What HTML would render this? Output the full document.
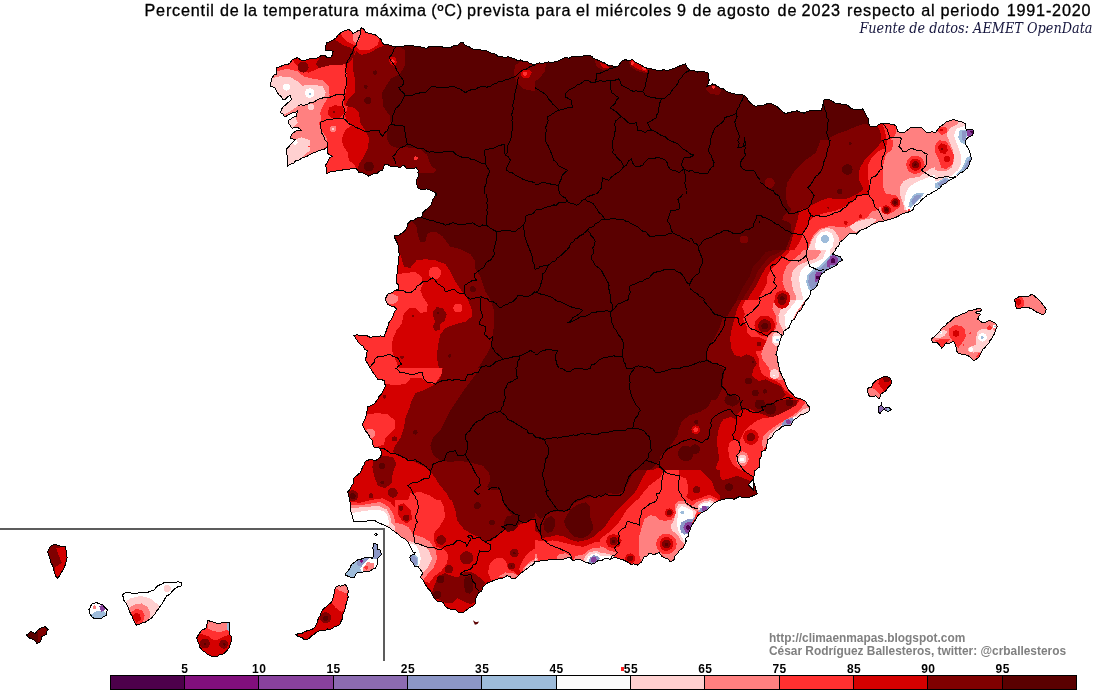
<!DOCTYPE html>
<html><head><meta charset="utf-8"><title>Percentil de la temperatura máxima</title>
<style>
html,body{margin:0;padding:0;background:#fff}
body{width:1098px;height:696px;position:relative;overflow:hidden;font-family:"Liberation Sans",sans-serif}
.title{position:absolute;left:0;top:-0.4px;width:1098px;height:21px;font-size:16.2px;letter-spacing:0.805px;-webkit-text-stroke:0.3px #000;line-height:21px;white-space:pre;color:#000}
.title span{position:absolute;top:0}
.src{position:absolute;right:5.5px;top:20.3px;font-family:"DejaVu Serif Condensed","DejaVu Serif","Liberation Serif",serif;font-style:italic;font-size:14.3px;line-height:17px;white-space:nowrap;color:#14143c}
.cred{position:absolute;left:769px;font-weight:bold;font-size:11.9px;line-height:13px;white-space:nowrap;color:#808080}
</style></head><body>
<svg width="1098" height="696" viewBox="0 0 1098 696" style="position:absolute;left:0;top:0">
<defs>
<clipPath id="land"><path d="M287.0,166.5 L287.6,163.0 L287.8,159.1 L287.1,155.7 L286.7,153.1 L286.5,149.0 L290.1,145.2 L293.0,141.7 L295.1,139.7 L290.1,138.2 L292.1,134.0 L294.8,131.8 L297.4,130.5 L301.3,130.2 L297.6,127.2 L292.1,128.2 L289.1,124.0 L288.1,120.7 L291.5,118.5 L293.9,117.1 L296.3,116.4 L297.6,110.7 L294.3,113.0 L292.3,112.9 L287.2,115.6 L285.0,117.2 L282.7,113.8 L280.8,112.7 L281.3,109.2 L283.8,106.4 L285.8,104.6 L288.0,102.7 L291.3,99.6 L290.6,95.1 L287.4,96.9 L285.6,99.1 L283.0,100.1 L281.4,96.9 L278.8,94.6 L276.7,91.6 L275.0,87.6 L270.5,86.4 L270.9,82.4 L272.0,78.1 L273.9,75.2 L277.0,73.8 L276.9,69.9 L276.3,67.6 L280.1,66.7 L284.7,64.6 L287.6,64.6 L290.2,63.0 L292.1,59.6 L297.6,57.6 L301.0,60.1 L304.6,60.6 L307.6,59.4 L311.8,58.4 L313.8,58.8 L317.7,57.8 L321.2,55.6 L324.6,55.1 L327.2,57.6 L330.1,58.1 L332.1,55.4 L333.1,51.3 L328.8,50.1 L325.6,50.1 L325.3,47.4 L326.4,43.0 L329.5,41.8 L333.1,40.0 L336.0,38.1 L337.8,35.3 L340.6,33.0 L344.8,30.4 L348.9,29.5 L351.8,31.8 L353.2,33.8 L356.8,31.2 L359.5,30.5 L361.4,27.5 L364.1,29.5 L365.7,32.5 L371.5,33.8 L375.9,35.1 L379.0,38.0 L381.2,39.4 L382.6,43.3 L384.7,45.0 L388.3,44.7 L392.7,46.4 L396.5,46.5 L400.8,47.0 L403.9,46.0 L407.8,45.9 L410.3,46.0 L413.3,45.9 L416.2,46.8 L419.2,46.1 L422.8,47.6 L426.7,48.3 L429.2,46.5 L432.7,46.5 L437.2,46.9 L440.3,46.0 L443.6,47.5 L447.8,47.0 L450.8,47.6 L453.4,45.5 L457.5,45.9 L459.4,43.1 L462.9,42.5 L465.8,45.8 L468.7,46.4 L472.9,49.1 L475.7,49.3 L479.9,49.5 L481.8,50.3 L485.3,50.5 L487.9,51.3 L491.9,53.4 L495.5,54.2 L497.9,56.6 L501.5,56.2 L504.6,58.0 L508.4,56.6 L510.5,57.6 L514.3,58.5 L517.0,60.3 L520.4,60.0 L523.0,61.3 L526.7,61.0 L528.9,63.0 L532.2,64.2 L535.0,64.6 L539.2,62.8 L542.6,63.4 L545.0,62.6 L548.2,61.9 L552.7,62.6 L555.0,61.3 L558.1,61.1 L561.9,59.2 L565.1,57.6 L569.2,58.2 L570.9,56.9 L575.1,56.3 L577.4,56.1 L582.0,56.4 L583.6,55.6 L587.6,55.1 L591.6,56.3 L593.5,58.2 L596.4,59.6 L598.7,60.4 L601.0,61.7 L604.6,63.0 L607.6,65.1 L610.8,65.0 L614.9,67.0 L617.7,66.3 L620.5,63.1 L621.4,61.3 L625.3,59.7 L628.4,60.5 L632.7,59.6 L635.5,62.2 L637.9,63.3 L640.2,64.6 L642.2,65.9 L645.3,67.6 L649.0,68.8 L654.1,69.2 L657.7,70.6 L660.7,71.0 L663.3,69.5 L666.9,70.5 L670.2,69.6 L673.6,68.4 L675.7,67.6 L679.0,66.3 L681.4,65.1 L685.3,63.8 L687.4,67.9 L690.3,70.1 L693.5,70.6 L697.8,72.1 L700.9,71.6 L704.0,71.9 L707.8,72.6 L708.7,75.5 L709.1,80.1 L708.3,83.5 L706.6,86.4 L710.2,85.5 L712.8,83.9 L716.1,85.2 L720.3,88.1 L723.0,88.7 L727.5,91.9 L730.4,92.6 L732.8,93.9 L737.9,94.2 L739.8,94.7 L744.1,95.1 L747.0,98.1 L747.9,100.1 L750.6,103.1 L751.9,104.1 L755.4,106.4 L758.8,105.7 L761.5,105.3 L765.0,104.9 L767.9,103.2 L770.6,103.6 L773.8,104.8 L776.7,106.4 L778.6,108.3 L781.6,110.7 L785.5,113.9 L788.5,112.5 L794.0,111.6 L796.7,110.7 L800.5,112.1 L804.2,113.2 L806.9,111.7 L810.0,110.7 L814.6,110.3 L817.6,110.6 L821.3,110.7 L822.6,106.2 L823.0,104.5 L823.0,100.1 L828.8,99.6 L832.8,101.5 L835.0,103.2 L837.2,103.9 L840.4,103.9 L845.1,104.6 L847.6,105.2 L851.3,108.9 L855.1,109.1 L859.6,109.6 L862.6,108.9 L865.1,112.8 L866.4,116.4 L868.6,118.7 L868.9,124.0 L870.1,126.4 L873.2,126.7 L876.4,126.4 L879.0,124.2 L882.6,123.2 L886.1,123.1 L888.9,123.8 L894.0,124.7 L896.4,126.4 L897.7,131.5 L899.8,132.6 L903.9,132.7 L907.6,130.1 L910.2,127.7 L913.5,127.9 L917.8,127.0 L920.2,127.2 L922.0,128.1 L925.1,131.4 L927.7,132.7 L932.0,131.8 L935.2,132.7 L938.1,129.2 L940.2,126.4 L943.7,124.4 L946.5,121.4 L950.9,120.6 L952.7,119.8 L956.5,120.2 L959.5,121.8 L963.2,122.1 L965.3,123.9 L965.3,127.9 L966.5,130.2 L969.3,129.4 L974.0,130.2 L972.8,135.2 L967.8,137.7 L965.7,140.3 L965.3,144.0 L967.9,147.6 L969.0,150.2 L970.3,153.4 L970.9,156.5 L971.5,159.0 L969.9,161.6 L969.1,164.5 L967.8,167.8 L965.9,169.0 L963.4,171.7 L960.3,172.8 L956.5,176.5 L953.6,178.2 L949.0,180.3 L945.9,183.4 L942.3,184.5 L940.2,187.8 L936.2,190.3 L932.7,192.0 L930.2,194.1 L927.7,194.0 L926.1,196.4 L922.6,198.8 L920.2,201.5 L918.6,203.4 L914.1,206.3 L913.0,209.6 L910.2,211.5 L907.0,212.5 L902.8,213.5 L899.7,215.0 L897.7,216.5 L894.0,218.0 L891.9,218.8 L888.3,219.9 L885.1,220.3 L882.8,222.0 L879.2,221.3 L876.4,222.8 L872.3,224.4 L868.9,226.6 L866.3,228.1 L862.4,229.8 L860.1,230.3 L856.3,234.1 L853.3,233.1 L848.8,234.1 L846.7,236.6 L842.6,240.3 L839.7,242.3 L838.7,245.7 L836.3,247.8 L835.3,250.3 L832.5,254.1 L837.0,255.6 L840.1,256.6 L842.6,260.4 L838.8,262.2 L836.3,265.4 L831.8,267.8 L828.8,269.1 L825.3,270.5 L824.2,272.2 L821.3,274.1 L819.8,277.4 L818.8,280.4 L817.7,284.4 L816.5,286.3 L813.8,289.2 L810.8,290.6 L810.0,294.2 L810.0,295.4 L808.4,297.9 L805.4,301.3 L804.2,304.2 L802.9,305.7 L800.9,310.3 L798.0,311.7 L796.2,316.0 L794.2,319.2 L791.7,320.9 L790.0,325.2 L789.5,327.4 L786.7,329.2 L784.0,331.1 L783.2,334.5 L781.7,336.8 L780.1,340.3 L779.2,344.3 L777.5,347.6 L777.5,350.1 L775.9,354.3 L777.4,356.7 L777.1,360.1 L778.7,364.3 L779.2,368.1 L779.7,370.9 L781.2,373.9 L783.0,378.0 L784.4,379.9 L785.8,384.3 L786.9,386.4 L788.0,389.3 L791.2,392.9 L793.7,395.4 L795.5,397.6 L800.3,398.6 L803.0,400.1 L805.6,401.4 L807.7,405.4 L809.2,406.8 L810.0,409.6 L808.0,412.0 L804.7,413.8 L800.4,414.9 L798.0,417.3 L795.0,419.0 L792.7,421.6 L791.0,425.1 L787.0,425.2 L784.2,425.9 L781.9,426.8 L778.9,429.4 L776.3,430.8 L773.7,433.6 L772.2,437.1 L767.7,439.6 L766.9,444.9 L765.9,449.9 L761.7,451.7 L761.7,455.7 L759.9,458.7 L759.6,462.3 L759.2,467.2 L754.9,470.7 L754.8,473.1 L753.9,476.7 L753.2,480.4 L753.9,482.7 L755.4,486.9 L755.7,489.7 L757.4,494.0 L753.1,495.7 L749.7,497.3 L746.1,497.5 L742.1,497.5 L739.4,496.5 L734.1,499.2 L728.9,498.2 L723.8,499.2 L718.6,500.7 L713.3,503.5 L710.1,507.0 L706.6,510.3 L701.3,513.0 L698.0,515.5 L695.3,520.0 L694.3,521.8 L691.5,525.8 L690.0,530.2 L688.3,533.3 L688.1,536.4 L685.5,538.4 L685.3,542.1 L686.5,540.8 L685.4,543.6 L682.8,548.3 L679.2,550.4 L677.8,553.3 L674.9,556.2 L674.0,559.6 L670.2,562.1 L668.5,559.1 L665.2,558.3 L661.9,556.2 L659.0,552.6 L654.0,554.6 L649.0,553.3 L647.1,556.0 L643.9,557.1 L641.4,562.1 L637.7,565.1 L633.7,563.8 L631.4,564.6 L627.7,562.1 L622.7,559.6 L618.3,558.7 L615.1,557.1 L610.1,559.6 L607.2,558.4 L603.9,559.1 L600.8,561.0 L597.6,560.8 L595.1,563.0 L591.4,564.1 L587.6,562.7 L585.1,562.1 L580.1,559.6 L576.1,559.8 L572.6,560.8 L570.1,557.1 L567.7,557.8 L562.9,559.3 L560.0,559.1 L555.9,559.1 L552.5,559.6 L549.1,559.7 L545.0,560.8 L541.1,560.5 L539.2,561.2 L535.0,561.6 L533.5,564.6 L530.5,565.8 L527.4,568.5 L525.5,569.6 L522.7,572.0 L520.5,573.3 L517.2,576.8 L515.5,578.4 L511.7,578.6 L509.6,576.2 L506.7,575.8 L503.9,577.8 L500.4,578.4 L495.9,579.5 L492.9,580.9 L488.1,582.6 L485.4,584.6 L483.0,587.0 L481.7,590.9 L478.5,593.0 L476.6,597.1 L475.1,600.0 L475.4,603.4 L473.1,605.8 L470.4,607.2 L468.3,608.6 L465.4,610.9 L463.0,612.5 L459.1,612.7 L455.4,609.7 L451.5,609.5 L447.8,608.4 L445.2,606.0 L442.8,602.1 L438.0,601.6 L435.3,599.6 L432.8,595.9 L431.2,592.7 L430.5,591.0 L427.8,588.4 L425.4,584.6 L424.0,582.1 L422.5,579.2 L420.3,577.1 L422.8,573.3 L420.8,570.1 L418.3,566.8 L414.8,566.1 L413.0,563.3 L411.0,560.8 L409.8,557.1 L411.3,555.3 L414.8,554.1 L415.3,552.3 L413.0,552.1 L411.3,548.8 L409.8,545.3 L408.0,541.8 L404.5,538.3 L401.4,537.6 L399.3,535.1 L396.1,532.8 L394.0,530.8 L391.9,529.9 L389.0,527.3 L383.7,525.0 L378.7,522.8 L375.2,520.8 L369.9,520.3 L365.5,521.4 L361.6,521.6 L358.9,521.3 L353.9,522.0 L352.6,518.2 L352.5,515.9 L351.4,513.3 L350.7,510.8 L350.0,507.3 L350.2,503.2 L349.8,499.7 L348.6,495.9 L347.7,492.0 L350.5,488.5 L351.4,485.7 L353.6,483.0 L353.9,478.2 L355.5,476.5 L359.8,473.1 L361.4,470.7 L362.4,467.2 L364.7,463.8 L365.2,461.2 L369.2,459.8 L371.2,459.2 L374.9,460.9 L377.7,459.4 L380.2,457.2 L381.5,454.4 L381.5,452.1 L380.2,448.1 L376.3,447.8 L374.0,446.9 L372.7,444.4 L372.4,440.5 L370.2,438.1 L369.3,436.1 L366.7,432.1 L365.2,430.6 L362.7,425.6 L363.0,422.8 L365.7,418.0 L366.4,414.3 L367.1,410.1 L367.2,406.8 L371.5,405.6 L374.9,403.2 L377.7,399.3 L379.4,395.7 L381.5,394.3 L382.9,391.1 L385.2,386.8 L384.9,382.9 L384.0,380.5 L381.0,379.5 L377.7,379.3 L375.2,375.5 L373.5,373.4 L371.6,370.1 L370.2,368.0 L368.6,365.4 L366.3,361.2 L365.2,359.3 L366.9,355.5 L366.3,353.8 L367.7,350.5 L364.5,349.3 L363.0,346.1 L360.2,344.3 L358.1,342.0 L356.3,339.2 L353.9,335.5 L357.5,334.8 L360.8,335.8 L362.9,335.5 L367.2,335.9 L370.2,337.3 L373.1,336.7 L377.8,336.9 L380.5,335.9 L384.0,336.8 L385.7,332.5 L386.7,329.2 L387.7,326.7 L388.9,322.5 L391.5,319.2 L393.1,316.2 L394.6,311.6 L396.5,309.2 L394.4,306.9 L391.2,306.2 L387.7,304.2 L385.2,299.2 L387.7,294.2 L391.6,292.8 L393.3,291.7 L395.4,290.2 L399.0,289.2 L398.9,285.0 L396.2,282.8 L396.5,279.2 L396.7,275.1 L397.6,271.8 L397.8,269.1 L397.7,266.0 L398.4,264.2 L398.7,261.1 L398.8,256.7 L399.8,254.1 L398.5,251.8 L398.7,248.1 L397.8,244.1 L395.8,240.2 L394.0,236.1 L399.0,235.3 L400.4,234.0 L404.0,231.6 L406.2,229.1 L407.4,226.3 L408.0,223.4 L410.3,221.0 L414.6,219.7 L416.7,218.0 L420.3,217.8 L422.5,215.4 L422.8,212.5 L425.3,210.3 L428.3,208.0 L431.6,204.0 L432.5,199.9 L433.9,197.9 L436.6,194.0 L436.9,196.2 L435.0,192.5 L431.6,190.8 L428.8,189.4 L426.1,188.9 L422.5,190.0 L418.1,188.1 L416.2,183.1 L416.6,179.3 L418.8,176.2 L418.0,172.9 L418.1,170.0 L416.2,167.8 L411.2,169.0 L406.2,168.1 L403.8,165.0 L400.0,167.5 L395.0,166.2 L391.2,166.9 L387.5,164.4 L384.4,165.0 L382.5,170.6 L378.9,171.3 L377.2,173.7 L373.8,173.8 L368.8,176.2 L363.8,173.1 L358.8,172.5 L356.2,168.0 L353.2,168.1 L348.4,169.3 L346.3,169.3 L342.5,170.0 L340.1,170.9 L336.7,170.9 L333.2,171.5 L329.6,172.1 L327.0,173.8 L326.5,169.4 L325.5,165.0 L327.0,163.1 L329.3,158.1 L332.5,156.2 L328.0,153.8 L327.5,150.8 L327.0,147.5 L323.4,149.6 L318.8,150.5 L314.6,152.6 L311.8,153.5 L309.1,154.9 L306.5,156.7 L302.5,157.5 L298.8,160.2 L295.6,160.5 L293.9,163.0 L289.7,164.6 L287.0,166.2Z"/></clipPath>
<clipPath id="ct1"><rect x="260" y="20" width="275" height="174"/></clipPath>
<clipPath id="ct2"><rect x="535" y="20" width="275" height="174"/></clipPath>
<clipPath id="ct3"><rect x="810" y="20" width="275" height="174"/></clipPath>
<clipPath id="ct4"><rect x="260" y="194" width="275" height="174"/></clipPath>
<clipPath id="ct5"><rect x="535" y="194" width="275" height="174"/></clipPath>
<clipPath id="ct6"><rect x="810" y="194" width="275" height="174"/></clipPath>
<clipPath id="i_mallorca"><path d="M931.5,338.8 L933.2,337.6 L935.4,335.7 L936.5,334.2 L938.6,332.7 L940.2,330.5 L941.3,328.4 L943.2,327.1 L945.5,325.9 L946.5,324.2 L948.2,322.2 L949.8,321.5 L952.3,319.2 L953.6,317.9 L955.3,316.7 L957.2,316.4 L959.8,315.0 L962.2,314.0 L963.8,313.7 L966.4,312.5 L968.0,310.9 L970.3,310.5 L972.5,310.1 L975.5,309.4 L978.3,308.2 L980.3,308.0 L981.6,310.5 L979.1,311.6 L977.0,311.7 L975.3,313.0 L978.4,313.1 L980.3,314.2 L978.5,317.2 L977.8,319.2 L979.8,320.8 L982.8,323.0 L984.8,322.6 L987.1,321.7 L989.1,320.5 L990.6,320.9 L993.4,322.0 L995.3,323.0 L997.3,326.7 L996.1,329.0 L995.2,331.5 L994.1,334.3 L992.8,336.7 L991.6,338.8 L990.1,340.3 L989.1,343.0 L987.5,344.2 L986.3,345.9 L984.7,347.8 L982.8,349.3 L981.4,351.8 L980.3,354.8 L979.1,356.8 L977.0,358.6 L974.0,360.6 L971.4,358.5 L970.1,357.1 L967.8,355.5 L964.7,354.8 L963.2,354.9 L960.5,353.9 L957.8,353.0 L956.7,351.1 L956.3,348.3 L955.8,346.0 L955.3,344.6 L954.0,341.8 L951.3,342.1 L949.6,343.2 L946.5,343.0 L944.6,344.6 L943.7,346.6 L941.5,348.0 L940.1,345.9 L937.7,343.0 L935.7,342.4 L932.7,343.0 L931.9,341.1Z"/></clipPath>
<clipPath id="i_menorca"><path d="M1014.3,299.6 L1015.9,298.7 L1018.2,297.1 L1021.7,296.2 L1024.6,296.5 L1027.1,296.4 L1029.6,295.8 L1031.6,294.2 L1034.1,295.8 L1037.3,298.4 L1039.0,300.2 L1041.1,302.2 L1043.1,304.9 L1044.3,306.7 L1046.2,309.2 L1045.6,312.4 L1043.0,314.9 L1041.1,313.9 L1038.6,313.0 L1034.8,311.1 L1033.1,309.6 L1030.9,308.6 L1027.1,306.9 L1024.0,307.5 L1022.0,307.7 L1020.0,308.3 L1016.9,308.6 L1015.4,305.4 L1015.4,302.4Z"/></clipPath>
<clipPath id="ct7"><rect x="260" y="368" width="275" height="174"/></clipPath>
<clipPath id="ct8"><rect x="535" y="368" width="275" height="174"/></clipPath>
<clipPath id="ct9"><rect x="810" y="368" width="275" height="174"/></clipPath>
<clipPath id="i_ibiza"><path d="M867.2,389.3 L868.5,388.0 L871.6,387.6 L872.4,385.0 L873.3,382.9 L875.9,380.7 L879.3,379.0 L882.8,377.2 L886.2,376.0 L888.8,377.2 L890.5,378.5 L891.8,382.4 L890.5,385.0 L887.9,387.6 L886.2,390.6 L882.8,392.8 L880.6,394.1 L879.8,398.0 L877.6,398.0 L875.9,395.8 L872.4,396.7 L869.8,397.1 L868.1,393.6 L867.7,391.5Z"/></clipPath>
<clipPath id="i_formentera"><path d="M878.9,406.8 L880.9,405.6 L881.4,402.6 L882.1,406.1 L884.4,408.1 L886.9,407.8 L888.9,407.6 L891.4,409.6 L888.1,411.8 L885.6,410.3 L883.9,409.6 L881.6,411.1 L880.1,413.6 L878.1,411.8 L878.6,409.1Z"/></clipPath>
<clipPath id="ct10"><rect x="385" y="542" width="150" height="154"/></clipPath>
<clipPath id="i_ceuta"><path d="M472.9,620.2 L475.9,622.2 L479.1,621.4 L477.4,623.9 L474.9,624.7 L473.9,622.4Z"/></clipPath>
<clipPath id="i_lanzarote"><path d="M345.2,575.1 L345.9,573.4 L348.0,571.3 L348.9,569.6 L350.4,567.2 L351.4,564.6 L354.1,562.5 L356.4,560.8 L358.0,559.5 L360.9,559.3 L362.7,558.3 L365.2,557.6 L367.7,557.1 L370.2,557.5 L372.2,558.3 L373.6,556.1 L374.0,553.3 L373.5,550.9 L372.7,548.3 L373.4,545.3 L374.0,543.3 L377.7,544.5 L377.8,546.5 L377.2,549.0 L380.2,550.1 L381.5,554.1 L380.1,555.8 L377.7,558.3 L377.4,562.0 L377.2,564.6 L375.2,568.3 L372.6,569.3 L370.2,570.8 L367.4,571.8 L364.6,571.2 L362.7,572.1 L359.9,572.3 L356.4,573.3 L355.4,575.7 L353.9,577.6 L351.3,577.7 L348.9,576.6Z"/></clipPath>
<clipPath id="i_fuerteventura"><path d="M295.1,634.7 L297.2,634.2 L299.1,633.1 L302.1,633.4 L303.8,632.2 L306.4,631.0 L308.4,630.5 L311.3,629.7 L313.5,628.5 L315.2,626.5 L316.4,624.7 L317.3,622.2 L317.9,619.7 L318.7,617.7 L320.1,615.9 L320.8,613.2 L322.3,610.5 L323.9,608.4 L326.2,606.8 L327.4,605.6 L329.3,604.0 L331.4,602.1 L332.6,599.5 L333.3,597.4 L333.9,594.6 L334.9,592.1 L335.0,589.0 L336.4,586.6 L338.9,585.6 L340.5,586.2 L343.5,585.1 L345.2,584.6 L346.6,586.4 L347.7,588.4 L348.3,591.4 L347.8,594.2 L348.2,597.1 L347.2,599.7 L346.7,602.0 L346.2,604.1 L345.5,605.8 L345.2,608.4 L344.5,611.2 L343.4,613.2 L343.0,614.5 L342.7,617.2 L342.1,619.3 L340.7,622.0 L339.6,624.7 L337.8,625.8 L334.6,626.7 L332.6,628.4 L330.6,629.3 L327.6,629.0 L325.6,630.2 L322.6,630.2 L319.7,630.8 L316.4,632.2 L313.9,634.4 L311.3,636.0 L309.3,638.3 L306.3,639.7 L303.8,639.4 L302.5,637.8 L300.1,637.2 L297.6,636.1Z"/></clipPath>
<clipPath id="i_graciosa"><path d="M374.7,534.5 L376.2,533.0 L377.2,535.0 L375.7,536.0Z"/></clipPath>
<clipPath id="ct11"><rect x="535" y="542" width="275" height="154"/></clipPath>
<clipPath id="ct12"><rect x="0" y="522" width="275" height="174"/></clipPath>
<clipPath id="i_lapalma"><path d="M47.6,552.1 L48.5,550.5 L49.5,547.4 L51.3,545.8 L55.1,544.0 L57.7,545.4 L59.1,545.7 L61.4,546.5 L65.6,547.0 L66.0,549.9 L66.9,552.0 L66.6,554.2 L67.1,557.1 L66.9,560.1 L65.6,563.3 L65.2,565.0 L63.8,568.1 L63.1,569.6 L61.7,571.9 L60.1,574.6 L59.0,576.6 L57.1,578.4 L55.7,576.0 L54.6,573.3 L53.8,570.7 L53.2,568.4 L52.9,566.5 L52.1,564.6 L50.7,562.6 L50.9,560.0 L49.6,558.3 L49.0,555.8Z"/></clipPath>
<clipPath id="i_hierro"><path d="M26.3,634.7 L28.7,633.7 L30.1,631.7 L32.6,632.2 L35.1,633.5 L36.6,631.7 L37.9,630.2 L40.1,628.4 L42.0,627.7 L45.1,626.7 L48.1,629.7 L46.9,631.4 L46.3,634.2 L43.6,635.6 L41.3,637.2 L41.3,639.1 L40.1,642.2 L37.1,643.5 L35.7,641.4 L33.8,639.7 L31.1,638.7 L28.8,637.7Z"/></clipPath>
<clipPath id="i_gomera"><path d="M88.9,609.7 L90.7,606.6 L91.4,604.1 L94.4,603.2 L96.4,602.6 L99.7,603.8 L102.7,604.7 L104.3,606.7 L105.4,607.7 L107.2,609.7 L106.9,611.9 L106.4,615.2 L103.4,616.7 L101.4,618.4 L98.8,618.9 L95.2,618.9 L92.8,617.6 L90.7,615.2 L89.4,612.8Z"/></clipPath>
<clipPath id="i_tenerife"><path d="M122.0,595.1 L124.7,593.1 L127.7,592.1 L129.5,592.1 L131.7,593.2 L134.8,593.7 L136.5,593.4 L138.3,592.8 L140.8,592.8 L143.2,592.1 L145.3,592.1 L148.2,592.2 L149.9,591.1 L152.8,590.9 L154.4,589.5 L156.2,587.3 L157.8,585.9 L159.7,584.9 L162.1,583.9 L164.1,582.7 L166.6,582.1 L169.8,582.4 L172.2,582.6 L175.3,582.1 L178.3,581.9 L181.6,582.6 L180.8,586.6 L177.8,586.9 L175.3,588.4 L173.0,590.5 L171.6,592.1 L169.5,594.5 L166.6,595.9 L165.2,597.9 L164.5,600.0 L162.8,602.1 L161.8,604.2 L159.8,606.8 L159.0,608.4 L156.9,610.6 L155.3,613.4 L153.3,615.5 L151.5,618.4 L149.8,619.1 L147.3,621.0 L145.3,622.2 L142.6,622.6 L141.0,623.6 L139.2,624.4 L136.5,625.2 L135.0,622.9 L134.1,620.9 L132.7,618.4 L132.4,616.4 L131.0,614.5 L129.6,611.6 L129.0,609.7 L127.8,606.9 L126.9,604.7 L125.2,602.1 L123.7,600.3 L123.5,596.9Z"/></clipPath>
<clipPath id="i_grancanaria"><path d="M196.6,638.5 L197.5,636.2 L199.5,633.4 L200.4,631.7 L202.1,629.8 L204.3,629.3 L206.6,627.2 L206.5,625.4 L208.0,622.3 L207.9,620.2 L210.8,621.6 L214.1,622.2 L216.9,623.4 L220.4,623.4 L223.1,622.3 L226.7,622.2 L229.2,622.2 L229.0,625.0 L229.3,626.7 L229.7,630.1 L229.2,632.2 L229.5,634.7 L230.9,635.8 L231.7,638.5 L231.5,640.6 L230.1,643.7 L229.9,646.0 L228.9,648.0 L227.3,650.4 L225.4,652.2 L223.4,654.0 L220.4,654.2 L217.9,656.0 L215.7,656.1 L212.4,656.7 L210.0,655.6 L207.2,654.1 L205.4,652.2 L202.9,651.1 L201.7,649.4 L199.9,647.2 L199.5,644.9 L198.3,643.3 L197.8,640.7Z"/></clipPath>
<clipPath id="co0"><rect x="690" y="200" width="140" height="110"/></clipPath>
<clipPath id="co1"><rect x="760" y="140" width="175" height="110"/></clipPath>
<clipPath id="co2"><rect x="700" y="300" width="140" height="120"/></clipPath>
<clipPath id="co3"><rect x="480" y="490" width="140" height="90"/></clipPath>
<clipPath id="co4"><rect x="395" y="500" width="140" height="120"/></clipPath>
<clipPath id="co5"><rect x="660" y="400" width="155" height="120"/></clipPath>
<clipPath id="co6"><rect x="600" y="470" width="120" height="100"/></clipPath>
</defs>
<g shape-rendering="crispEdges">
<g clip-path="url(#land)">
<rect x="250" y="20" width="760" height="640" fill="#5a0000"/>
<g clip-path="url(#ct1)">
<path d="M260.0,20.0 L397.2,20.0 L397.2,45.0 L404.8,50.1 L404.8,65.1 L400.3,73.8 L390.7,78.9 L382.0,92.6 L383.2,106.4 L390.2,116.4 L390.7,125.2 L386.5,131.5 L387.2,139.0 L390.2,145.2 L397.2,148.2 L405.3,147.2 L420.3,149.0 L427.3,155.2 L430.8,165.3 L436.6,170.3 L432.8,173.3 L420.3,173.3 L417.8,173.3 L417.8,194.1 L260.0,194.1Z" fill="#800000"/>
<path d="M535.0,61.3 L523.0,60.1 L515.5,65.1 L513.5,72.6 L516.7,82.6 L523.0,88.9 L535.0,91.4Z" fill="#800000"/>
<path d="M520.5,73.8 L523.0,70.1 L529.2,69.6 L531.7,72.6 L529.2,77.6 L523.0,78.1Z" fill="#d40000"/>
<circle cx="525.0" cy="73.8" r="2.0" fill="#ff3030"/>
<path d="M260.0,20.0 L385.2,20.0 L385.2,45.0 L377.7,48.1 L370.2,52.6 L361.4,55.1 L356.4,51.3 L352.7,57.6 L353.2,70.1 L355.2,80.1 L354.7,92.6 L347.7,100.1 L345.2,106.4 L353.9,107.7 L358.9,112.7 L360.2,122.7 L365.2,130.2 L368.9,137.7 L368.2,147.7 L363.9,156.5 L358.9,164.0 L357.7,170.3 L357.7,194.1 L260.0,194.1Z" fill="#d40000"/>
<path d="M340.1,33.8 L348.9,27.5 L361.4,26.3 L371.5,32.5 L379.7,37.5 L377.7,45.0 L370.2,49.6 L360.2,50.1 L353.9,45.0 L346.4,41.3Z" fill="#ff3030"/>
<path d="M353.2,33.8 L360.2,30.0 L359.7,38.8 L356.4,43.8 L352.7,40.0Z" fill="#ff8080"/>
<path d="M292.1,20.0 L292.1,59.6 L297.6,66.3 L301.3,71.3 L308.8,72.6 L317.6,68.8 L327.6,65.1 L337.6,63.1 L343.9,62.6 L346.4,70.1 L347.2,82.6 L345.2,95.1 L343.9,105.2 L347.7,106.4 L345.2,115.2 L346.4,120.2 L351.4,125.2 L345.2,130.2 L342.1,137.7 L342.7,145.2 L347.7,152.7 L348.9,160.3 L355.2,165.3 L356.4,170.3 L356.4,194.1 L260.0,194.1 L260.0,20.0Z" fill="#ff3030"/>
<path d="M328.9,107.7 L335.1,105.2 L342.7,106.4 L344.7,112.7 L340.1,117.7 L331.4,118.2 L327.6,113.9Z" fill="#d40000"/>
<circle cx="333.9" cy="111.9" r="1.5" fill="#800000"/>
<path d="M260.0,20.0 L276.3,20.0 L276.3,71.3 L287.6,68.8 L297.6,71.3 L303.8,76.4 L313.8,78.9 L322.6,80.1 L328.9,86.4 L329.6,95.1 L326.4,100.1 L322.6,106.4 L320.1,112.7 L321.4,120.2 L318.9,122.7 L321.4,130.2 L326.4,137.7 L327.6,145.2 L320.1,151.5 L310.1,156.5 L301.3,159.0 L287.0,167.8 L260.0,194.1Z" fill="#ff8080"/>
<circle cx="333.1" cy="128.9" r="3.3" fill="#ff8080"/>
<circle cx="333.1" cy="128.9" r="1.5" fill="#ffd0d0"/>
<path d="M260.0,78.1 L272.0,78.1 L280.0,76.4 L290.1,77.1 L297.6,81.4 L302.6,85.6 L313.8,84.6 L322.6,86.4 L325.6,92.6 L323.9,97.6 L316.4,100.1 L307.6,103.9 L297.6,106.4 L290.1,111.4 L280.0,116.4 L260.0,120.2Z" fill="#ffd0d0"/>
<path d="M285.0,167.8 L285.0,149.0 L293.8,140.2 L301.3,137.2 L310.1,140.2 L310.1,150.2 L300.1,159.0Z" fill="#ffd0d0"/>
<path d="M285.0,120.2 L295.1,116.4 L297.6,122.7 L292.6,128.2 L285.0,127.7Z" fill="#ffd0d0"/>
<circle cx="310.8" cy="106.9" r="3.3" fill="#ffd0d0"/>
<circle cx="286.3" cy="87.1" r="3.5" fill="#ffffff"/>
<circle cx="309.6" cy="93.1" r="4.8" fill="#ffffff"/>
<circle cx="295.1" cy="142.2" r="2.5" fill="#ffffff"/>
<circle cx="310.1" cy="93.9" r="1.0" fill="#9ebcda"/>
<path d="M325.6,50.1 L326.4,41.3 L333.1,38.8 L337.6,41.3 L342.7,45.0 L350.2,47.6 L355.2,51.3 L353.2,57.6 L348.9,63.1 L340.1,65.1 L332.6,64.6 L325.6,66.3 L318.9,68.1 L315.6,63.8 L320.1,57.6 L324.6,52.6 L330.1,58.1 L333.1,51.3Z" fill="#800000"/>
<circle cx="303.1" cy="67.1" r="5.5" fill="#800000"/>
<circle cx="375.2" cy="72.6" r="2.3" fill="#5a0000"/>
<circle cx="365.7" cy="86.9" r="2.0" fill="#5a0000"/>
<circle cx="367.7" cy="100.6" r="3.5" fill="#5a0000"/>
<circle cx="368.9" cy="166.5" r="5.0" fill="#5a0000"/>
<circle cx="308.8" cy="146.5" r="0.8" fill="#ff3030"/>
<circle cx="415.8" cy="158.3" r="2.0" fill="#ff3030"/>
<path d="M389.0,57.6 L395.2,57.1 L397.2,62.6 L394.0,66.3 L389.7,63.8Z" fill="#d40000"/>
<circle cx="392.7" cy="61.3" r="2.0" fill="#ff3030"/>
</g>
<g clip-path="url(#ct2)">
<path d="M535.0,57.6 L546.3,61.3 L545.0,71.3 L538.8,78.9 L535.0,81.4Z" fill="#800000"/>
<path d="M593.9,57.6 L607.6,62.6 L610.1,68.8 L602.6,70.1 L596.4,66.3Z" fill="#800000"/>
<path d="M599.6,63.1 L607.6,64.6 L608.9,68.1 L603.1,68.1Z" fill="#d40000"/>
<path d="M627.7,57.6 L633.9,57.6 L649.0,67.6 L647.7,73.8 L637.7,71.3 L630.2,66.3Z" fill="#800000"/>
<path d="M629.7,58.8 L633.9,58.8 L647.7,68.1 L646.5,72.1 L638.9,69.6 L631.4,65.1Z" fill="#d40000"/>
<circle cx="632.2" cy="63.1" r="1.8" fill="#ff3030"/>
<circle cx="644.4" cy="67.6" r="2.3" fill="#ff3030"/>
<path d="M705.3,88.9 L712.8,83.9 L721.6,90.1 L719.1,95.1 L710.3,93.9Z" fill="#800000"/>
<circle cx="713.3" cy="87.1" r="1.5" fill="#ff3030"/>
<path d="M810.0,156.5 L804.2,160.3 L796.7,170.3 L790.5,180.3 L785.5,194.1 L810.0,194.1Z" fill="#800000"/>
<path d="M764.9,182.8 L766.7,179.0 L771.7,178.3 L774.9,182.8 L772.9,187.8 L767.9,188.3Z" fill="#800000"/>
</g>
<g clip-path="url(#ct3)">
<path d="M870.1,95.1 L870.1,125.2 L863.8,123.9 L856.3,126.4 L847.6,130.2 L840.1,132.7 L830.0,137.7 L827.5,145.2 L825.0,155.2 L820.0,160.3 L815.0,162.3 L810.0,162.8 L810.0,194.1 L910.2,194.1 L910.2,95.1Z" fill="#800000"/>
<circle cx="847.6" cy="170.3" r="5.5" fill="#5a0000"/>
<circle cx="850.1" cy="143.2" r="1.5" fill="#5a0000"/>
<circle cx="838.8" cy="192.3" r="2.5" fill="#5a0000"/>
<path d="M877.6,95.1 L877.6,126.4 L880.6,132.7 L881.4,140.2 L877.6,147.7 L870.1,155.2 L863.8,162.8 L860.1,170.3 L858.8,180.3 L860.1,194.1 L985.3,194.1 L985.3,95.1Z" fill="#d40000"/>
<path d="M882.6,95.1 L882.6,123.9 L885.1,131.5 L886.4,140.2 L882.6,150.2 L875.1,156.5 L868.9,164.0 L866.4,172.8 L866.4,182.8 L868.9,194.1 L985.3,194.1 L985.3,95.1Z" fill="#ff3030"/>
<path d="M897.2,95.1 L897.2,127.2 L895.2,135.2 L890.1,140.2 L886.4,147.7 L885.1,156.5 L885.1,165.3 L881.4,175.3 L882.6,185.3 L885.1,194.1 L985.3,194.1 L985.3,95.1Z" fill="#ff8080"/>
<path d="M898.9,194.1 L900.2,185.3 L906.4,179.0 L917.7,177.8 L927.7,174.0 L935.2,170.3 L945.2,171.5 L951.5,167.8 L954.0,160.3 L952.8,150.2 L949.0,140.2 L946.5,134.0 L950.3,127.7 L957.8,123.9 L960.3,118.9 L985.3,118.9 L985.3,194.1Z" fill="#ffd0d0"/>
<path d="M908.9,194.1 L913.9,186.6 L927.7,182.3 L940.2,180.3 L950.3,176.5 L957.8,170.3 L961.5,162.8 L960.3,152.7 L956.5,142.7 L954.0,135.2 L956.5,128.9 L962.8,126.4 L970.3,126.4 L985.3,126.4 L985.3,194.1Z" fill="#ffffff"/>
<path d="M959.8,129.7 L967.3,129.7 L965.8,144.5 L960.8,142.7 L958.3,137.2Z" fill="#9ebcda"/>
<path d="M961.8,131.5 L966.8,130.7 L965.3,141.5 L961.8,139.7Z" fill="#8c96c6"/>
<path d="M966.5,129.7 L974.8,129.7 L973.3,135.7 L967.8,137.7Z" fill="#88419d"/>
<path d="M970.3,131.5 L974.3,130.7 L972.8,134.7Z" fill="#4d004b"/>
<path d="M971.5,154.0 L966.5,158.3 L961.5,169.0 L955.3,174.8 L960.3,174.8 L970.3,168.3 L972.8,159.0Z" fill="#9ebcda"/>
<path d="M971.5,156.5 L967.8,160.3 L963.3,169.8 L969.0,167.8 L972.3,159.8Z" fill="#8c96c6"/>
<path d="M934.7,184.0 L945.2,177.3 L951.5,180.3 L941.5,189.1 L935.2,188.3Z" fill="#9ebcda"/>
<path d="M937.2,184.0 L945.2,179.0 L949.0,180.8 L941.5,187.3Z" fill="#8c96c6"/>
<path d="M913.9,194.1 L915.2,191.8 L922.7,191.8 L924.0,194.1Z" fill="#9ebcda"/>
<path d="M905.7,164.0 L908.2,157.8 L915.2,155.2 L922.2,157.8 L924.7,164.0 L922.2,170.3 L915.2,172.8 L908.2,170.3Z" fill="#ff3030"/>
<path d="M909.7,164.0 L911.4,160.3 L915.2,159.0 L919.7,160.8 L920.7,164.8 L918.9,168.3 L914.7,169.5 L910.9,167.8Z" fill="#d40000"/>
<circle cx="915.4" cy="164.8" r="1.3" fill="#800000"/>
<path d="M935.2,145.2 L939.0,140.2 L946.5,141.5 L950.3,147.7 L954.0,155.2 L952.8,164.0 L946.5,169.0 L941.5,167.8 L939.0,160.3 L935.2,152.7Z" fill="#ff3030"/>
<path d="M937.7,146.5 L941.5,143.2 L946.5,145.2 L947.8,150.2 L945.2,154.0 L940.2,152.7Z" fill="#d40000"/>
<circle cx="947.2" cy="159.0" r="3.0" fill="#d40000"/>
<circle cx="942.2" cy="149.0" r="1.3" fill="#800000"/>
<path d="M936.5,130.2 L940.2,126.4 L946.5,127.7 L946.5,132.7 L941.5,135.2Z" fill="#ff3030"/>
<circle cx="941.5" cy="130.2" r="1.3" fill="#d40000"/>
</g>
<g clip-path="url(#ct4)">
<path d="M260.0,219.0 L410.3,219.0 L416.5,226.6 L417.8,235.3 L420.3,241.6 L425.3,241.6 L427.8,232.8 L435.3,231.6 L442.8,236.6 L450.3,246.6 L460.4,249.1 L470.4,254.1 L475.4,261.6 L475.4,269.1 L480.4,276.7 L485.4,291.7 L490.4,299.2 L494.2,311.7 L494.2,324.2 L492.9,334.3 L491.7,344.3 L486.7,354.3 L480.4,364.3 L477.9,368.1 L260.0,368.1Z" fill="#800000"/>
<path d="M260.0,254.1 L400.3,254.1 L404.0,266.6 L410.3,267.9 L416.5,260.4 L425.3,259.1 L435.3,260.4 L445.3,264.1 L450.3,271.6 L455.4,281.7 L460.4,289.2 L467.9,299.2 L471.6,309.2 L471.6,316.7 L465.4,321.7 L455.4,324.2 L445.3,328.0 L440.3,334.3 L438.3,344.3 L436.6,356.8 L439.1,368.1 L260.0,368.1Z" fill="#d40000"/>
<path d="M260.0,271.6 L399.0,274.1 L405.3,272.9 L415.3,272.1 L421.5,276.7 L422.8,284.2 L420.3,290.4 L422.8,296.7 L427.8,304.2 L426.6,311.7 L420.3,313.0 L415.3,308.0 L409.0,308.0 L404.0,313.0 L401.5,324.2 L396.5,330.5 L392.7,339.3 L391.5,349.3 L395.2,359.3 L399.0,368.1 L260.0,368.1Z" fill="#ff3030"/>
<circle cx="434.8" cy="272.9" r="6.3" fill="#ff3030"/>
<circle cx="457.9" cy="308.0" r="4.5" fill="#ff3030"/>
<path d="M384.5,298.7 L386.5,294.7 L392.7,293.7 L398.3,296.7 L397.8,301.2 L392.7,304.2 L387.2,303.2Z" fill="#ff8080"/>
<path d="M433.3,311.7 L436.6,307.2 L442.8,308.0 L446.6,314.2 L444.8,320.5 L440.3,324.2 L440.3,329.2 L435.3,331.2 L432.8,326.7 L435.3,321.7 L433.3,316.7Z" fill="#800000"/>
<circle cx="438.3" cy="313.0" r="1.3" fill="#5a0000"/>
<circle cx="472.9" cy="289.2" r="3.0" fill="#5a0000"/>
<circle cx="413.3" cy="316.0" r="1.3" fill="#800000"/>
<circle cx="402.0" cy="357.3" r="1.8" fill="#800000"/>
<circle cx="449.6" cy="356.0" r="1.8" fill="#5a0000"/>
</g>
<g clip-path="url(#ct5)">
<path d="M785.5,194.0 L786.7,204.0 L791.7,212.8 L793.0,219.0 L788.0,231.6 L781.7,242.8 L767.9,250.4 L759.2,257.9 L752.9,269.1 L747.9,280.4 L741.6,290.4 L735.4,301.7 L729.1,314.2 L724.1,324.2 L721.6,334.3 L715.3,346.8 L710.3,354.3 L706.6,368.1 L810.0,368.1 L810.0,194.0Z" fill="#800000"/>
<circle cx="744.1" cy="239.6" r="4.0" fill="#800000"/>
<path d="M810.0,207.8 L801.7,215.3 L798.0,225.3 L794.2,236.6 L785.5,246.6 L771.7,252.9 L761.7,260.4 L755.4,271.6 L750.4,282.9 L744.1,294.2 L737.9,306.7 L732.9,319.2 L729.9,331.8 L729.1,344.3 L732.9,353.0 L735.4,368.1 L810.0,368.1Z" fill="#d40000"/>
<path d="M739.1,368.1 L741.6,358.0 L747.9,354.3 L755.4,356.8 L756.7,368.1Z" fill="#800000"/>
<path d="M810.0,219.0 L804.2,224.1 L800.5,234.1 L796.7,244.1 L788.0,252.9 L779.2,257.9 L771.7,266.6 L767.9,276.7 L761.7,286.7 L755.4,296.7 L749.1,306.7 L745.4,316.7 L747.4,326.7 L752.9,334.3 L760.4,338.0 L767.9,341.8 L766.7,349.3 L761.7,356.8 L760.4,368.1 L810.0,368.1Z" fill="#ff3030"/>
<path d="M810.0,231.6 L806.7,234.1 L805.5,244.1 L801.7,255.4 L794.2,261.6 L786.7,266.6 L783.0,276.7 L785.5,286.7 L790.5,294.2 L791.7,304.2 L783.0,310.5 L775.4,314.2 L772.9,324.2 L772.9,334.3 L770.4,344.3 L766.7,354.3 L765.4,368.1 L810.0,368.1Z" fill="#ff8080"/>
<path d="M810.0,252.9 L800.5,260.4 L793.0,266.6 L789.2,276.7 L791.7,286.7 L795.5,296.7 L795.5,305.5 L785.5,311.7 L779.2,316.7 L777.4,326.7 L779.2,333.0 L772.9,336.8 L771.7,346.8 L770.4,356.8 L771.7,368.1 L810.0,368.1Z" fill="#ffd0d0"/>
<path d="M810.0,259.1 L803.0,264.1 L798.0,269.1 L794.2,279.2 L796.7,289.2 L800.5,299.2 L799.2,306.7 L790.5,311.7 L784.2,316.7 L783.0,324.2 L785.5,330.5 L810.0,330.5Z" fill="#ffffff"/>
<circle cx="777.4" cy="339.3" r="4.3" fill="#ffffff"/>
<circle cx="777.4" cy="339.8" r="1.8" fill="#9ebcda"/>
<path d="M810.0,270.4 L806.7,272.9 L805.5,280.4 L806.7,287.9 L810.0,291.7Z" fill="#9ebcda"/>
<path d="M810.0,274.1 L808.0,276.7 L807.5,281.7 L808.5,286.2 L810.0,287.9Z" fill="#8c96c6"/>
<circle cx="781.7" cy="297.9" r="7.0" fill="#d40000"/>
<circle cx="781.7" cy="297.9" r="4.3" fill="#800000"/>
<circle cx="782.2" cy="298.4" r="2.0" fill="#5a0000"/>
<circle cx="764.2" cy="326.0" r="9.0" fill="#d40000"/>
<circle cx="764.2" cy="326.0" r="5.0" fill="#800000"/>
<circle cx="764.4" cy="326.2" r="2.3" fill="#5a0000"/>
<circle cx="759.2" cy="344.3" r="5.0" fill="#d40000"/>
<circle cx="759.2" cy="344.3" r="2.3" fill="#800000"/>
</g>
<g clip-path="url(#ct6)">
<path d="M810.0,194.0 L930.2,194.0 L930.2,294.2 L810.0,294.2Z" fill="#ff3030"/>
<path d="M810.0,194.0 L858.8,194.0 L850.1,204.0 L837.6,209.0 L825.0,212.8 L816.3,219.0 L810.0,225.3Z" fill="#d40000"/>
<path d="M810.0,194.0 L843.8,194.0 L835.0,199.0 L822.5,202.8 L810.0,206.5Z" fill="#800000"/>
<path d="M810.0,194.0 L825.0,194.0 L817.5,197.8 L810.0,200.3Z" fill="#5a0000"/>
<circle cx="845.1" cy="222.8" r="3.0" fill="#d40000"/>
<circle cx="861.3" cy="216.5" r="2.5" fill="#d40000"/>
<circle cx="827.5" cy="207.8" r="1.0" fill="#d40000"/>
<path d="M870.1,194.0 L873.9,205.3 L878.9,215.3 L872.6,219.0 L863.8,221.6 L856.3,225.3 L850.1,231.6 L842.6,235.3 L832.5,229.1 L822.5,227.8 L815.0,231.6 L810.0,236.6 L810.0,294.2 L930.2,294.2 L930.2,194.0Z" fill="#ff8080"/>
<path d="M875.6,194.0 L876.4,204.0 L880.1,215.3 L885.1,219.0 L895.2,215.3 L901.4,209.0 L903.9,201.5 L902.7,194.0Z" fill="#ff3030"/>
<circle cx="895.2" cy="202.8" r="6.0" fill="#d40000"/>
<circle cx="895.2" cy="202.8" r="3.0" fill="#800000"/>
<circle cx="886.4" cy="210.5" r="4.8" fill="#d40000"/>
<circle cx="886.4" cy="210.5" r="2.5" fill="#800000"/>
<path d="M810.0,234.1 L815.0,231.6 L822.5,229.1 L831.3,230.3 L837.6,235.3 L838.8,244.1 L835.0,251.6 L830.0,256.6 L822.5,261.6 L810.0,266.6Z" fill="#ffd0d0"/>
<path d="M903.9,194.0 L905.2,204.0 L902.7,211.5 L907.7,215.3 L915.2,204.0 L917.7,194.0Z" fill="#ffd0d0"/>
<path d="M817.5,239.1 L821.3,232.8 L828.8,232.8 L833.8,239.1 L832.5,246.6 L826.3,250.4 L823.8,255.4 L820.0,255.4 L821.3,249.1Z" fill="#ffffff"/>
<path d="M906.4,194.0 L907.7,201.5 L906.4,209.0 L910.2,211.0 L913.9,201.5 L915.2,194.0Z" fill="#ffffff"/>
<circle cx="825.0" cy="239.6" r="3.0" fill="#9ebcda"/>
<circle cx="909.2" cy="211.0" r="0.8" fill="#ff3030"/>
<path d="M910.2,194.0 L908.9,204.0 L911.4,209.0 L920.2,200.3 L925.2,194.0Z" fill="#9ebcda"/>
<path d="M912.7,194.0 L911.4,202.8 L917.7,199.0 L921.5,194.0Z" fill="#8c96c6"/>
<path d="M810.0,266.6 L820.0,262.9 L827.5,256.6 L833.8,252.9 L842.6,256.6 L842.6,261.6 L835.0,266.6 L825.0,274.1 L820.0,281.7 L813.8,290.4 L810.0,294.2Z" fill="#9ebcda"/>
<path d="M810.0,269.1 L821.3,265.4 L828.8,258.6 L834.5,254.9 L841.3,257.4 L841.3,261.1 L834.5,265.4 L824.5,272.9 L819.5,280.4 L813.0,289.2 L810.0,291.7Z" fill="#8c96c6"/>
<circle cx="833.0" cy="260.4" r="5.0" fill="#88419d"/>
<circle cx="833.0" cy="260.9" r="2.5" fill="#4d004b"/>
<circle cx="815.0" cy="279.2" r="4.5" fill="#88419d"/>
<circle cx="814.5" cy="279.7" r="2.3" fill="#4d004b"/>
</g>
<g clip-path="url(#ct7)">
<path d="M480.4,368.0 L472.9,378.0 L465.4,388.0 L460.4,395.6 L455.4,403.1 L450.3,410.6 L445.3,420.6 L440.3,430.6 L432.8,438.1 L430.3,445.6 L432.8,454.4 L440.3,460.7 L450.3,461.9 L460.4,460.7 L472.9,463.2 L482.9,465.7 L489.2,473.2 L490.4,480.7 L486.7,487.0 L492.9,490.7 L500.4,498.2 L502.9,508.3 L506.7,515.8 L515.5,514.5 L525.5,512.0 L535.0,510.8 L535.0,542.1 L260.0,542.1 L260.0,368.0Z" fill="#800000"/>
<path d="M504.2,518.3 L510.5,514.5 L518.0,518.3 L516.7,527.0 L509.2,529.5 L504.2,525.8Z" fill="#5a0000"/>
<path d="M442.8,368.0 L440.3,378.0 L432.8,385.5 L422.8,390.5 L415.3,393.0 L411.5,400.6 L409.0,409.3 L405.3,418.1 L404.0,428.1 L400.3,438.1 L395.2,445.6 L392.7,451.9 L397.8,455.7 L404.0,458.2 L412.8,460.7 L422.8,465.7 L430.3,470.7 L435.3,478.2 L440.3,485.7 L446.6,493.2 L451.6,503.2 L455.4,513.3 L457.9,523.3 L462.9,530.8 L472.9,534.6 L485.4,533.3 L495.4,530.8 L502.9,528.3 L510.5,524.5 L518.0,528.3 L525.5,523.3 L535.0,518.3 L535.0,542.1 L260.0,542.1 L260.0,368.0Z" fill="#d40000"/>
<path d="M370.2,368.0 L377.7,379.3 L385.2,383.5 L395.2,385.5 L406.5,383.5 L410.3,378.5 L420.3,377.5 L426.6,381.8 L432.8,384.3 L436.6,381.8 L441.6,374.3 L442.3,368.0Z" fill="#ff3030"/>
<path d="M366.4,414.3 L377.7,413.1 L387.7,414.3 L395.2,420.6 L395.2,428.1 L390.2,433.1 L385.2,438.1 L384.0,444.4 L374.0,448.1 L368.9,438.1 L363.9,430.6 L361.4,425.6Z" fill="#ff3030"/>
<circle cx="370.2" cy="433.6" r="5.0" fill="#ff8080"/>
<path d="M348.9,502.0 L360.2,502.7 L370.2,500.2 L382.7,498.2 L390.2,502.0 L396.5,509.5 L399.0,518.3 L400.3,528.3 L410.3,535.8 L415.3,542.1 L345.2,542.1Z" fill="#ff3030"/>
<path d="M410.3,493.2 L420.3,492.0 L430.3,495.7 L439.1,502.0 L444.1,513.3 L445.3,523.3 L443.3,533.3 L436.6,538.3 L432.8,542.1 L410.3,542.1 L400.3,530.8 L399.0,518.3 L404.0,508.3 L407.8,500.7Z" fill="#ff3030"/>
<path d="M396.5,503.2 L404.0,502.0 L410.3,508.3 L412.8,518.3 L409.0,525.8 L402.8,524.5 L397.8,515.8Z" fill="#d40000"/>
<path d="M350.2,505.2 L365.2,504.5 L380.2,502.0 L389.0,507.0 L394.0,515.8 L395.2,524.5 L406.5,534.6 L415.3,542.1 L345.2,542.1Z" fill="#ff8080"/>
<path d="M350.2,508.3 L365.2,507.0 L379.0,505.8 L386.5,509.5 L390.2,515.8 L391.5,523.3 L400.3,532.0 L410.3,540.8 L345.2,542.1Z" fill="#ffd0d0"/>
<path d="M350.2,513.3 L365.2,510.8 L377.7,509.5 L385.2,512.0 L388.2,517.0 L389.0,524.5 L380.2,524.5 L370.2,523.3 L358.9,523.8 L351.4,524.5Z" fill="#ffffff"/>
<path d="M374.0,459.4 L382.7,455.7 L392.7,456.9 L396.5,463.2 L392.7,473.2 L391.5,483.2 L385.2,488.2 L377.7,485.7 L374.0,475.7 L372.2,466.9Z" fill="#800000"/>
<circle cx="382.0" cy="466.2" r="3.0" fill="#5a0000"/>
<circle cx="382.2" cy="482.5" r="1.8" fill="#5a0000"/>
<circle cx="352.7" cy="495.7" r="5.5" fill="#800000"/>
<circle cx="352.7" cy="496.2" r="3.0" fill="#5a0000"/>
<circle cx="371.0" cy="495.7" r="2.5" fill="#800000"/>
<circle cx="392.7" cy="492.7" r="5.0" fill="#800000"/>
<circle cx="400.8" cy="508.3" r="3.0" fill="#800000"/>
<circle cx="405.8" cy="518.3" r="3.8" fill="#800000"/>
<circle cx="384.5" cy="396.8" r="2.0" fill="#800000"/>
<circle cx="394.5" cy="438.9" r="2.5" fill="#800000"/>
<circle cx="415.3" cy="432.4" r="2.3" fill="#5a0000"/>
<circle cx="477.4" cy="505.2" r="3.5" fill="#5a0000"/>
<circle cx="491.7" cy="522.8" r="2.5" fill="#5a0000"/>
<circle cx="440.3" cy="540.3" r="3.8" fill="#800000"/>
</g>
<g clip-path="url(#ct8)">
<path d="M725.3,368.0 L722.8,378.0 L720.3,388.0 L715.3,398.1 L707.8,405.6 L695.3,411.8 L685.3,416.8 L680.3,424.4 L677.8,433.1 L676.5,440.6 L670.2,445.6 L662.7,453.2 L657.7,463.2 L652.7,468.2 L642.7,473.2 L635.2,479.5 L627.7,488.2 L617.7,495.7 L607.6,499.5 L597.6,500.7 L588.8,504.5 L580.1,508.3 L570.1,513.3 L560.0,513.3 L550.0,510.8 L542.5,514.5 L535.0,518.3 L535.0,542.1 L810.0,542.1 L810.0,368.0Z" fill="#800000"/>
<path d="M565.1,518.3 L572.6,512.0 L585.1,510.8 L592.6,518.3 L591.4,528.3 L582.6,533.3 L572.6,532.0 L566.3,527.0Z" fill="#5a0000"/>
<path d="M543.8,523.3 L548.8,518.3 L555.0,520.8 L555.0,529.5 L548.8,532.0Z" fill="#5a0000"/>
<circle cx="612.6" cy="540.3" r="3.0" fill="#5a0000"/>
<path d="M721.6,480.7 L716.6,475.7 L707.8,473.2 L697.8,471.2 L685.3,468.2 L675.3,466.9 L667.7,468.2 L660.2,466.9 L654.0,469.4 L646.5,474.4 L638.9,479.5 L631.4,488.2 L623.9,495.7 L617.7,503.2 L613.9,513.3 L610.1,520.8 L603.9,527.0 L598.9,533.3 L595.1,542.1 L810.0,542.1 L810.0,480.7Z" fill="#d40000"/>
<path d="M679.0,425.6 L682.8,418.1 L692.8,414.3 L705.3,415.6 L715.3,418.1 L721.6,414.3 L729.1,411.1 L737.9,415.1 L745.4,410.1 L755.4,407.6 L767.9,403.1 L776.7,398.1 L774.2,391.8 L766.7,385.5 L757.9,381.8 L753.4,375.5 L752.9,368.0 L810.0,368.0 L810.0,480.7 L721.6,480.7 L716.6,475.7 L715.3,468.2 L719.1,463.2 L721.6,453.2 L720.3,443.1 L716.6,435.6 L710.3,438.1 L700.3,440.6 L690.3,440.6 L681.5,436.9Z" fill="#d40000"/>
<path d="M716.6,478.2 L730.4,479.5 L740.4,479.5 L747.9,480.7 L755.4,478.2 L757.9,493.2 L750.4,496.2 L740.4,498.7 L727.9,498.7 L717.8,500.0 L714.1,493.2 L715.3,485.7Z" fill="#800000"/>
<path d="M730.4,443.1 L727.9,453.2 L729.1,463.2 L734.1,470.7 L742.9,474.4 L754.1,478.2 L760.4,454.4 L769.2,439.4 L776.7,429.4 L785.5,426.1 L801.7,414.3 L810.0,405.6 L806.7,401.8 L800.5,405.6 L790.5,409.3 L781.7,410.6 L772.9,414.3 L765.4,416.8 L760.4,421.8 L761.7,430.6 L760.4,440.6 L755.4,445.6 L747.9,443.1 L740.4,440.6 L735.4,439.4Z" fill="#ff3030"/>
<path d="M810.0,403.1 L805.5,405.6 L798.0,411.8 L788.0,414.3 L779.2,416.8 L771.7,421.8 L765.4,428.1 L761.7,435.6 L764.2,443.1 L769.2,439.4 L776.7,429.4 L785.5,426.1 L801.7,414.3 L810.0,405.6Z" fill="#ff8080"/>
<path d="M793.0,415.6 L781.7,418.1 L774.2,424.4 L769.2,431.9 L767.9,438.1 L776.7,429.4 L785.5,426.1 L800.5,415.6Z" fill="#ffd0d0"/>
<path d="M788.0,418.1 L781.7,420.6 L776.7,426.9 L785.5,425.6 L793.0,421.1Z" fill="#ffffff"/>
<path d="M781.7,423.6 L785.5,419.3 L793.0,419.3 L793.0,423.1 L785.5,426.1Z" fill="#8c96c6"/>
<circle cx="789.2" cy="421.3" r="2.3" fill="#810f7c"/>
<circle cx="742.4" cy="458.7" r="6.3" fill="#ff8080"/>
<circle cx="742.4" cy="458.7" r="4.3" fill="#ffd0d0"/>
<circle cx="742.4" cy="458.7" r="2.5" fill="#ffffff"/>
<path d="M755.4,368.0 L759.2,376.8 L767.9,381.8 L775.4,379.3 L781.7,378.0 L781.7,368.0Z" fill="#ff3030"/>
<path d="M760.4,368.0 L764.2,375.5 L771.7,379.3 L779.2,376.8 L781.7,368.0Z" fill="#ff8080"/>
<path d="M766.7,368.0 L769.2,375.0 L774.2,378.0 L779.2,374.3 L780.4,368.0Z" fill="#ffd0d0"/>
<circle cx="774.2" cy="374.3" r="3.0" fill="#ffffff"/>
<path d="M783.0,383.0 L788.0,393.0 L795.5,399.3 L810.0,401.8 L810.0,408.1 L800.5,405.6 L793.0,398.1 L785.5,393.0Z" fill="#ff3030"/>
<path d="M679.0,475.7 L670.2,474.4 L661.5,474.4 L652.7,479.5 L645.2,484.5 L637.7,490.7 L631.4,498.2 L626.4,505.8 L622.7,515.8 L620.2,525.8 L615.1,533.3 L612.6,542.1 L710.3,542.1 L710.3,504.5 L702.8,510.8 L695.3,508.3 L687.8,503.2 L685.3,493.2 L682.8,483.2Z" fill="#ff3030"/>
<path d="M652.7,503.2 L646.5,509.5 L641.4,518.3 L638.9,528.3 L640.2,542.1 L685.3,542.1 L695.3,515.8 L689.0,508.3 L681.5,503.2 L675.3,500.7 L667.7,500.7 L660.2,500.7Z" fill="#ff8080"/>
<path d="M671.5,542.1 L671.5,528.3 L672.8,518.3 L675.3,508.3 L680.3,504.5 L690.3,509.5 L695.3,515.8 L685.3,542.1Z" fill="#ffd0d0"/>
<path d="M679.0,507.0 L685.3,505.8 L691.5,510.8 L695.3,515.8 L691.5,523.3 L687.8,533.3 L685.3,542.1 L680.3,542.1 L677.8,535.8 L677.3,525.8 L677.8,515.8Z" fill="#ffffff"/>
<circle cx="682.8" cy="512.8" r="2.0" fill="#9ebcda"/>
<path d="M700.3,512.0 L695.3,515.8 L691.5,523.3 L688.3,530.8 L684.0,530.8 L681.5,525.8 L684.0,520.8 L690.3,517.0 L697.8,509.5 L705.3,505.8 L707.8,507.0Z" fill="#9ebcda"/>
<path d="M699.0,512.0 L694.8,515.8 L690.8,523.3 L687.8,529.5 L684.8,529.5 L682.8,525.8 L685.3,521.3 L690.8,517.8 L698.3,510.8 L704.8,507.0Z" fill="#8c96c6"/>
<circle cx="687.3" cy="527.0" r="3.5" fill="#88419d"/>
<circle cx="687.5" cy="527.5" r="1.8" fill="#4d004b"/>
<circle cx="703.3" cy="508.3" r="2.0" fill="#88419d"/>
<circle cx="669.0" cy="512.8" r="8.0" fill="#ff3030"/>
<circle cx="669.0" cy="512.8" r="4.8" fill="#d40000"/>
<circle cx="669.5" cy="512.8" r="2.5" fill="#800000"/>
<circle cx="665.2" cy="542.1" r="7.5" fill="#ff3030"/>
<circle cx="665.2" cy="542.1" r="4.0" fill="#d40000"/>
<circle cx="748.4" cy="381.0" r="3.5" fill="#5a0000"/>
<circle cx="754.9" cy="393.0" r="3.5" fill="#5a0000"/>
<circle cx="764.2" cy="391.8" r="2.3" fill="#5a0000"/>
<circle cx="731.6" cy="400.6" r="7.0" fill="#5a0000"/>
<circle cx="770.4" cy="409.3" r="4.5" fill="#5a0000"/>
<circle cx="789.2" cy="401.8" r="3.0" fill="#800000"/>
<circle cx="759.2" cy="403.1" r="3.8" fill="#5a0000"/>
<circle cx="685.3" cy="453.2" r="7.5" fill="#5a0000"/>
<circle cx="695.3" cy="449.4" r="3.5" fill="#5a0000"/>
<circle cx="696.0" cy="421.8" r="1.8" fill="#800000"/>
<circle cx="695.3" cy="429.4" r="2.5" fill="#ff3030"/>
<circle cx="750.9" cy="436.9" r="3.5" fill="#800000"/>
<circle cx="696.5" cy="490.0" r="3.3" fill="#800000"/>
<circle cx="690.3" cy="500.0" r="1.3" fill="#800000"/>
<circle cx="729.1" cy="487.0" r="3.8" fill="#5a0000"/>
</g>
<g clip-path="url(#ct10)">
<path d="M400.3,522.0 L535.0,522.0 L535.0,622.2 L400.3,622.2Z" fill="#ff3030"/>
<path d="M435.3,522.0 L435.3,539.5 L440.3,547.0 L445.3,554.6 L446.6,564.6 L440.3,572.1 L432.8,578.4 L427.8,584.6 L424.0,582.1 L432.8,595.9 L442.8,602.1 L455.4,609.7 L465.4,610.9 L475.4,603.4 L481.7,590.9 L485.4,584.6 L486.7,575.8 L491.7,567.1 L495.4,559.6 L490.4,552.1 L491.7,545.8 L485.4,542.0 L477.9,543.3 L472.9,547.0 L467.9,540.8 L460.4,522.0Z" fill="#d40000"/>
<path d="M491.7,522.0 L491.7,545.8 L500.4,549.6 L506.7,547.0 L520.5,545.8 L528.0,540.8 L535.0,538.3 L535.0,522.0Z" fill="#d40000"/>
<circle cx="515.0" cy="553.3" r="8.0" fill="#d40000"/>
<circle cx="511.2" cy="566.6" r="5.5" fill="#d40000"/>
<circle cx="515.0" cy="553.3" r="4.0" fill="#800000"/>
<circle cx="511.2" cy="566.6" r="3.0" fill="#800000"/>
<path d="M420.3,539.5 L430.3,547.0 L436.6,554.6 L437.8,562.1 L432.8,569.6 L426.6,577.1 L422.8,583.4 L407.8,583.4 L407.8,539.5Z" fill="#ff8080"/>
<path d="M411.5,540.8 L420.3,544.5 L427.8,549.6 L432.8,557.1 L430.3,564.6 L425.3,572.1 L420.3,575.8 L407.8,575.8 L407.8,540.8Z" fill="#ffd0d0"/>
<path d="M409.0,542.0 L416.5,547.0 L420.8,554.6 L419.5,562.1 L420.8,572.1 L407.8,572.1Z" fill="#ffffff"/>
<path d="M407.8,554.6 L415.3,554.1 L418.3,559.6 L417.3,566.6 L412.8,568.3 L407.8,564.6Z" fill="#9ebcda"/>
<path d="M408.3,555.8 L414.0,555.3 L416.8,560.1 L415.8,565.6 L412.3,566.6 L408.3,563.3Z" fill="#8c96c6"/>
<path d="M499.2,570.8 L506.7,568.3 L515.5,572.1 L521.7,567.1 L528.0,563.3 L535.0,559.6 L535.0,582.1 L495.4,582.1Z" fill="#ff8080"/>
<path d="M518.0,573.3 L523.0,568.3 L529.2,565.1 L535.0,562.1 L535.0,579.6 L515.5,579.6Z" fill="#ffd0d0"/>
<circle cx="466.6" cy="557.1" r="7.0" fill="#800000"/>
<circle cx="448.3" cy="569.6" r="3.8" fill="#800000"/>
<circle cx="440.3" cy="580.1" r="5.5" fill="#800000"/>
<circle cx="440.8" cy="540.0" r="4.5" fill="#800000"/>
<path d="M454.1,582.1 L460.4,575.8 L467.9,573.3 L474.1,578.4 L477.9,587.1 L476.6,597.1 L470.4,602.1 L460.4,603.4 L454.1,597.1Z" fill="#800000"/>
<path d="M464.1,584.6 L467.9,578.4 L472.9,580.9 L474.1,588.4 L471.6,594.6 L466.6,593.4Z" fill="#5a0000"/>
<path d="M431.6,592.1 L440.3,590.9 L447.8,595.9 L451.6,604.7 L445.3,608.4 L439.1,603.4Z" fill="#800000"/>
</g>
<g clip-path="url(#ct11)">
<path d="M535.0,522.0 L710.3,522.0 L710.3,572.1 L535.0,572.1Z" fill="#ff3030"/>
<path d="M535.0,522.0 L535.0,549.6 L545.0,548.3 L555.0,549.6 L562.6,553.3 L570.1,555.8 L576.3,552.1 L583.8,549.6 L592.6,548.3 L601.4,549.6 L608.9,552.1 L616.4,549.6 L621.4,542.0 L621.4,522.0Z" fill="#d40000"/>
<path d="M547.5,522.0 L547.5,542.0 L555.0,545.8 L572.6,547.0 L590.1,545.8 L602.6,542.0 L602.6,522.0Z" fill="#800000"/>
<circle cx="613.1" cy="540.8" r="7.5" fill="#d40000"/>
<circle cx="613.1" cy="540.8" r="5.0" fill="#800000"/>
<circle cx="630.2" cy="558.3" r="5.0" fill="#d40000"/>
<circle cx="630.2" cy="558.8" r="2.5" fill="#800000"/>
<path d="M638.9,542.0 L640.2,549.6 L642.7,557.1 L649.0,553.3 L654.0,554.6 L659.0,552.6 L665.2,558.3 L670.2,563.3 L675.3,559.6 L682.8,549.6 L687.8,540.8 L687.8,532.0 L695.3,522.0 L640.2,522.0Z" fill="#ff8080"/>
<path d="M670.2,522.0 L671.5,532.0 L675.3,539.5 L679.0,547.0 L682.8,549.6 L687.8,540.8 L689.0,532.0 L695.3,522.0Z" fill="#ffd0d0"/>
<path d="M674.0,522.0 L676.5,530.8 L680.3,538.3 L685.3,541.5 L688.3,532.0 L695.3,522.0Z" fill="#ffffff"/>
<path d="M681.5,522.0 L681.5,528.3 L685.3,535.0 L688.8,530.8 L695.3,522.0Z" fill="#9ebcda"/>
<path d="M682.8,522.0 L682.8,527.5 L685.8,533.3 L688.8,529.5 L695.3,522.0Z" fill="#8c96c6"/>
<path d="M686.0,522.0 L685.3,528.3 L687.8,531.5 L690.3,525.8 L692.8,522.0Z" fill="#810f7c"/>
<circle cx="666.5" cy="544.0" r="10.5" fill="#ff3030"/>
<circle cx="666.5" cy="544.0" r="7.0" fill="#d40000"/>
<circle cx="666.5" cy="544.0" r="4.0" fill="#800000"/>
<circle cx="666.5" cy="544.5" r="1.8" fill="#5a0000"/>
<path d="M581.3,560.1 L586.3,553.3 L595.1,550.8 L605.1,553.3 L610.1,560.1Z" fill="#ff8080"/>
<path d="M583.8,560.8 L588.1,554.6 L595.1,552.6 L603.1,554.6 L607.6,560.1Z" fill="#ffd0d0"/>
<path d="M586.3,561.6 L590.1,555.8 L595.1,554.1 L600.6,555.8 L603.1,560.1 L597.6,563.3Z" fill="#ffffff"/>
<path d="M589.6,561.6 L592.1,556.6 L596.4,555.8 L598.9,559.1 L595.1,564.1Z" fill="#8c96c6"/>
<circle cx="593.9" cy="560.1" r="2.0" fill="#88419d"/>
<path d="M557.5,560.1 L560.0,553.3 L567.6,552.1 L571.3,557.1 L570.1,560.1Z" fill="#ff8080"/>
</g>
</g>
<g clip-path="url(#i_mallorca)">
<path d="M927.7,304.2 L1000.3,304.2 L1000.3,364.3 L927.7,364.3Z" fill="#ff8080"/>
<path d="M949.3,328.3 L954.4,325.2 L960.8,325.8 L964.6,329.6 L965.9,336.0 L963.4,341.1 L960.8,344.9 L958.2,348.0 L955.1,343.6 L951.9,339.8 L949.3,336.0Z" fill="#ff3030"/>
<path d="M935.2,340.5 L942.9,338.5 L950.3,339.3 L947.2,342.8 L942.9,347.3 L938.2,345.8Z" fill="#ff3030"/>
<circle cx="956.0" cy="333.5" r="3.2" fill="#d40000"/>
<path d="M932.7,336.8 L939.1,332.2 L944.2,329.6 L947.4,332.2 L944.2,336.0 L939.1,338.5Z" fill="#ffd0d0"/>
<circle cx="941.0" cy="332.4" r="1.5" fill="#ffffff"/>
<circle cx="940.7" cy="332.5" r="0.8" fill="#9ebcda"/>
<path d="M976.1,338.5 L977.4,332.2 L981.2,329.0 L987.6,329.6 L992.7,328.3 L995.2,332.2 L993.3,337.3 L989.5,341.1 L986.9,346.2 L984.4,349.4 L979.9,351.9 L973.5,352.6 L968.5,351.3 L967.2,348.8 L971.0,346.2 L976.1,344.9Z" fill="#ffd0d0"/>
<circle cx="982.5" cy="337.3" r="4.3" fill="#ffffff"/>
<circle cx="982.2" cy="337.5" r="1.6" fill="#9ebcda"/>
<circle cx="971.0" cy="349.4" r="2.3" fill="#ffffff"/>
<circle cx="989.5" cy="327.7" r="2.3" fill="#ff3030"/>
<circle cx="994.6" cy="326.4" r="1.5" fill="#ffffff"/>
<circle cx="995.0" cy="326.6" r="0.8" fill="#9ebcda"/>
<path d="M976.1,356.4 L978.7,353.2 L982.5,352.6 L981.2,355.8 L977.4,359.3Z" fill="#ff3030"/>
<circle cx="970.4" cy="333.2" r="1.0" fill="#ff3030"/>
<circle cx="963.4" cy="344.9" r="1.0" fill="#ff3030"/>
</g>
<g clip-path="url(#i_menorca)">
<path d="M1010.4,292.9 L1047.9,292.9 L1047.9,316.7 L1010.4,316.7Z" fill="#ff8080"/>
<path d="M1013.7,297.7 L1022.0,296.5 L1023.9,300.3 L1024.6,304.1 L1022.0,307.7 L1016.9,309.2 L1015.0,305.4Z" fill="#ff3030"/>
<path d="M1015.6,299.6 L1020.1,298.4 L1021.4,302.8 L1018.8,306.0 L1016.3,304.1Z" fill="#d40000"/>
</g>
<g clip-path="url(#i_ibiza)">
<path d="M865.1,373.0 L895.2,373.0 L895.2,400.6 L865.1,400.6Z" fill="#ff3030"/>
<path d="M865.1,387.5 L871.6,387.5 L875.6,390.0 L880.1,394.5 L880.6,399.3 L865.1,400.6Z" fill="#ff8080"/>
<path d="M879.4,378.0 L878.4,384.0 L881.9,388.5 L884.6,392.0 L893.9,390.5 L893.9,374.3 L881.4,374.3Z" fill="#d40000"/>
<path d="M882.6,377.8 L884.1,381.8 L888.1,382.5 L890.6,380.0 L889.6,375.5 L885.1,375.0Z" fill="#800000"/>
</g>
<g clip-path="url(#i_formentera)">
<path d="M876.4,400.6 L892.7,400.6 L892.7,414.3 L876.4,414.3Z" fill="#8c6bb1"/>
<path d="M887.1,407.6 L892.7,407.6 L892.7,413.1 L887.1,413.1Z" fill="#9ebcda"/>
</g>
<g clip-path="url(#i_ceuta)">
<path d="M470.4,617.2 L480.4,617.2 L480.4,625.9 L470.4,625.9Z" fill="#5a0000"/>
</g>
<g clip-path="url(#i_lanzarote)">
<path d="M342.7,542.0 L382.7,542.0 L382.7,579.6 L342.7,579.6Z" fill="#9ebcda"/>
<path d="M356.4,559.6 L367.7,556.6 L370.2,562.1 L363.9,567.1 L357.7,565.8Z" fill="#8c96c6"/>
<circle cx="361.4" cy="561.3" r="1.5" fill="#810f7c"/>
<path d="M363.9,563.3 L370.2,557.8 L377.2,559.6 L377.7,565.1 L375.7,568.8 L370.2,571.3 L362.7,572.6 L360.2,568.3Z" fill="#ffffff"/>
<path d="M363.2,567.1 L367.7,562.1 L374.0,563.3 L374.0,568.3 L368.9,571.6 L363.2,571.6Z" fill="#ff8080"/>
<circle cx="366.4" cy="567.6" r="2.0" fill="#ff3030"/>
<path d="M371.7,558.3 L373.5,543.3 L378.2,544.0 L382.0,554.1 L377.7,558.8Z" fill="#8c96c6"/>
</g>
<g clip-path="url(#i_fuerteventura)">
<path d="M292.6,582.1 L350.2,582.1 L350.2,642.2 L292.6,642.2Z" fill="#d40000"/>
<path d="M331.4,602.1 L333.9,594.6 L335.1,584.6 L346.4,583.4 L348.9,588.4 L349.2,597.1 L346.4,608.4 L341.4,612.2 L335.1,607.2Z" fill="#ff3030"/>
<path d="M335.1,587.6 L345.2,584.1 L348.2,588.4 L346.9,593.4 L340.1,590.9Z" fill="#ff8080"/>
<circle cx="325.6" cy="617.7" r="5.5" fill="#800000"/>
<circle cx="325.6" cy="618.2" r="2.5" fill="#5a0000"/>
</g>
<g clip-path="url(#i_graciosa)">
<path d="M372.7,532.0 L379.0,532.0 L379.0,537.0 L372.7,537.0Z" fill="#ffffff"/>
</g>
<g clip-path="url(#i_lapalma)">
<path d="M45.1,542.0 L68.9,542.0 L68.9,579.6 L45.1,579.6Z" fill="#800000"/>
<path d="M56.4,548.3 L67.6,545.8 L68.9,557.1 L67.1,563.3 L61.4,562.1 L58.9,555.8Z" fill="#d40000"/>
<path d="M55.6,567.1 L62.6,562.1 L67.6,563.3 L63.9,570.8 L60.1,575.8 L57.1,579.6 L53.8,573.3Z" fill="#d40000"/>
</g>
<g clip-path="url(#i_hierro)">
<path d="M25.0,624.7 L50.1,624.7 L50.1,644.7 L25.0,644.7Z" fill="#800000"/>
<path d="M26.3,632.2 L37.6,632.2 L37.6,644.7 L26.3,644.7Z" fill="#5a0000"/>
</g>
<g clip-path="url(#i_gomera)">
<path d="M87.7,600.9 L108.9,600.9 L108.9,620.2 L87.7,620.2Z" fill="#ffffff"/>
<path d="M90.2,615.2 L96.4,610.9 L103.9,610.9 L107.7,615.2 L101.4,619.7 L95.2,620.2Z" fill="#9ebcda"/>
<path d="M98.9,605.9 L102.7,605.2 L105.2,609.7 L101.4,612.2Z" fill="#88419d"/>
<circle cx="94.4" cy="607.2" r="1.8" fill="#ff8080"/>
</g>
<g clip-path="url(#i_tenerife)">
<path d="M120.2,580.9 L182.8,580.9 L182.8,625.9 L120.2,625.9Z" fill="#ffffff"/>
<path d="M125.2,602.1 L130.2,598.4 L140.3,595.9 L150.3,598.4 L156.5,603.4 L160.3,607.2 L155.3,613.4 L151.5,619.7 L145.3,623.4 L136.5,625.9 L132.2,618.4 L128.5,609.7Z" fill="#ffd0d0"/>
<path d="M128.2,608.4 L134.0,604.7 L141.5,603.4 L147.8,607.2 L150.3,613.4 L149.0,620.2 L145.3,623.4 L136.5,625.9 L132.2,618.4Z" fill="#ff8080"/>
<path d="M130.2,613.4 L135.2,609.2 L141.5,609.7 L144.8,615.2 L142.8,622.7 L136.5,625.9 L132.2,618.4Z" fill="#ff3030"/>
<path d="M131.5,615.9 L136.5,612.7 L140.3,614.7 L140.8,619.7 L136.5,622.7Z" fill="#d40000"/>
<circle cx="167.3" cy="588.4" r="3.5" fill="#ffd0d0"/>
</g>
<g clip-path="url(#i_grancanaria)">
<path d="M195.4,618.4 L232.9,618.4 L232.9,658.5 L195.4,658.5Z" fill="#ff3030"/>
<path d="M207.4,619.7 L214.1,620.9 L220.4,622.2 L226.7,621.7 L226.7,629.7 L220.4,632.2 L212.9,630.9 L207.9,628.4Z" fill="#ff8080"/>
<path d="M195.4,638.5 L200.4,633.5 L207.9,636.0 L212.9,639.7 L217.9,639.7 L225.4,636.0 L230.4,634.7 L232.9,638.5 L230.9,646.0 L225.4,653.5 L217.9,657.2 L212.4,657.7 L204.9,652.7 L199.1,647.2Z" fill="#d40000"/>
<circle cx="204.9" cy="643.5" r="5.0" fill="#800000"/>
<circle cx="223.7" cy="644.2" r="4.5" fill="#800000"/>
<circle cx="204.9" cy="644.0" r="1.5" fill="#5a0000"/>
<circle cx="224.2" cy="644.2" r="1.5" fill="#5a0000"/>
<path d="M227.2,622.2 L229.9,622.2 L229.9,631.7 L227.4,630.2Z" fill="#9ebcda"/>
</g>
</g>
<g fill="none" stroke="#000" stroke-width="1" stroke-linejoin="round" shape-rendering="crispEdges">
<path d="M361.4,27.5 L360.4,31.5 L360.2,35.0 L358.6,38.3 L357.1,41.7 L356.4,45.0 L353.7,48.0 L352.7,52.6 L350.5,55.0 L349.6,58.0 L348.0,60.3 L346.4,63.8 L346.2,67.9 L345.2,70.1 L346.1,73.7 L345.7,76.5 L346.7,79.1 L346.4,82.6 L346.0,86.6 L344.8,89.4 L344.5,92.2 L343.9,95.1 L344.4,98.8 L342.4,101.9 L342.7,105.2"/>
<path d="M297.6,106.4 L300.2,104.9 L304.7,105.2 L307.2,104.3 L310.1,102.7 L313.5,102.2 L316.4,100.4 L319.0,98.9 L322.9,97.9 L325.1,97.6 L328.7,97.5 L330.9,96.9 L335.1,95.1 L339.2,94.2 L343.9,95.1"/>
<path d="M342.7,105.2 L344.3,108.4 L345.2,112.7 L343.9,115.5 L343.9,118.9 L339.2,119.0 L335.1,118.2 L331.9,119.4 L329.3,119.2 L327.0,119.7 L323.1,121.6 L320.1,122.2"/>
<path d="M320.1,122.2 L320.5,126.5 L321.1,129.6 L321.4,132.7 L323.3,135.4 L325.0,139.9 L327.6,142.7 L327.1,147.7"/>
<path d="M343.9,118.9 L346.2,120.4 L348.9,123.8 L352.7,125.2 L355.3,127.1 L360.3,129.2 L362.7,130.2 L365.3,131.8 L368.9,131.5 L372.7,130.1 L376.6,130.6 L379.0,130.2 L380.1,133.3 L382.7,136.5 L385.0,132.4 L387.7,130.2 L388.7,126.2 L391.5,123.9"/>
<path d="M396.5,46.5 L394.0,48.9 L393.0,51.7 L391.8,54.6 L389.0,57.6 L390.9,60.8 L392.4,62.8 L395.2,66.3 L396.6,70.2 L399.0,73.8 L400.3,76.4 L402.8,79.4 L404.0,82.6 L402.2,86.1 L399.0,87.6 L400.8,90.8 L402.8,92.3 L405.3,95.1 L403.2,98.6 L401.9,101.5 L400.3,103.9 L397.8,106.7 L395.2,108.9 L394.5,112.3 L393.1,114.7 L392.7,117.7 L392.2,121.1 L391.5,123.9"/>
<path d="M405.3,95.1 L407.8,95.4 L412.4,95.2 L415.3,93.9 L417.8,93.6 L421.2,92.4 L425.3,92.6 L429.1,89.1 L431.6,86.4 L435.1,86.5 L437.6,87.8 L442.3,87.6 L445.3,87.6 L450.0,86.8 L454.1,86.4 L457.0,88.0 L460.4,89.0 L463.2,91.3 L465.4,92.6 L468.7,90.7 L472.2,89.3 L475.7,89.4 L477.9,87.6 L481.5,86.6 L483.3,86.4 L486.6,87.2 L490.4,86.4 L493.0,84.2 L496.0,83.5 L498.7,81.7 L502.3,81.9 L504.2,80.1 L508.6,79.1 L510.7,78.0 L515.5,76.4 L518.6,73.6 L519.5,72.2 L523.0,70.1 L526.2,69.2 L528.5,67.4 L532.6,65.8 L535.0,65.1"/>
<path d="M391.5,123.9 L395.1,125.2 L396.8,125.0 L400.4,125.3 L404.0,126.4 L405.0,131.6 L405.3,135.2 L406.4,139.1 L406.3,141.4 L407.8,144.0 L404.3,146.4 L400.3,147.7 L396.8,151.4 L395.2,154.4 L392.7,156.5 L394.9,159.6 L395.2,164.0"/>
<path d="M407.8,144.0 L410.7,145.0 L414.8,146.8 L417.1,147.9 L420.3,149.0 L423.7,148.8 L425.4,150.5 L429.4,152.2 L432.2,151.3 L435.3,152.7 L439.5,152.3 L441.6,152.5 L445.0,151.4 L449.8,151.3 L452.9,151.5 L455.2,153.8 L458.4,155.8 L460.4,156.5 L463.0,157.7 L467.2,157.2 L470.6,159.1 L472.9,159.0 L475.8,160.4 L480.4,162.8 L485.4,164.0"/>
<path d="M519.2,76.4 L517.6,79.7 L517.6,82.1 L516.8,86.3 L516.0,88.9 L515.1,92.7 L514.2,95.1 L514.6,98.0 L513.4,101.7 L512.8,105.1 L513.4,109.3 L512.4,111.4 L511.7,115.2 L512.6,117.5 L511.9,120.8 L512.6,125.0 L513.0,127.7 L512.4,130.3 L511.0,134.1 L511.4,136.7 L510.6,139.4 L509.6,141.5 L508.0,145.2 L507.8,149.1 L507.2,152.5 L505.4,155.2 L508.4,156.8 L510.5,160.3 L508.8,163.3 L507.1,166.4 L506.7,170.3 L509.8,172.5 L512.0,172.7 L515.5,175.3 L518.7,176.7 L523.0,179.4 L525.5,180.3 L529.2,181.2 L531.3,181.6 L535.0,182.8"/>
<path d="M485.4,164.0 L485.2,160.9 L485.4,156.7 L484.1,153.9 L484.2,150.2 L486.9,149.4 L490.8,148.7 L495.4,147.7 L497.5,146.1 L501.6,145.0 L504.2,144.0 L504.6,147.5 L504.1,150.5 L505.4,155.2"/>
<path d="M485.4,164.0 L487.4,167.5 L489.2,170.3 L489.1,173.0 L487.5,176.8 L486.3,179.7 L486.7,182.8 L484.9,186.7 L484.1,189.9 L484.2,194.1"/>
<path d="M535.0,87.6 L537.8,89.4 L541.9,92.0 L545.0,93.9 L547.5,96.4 L548.5,99.2 L551.4,101.6 L552.5,103.9 L555.8,106.6 L558.8,110.2 L562.0,109.5 L566.0,108.4 L569.3,107.5 L572.6,107.7 L571.5,103.0 L571.3,100.1 L567.4,97.9 L565.1,97.6 L566.1,93.0 L568.8,90.1 L571.2,89.0 L574.4,87.4 L576.5,85.3 L580.1,83.9 L581.7,82.8 L585.1,80.1 L588.2,80.1 L590.9,82.4 L595.1,82.1 L598.9,81.1 L601.1,80.7 L603.9,81.6 L606.9,80.6 L610.1,80.1 L614.3,80.4 L618.9,78.9 L620.6,82.2 L621.4,85.1 L625.1,86.9 L628.1,88.4 L630.2,90.1 L632.8,91.1 L636.7,90.9 L639.2,91.9 L642.7,91.4 L645.2,86.4 L645.6,83.2 L646.5,80.1 L647.7,75.6 L648.1,72.8 L649.0,69.6"/>
<path d="M595.1,82.1 L596.3,78.7 L596.4,73.8 L599.9,73.3 L603.3,71.7 L607.6,70.1 L609.7,68.5 L612.7,68.1 L616.4,67.6"/>
<path d="M610.1,80.1 L611.1,84.0 L610.5,86.9 L611.0,90.3 L611.4,92.6 L613.5,93.6 L615.7,95.9 L618.9,97.6 L616.3,100.2 L615.2,103.3 L612.9,105.5 L610.1,107.7 L613.6,110.0 L616.7,112.1 L619.5,115.1 L621.4,116.4 L624.2,118.9 L626.9,121.5 L630.2,123.9 L633.2,123.4 L636.4,122.7 L637.2,127.0 L637.7,130.2 L640.8,130.6 L645.2,132.7 L647.4,130.5 L651.5,130.2 L648.9,126.1 L647.7,122.7 L651.3,120.8 L654.2,119.0 L656.5,117.7 L656.4,115.3 L658.7,112.0 L659.0,107.7 L659.1,104.5 L660.2,102.0 L661.5,98.9 L664.8,98.0 L668.2,94.8 L670.2,93.9 L671.3,91.3 L674.1,87.8 L675.6,86.5 L677.6,83.8 L679.0,80.1 L681.9,77.2 L682.2,75.7 L685.3,72.6 L690.3,70.1"/>
<path d="M642.7,91.4 L645.2,95.1 L648.1,96.4 L651.1,97.5 L655.2,97.9 L658.1,99.0 L661.5,98.9"/>
<path d="M558.8,110.2 L555.4,111.7 L552.8,113.7 L550.0,115.6 L547.5,116.4 L548.1,120.6 L547.2,123.5 L545.6,127.5 L546.3,130.2 L545.6,135.0 L545.0,137.7 L545.6,141.0 L546.9,144.2 L548.4,146.1 L550.0,150.2 L551.8,154.2 L552.2,156.0 L553.8,160.3 L556.4,162.3 L559.0,166.2 L562.6,167.8 L567.6,170.3 L564.7,172.9 L561.3,176.5 L561.3,179.0 L559.4,182.8 L558.8,185.3 L558.9,190.5 L560.0,194.1"/>
<path d="M535.0,184.0 L537.9,184.6 L542.5,182.3 L545.0,182.8 L549.0,183.6 L552.4,184.5 L555.9,185.0 L558.8,185.3"/>
<path d="M621.4,116.4 L618.9,118.1 L615.1,121.4 L614.9,125.4 L615.5,128.0 L615.1,130.3 L614.8,134.5 L613.9,137.7 L612.8,140.1 L612.7,144.2 L612.8,147.6 L613.2,149.7 L612.6,152.7 L615.7,155.3 L616.4,156.9 L619.3,159.7 L621.4,161.5 L623.9,166.5 L621.1,170.1 L617.7,172.8 L613.8,175.1 L611.5,177.0 L608.9,180.3 L605.3,179.3 L602.6,177.8 L602.1,181.5 L601.3,184.7 L601.4,187.8 L599.8,190.4 L596.4,194.1"/>
<path d="M623.9,166.5 L626.8,164.8 L628.6,160.7 L631.4,159.0 L632.5,163.0 L635.2,166.5 L639.0,166.5 L642.7,165.3 L644.8,162.2 L647.7,159.0 L651.7,158.2 L654.7,158.3 L657.7,157.2 L662.4,158.6 L665.2,160.3 L667.5,162.9 L668.1,166.6 L670.2,169.0 L673.3,170.6 L675.8,170.7 L679.0,172.8 L681.6,170.6 L684.0,169.0"/>
<path d="M651.5,130.2 L654.0,130.9 L656.9,132.4 L659.5,134.6 L662.0,135.7 L665.2,136.5 L667.7,139.4 L671.4,141.2 L675.3,142.7 L678.4,144.3 L679.7,145.7 L683.2,149.2 L685.3,150.2 L687.3,151.4 L690.2,153.9 L694.0,155.2 L690.5,157.0 L687.8,157.8 L684.0,157.8 L682.3,161.2 L681.5,165.3 L684.0,169.0"/>
<path d="M684.0,169.0 L688.3,171.2 L692.1,170.6 L695.3,172.8 L697.6,172.6 L701.8,173.9 L704.5,173.9 L707.8,173.3 L709.4,170.6 L711.1,167.9 L713.4,166.1 L714.1,162.8 L712.6,159.8 L711.3,155.3 L709.1,152.7 L708.8,149.4 L709.5,146.2 L710.8,142.9 L710.3,140.2 L711.0,138.0 L712.7,133.5 L713.8,130.1 L715.3,127.7 L718.3,125.3 L721.2,123.4 L723.2,121.4 L724.9,117.8 L727.9,116.4 L730.0,116.0 L733.5,114.8 L736.6,112.7 L737.1,109.0 L739.3,106.7 L740.4,102.7 L742.4,99.9 L744.1,95.1"/>
<path d="M684.0,169.0 L684.9,173.7 L685.4,175.6 L685.3,180.3 L684.8,183.4 L686.1,188.0 L686.0,191.4 L686.5,194.1"/>
<path d="M736.6,112.7 L737.0,116.5 L736.0,118.8 L734.8,122.1 L735.4,125.2 L736.6,129.2 L737.8,131.5 L739.0,134.7 L739.1,137.7 L737.8,140.5 L739.3,143.5 L737.9,147.7 L741.3,147.4 L745.4,145.2 L745.0,141.0 L744.1,137.7 L744.3,141.2 L743.7,145.5 L745.3,147.7 L744.5,151.4 L745.4,155.2 L743.7,157.5 L741.5,160.3 L740.4,162.8 L740.9,166.3 L742.9,169.0 L745.6,170.2 L749.7,170.1 L752.9,170.3 L755.4,172.5 L757.2,176.3 L758.1,177.6 L760.4,180.3 L761.9,183.2 L763.4,187.2 L764.5,190.0 L765.4,192.8"/>
<path d="M823.0,100.1 L823.5,103.1 L824.1,106.9 L825.0,110.2 L826.7,113.6 L826.6,117.4 L828.8,120.2 L827.4,124.0 L827.4,125.5 L827.1,130.5 L826.3,132.7 L827.8,136.1 L828.8,140.2 L828.0,143.3 L827.0,145.8 L826.4,149.6 L825.0,152.7 L824.5,156.8 L822.5,159.3 L821.3,162.8 L821.2,166.1 L822.5,170.3 L820.4,173.1 L819.8,174.6 L817.5,177.8 L814.9,181.6 L813.8,185.3 L810.0,187.8"/>
<path d="M882.6,123.2 L884.9,126.2 L887.6,130.2 L888.4,133.8 L890.1,137.7 L886.8,139.6 L882.6,140.2 L881.8,143.5 L882.1,147.4 L881.4,150.2 L883.0,154.0 L884.2,156.8 L885.1,159.0 L882.5,162.3 L881.4,165.3 L881.0,168.5 L882.6,172.8 L878.3,174.4 L874.4,174.9 L871.4,176.5 L871.5,178.7 L869.1,183.0 L868.9,185.3 L868.9,189.3 L870.1,194.1"/>
<path d="M890.1,137.7 L892.6,137.9 L897.1,137.3 L900.2,137.2 L902.0,140.3 L902.7,142.7 L900.4,145.9 L898.9,147.7 L901.4,151.5 L905.3,151.6 L907.3,149.7 L910.2,149.0 L912.6,148.2 L916.3,149.0 L920.2,149.0 L922.8,152.4 L926.5,155.2 L927.9,159.9 L927.7,162.8 L926.5,166.7 L925.2,170.3 L921.5,172.8 L923.7,174.0 L927.3,174.6 L930.2,175.3 L935.2,178.3 L937.7,178.0 L942.6,177.5 L945.2,176.5 L947.8,176.6 L951.5,177.8 L956.5,176.5"/>
<path d="M896.4,126.4 L897.7,131.5"/>
<path d="M420.3,217.8 L422.8,218.0 L427.5,219.6 L430.0,220.2 L432.8,220.3 L436.4,222.4 L439.3,222.9 L442.3,223.2 L445.3,225.3 L449.3,224.1 L452.9,222.8 L457.1,224.1 L460.4,224.1 L463.5,224.4 L467.1,223.9 L469.2,223.6 L472.9,222.8 L476.5,225.6 L480.4,226.6 L482.6,225.0 L486.7,225.3 L489.4,227.5 L494.1,230.4 L496.7,231.6"/>
<path d="M486.7,194.0 L486.6,196.8 L487.6,200.4 L486.6,202.5 L487.9,206.5 L486.6,210.5 L487.7,212.8 L486.7,215.8 L486.7,219.0 L487.0,222.3 L486.7,225.3"/>
<path d="M496.7,231.6 L500.6,231.3 L504.2,230.0 L508.0,230.3 L511.9,231.2 L515.5,231.6 L517.6,229.5 L520.0,227.8 L523.0,225.3 L524.8,223.1 L525.3,220.0 L525.5,216.5 L527.8,215.0 L532.8,213.7 L535.0,211.5"/>
<path d="M496.7,231.6 L496.6,234.9 L496.0,237.1 L496.0,241.2 L495.4,244.1 L494.4,247.2 L493.7,250.8 L494.5,254.2 L492.9,256.6 L491.1,259.7 L487.1,261.8 L485.4,264.1 L483.9,267.2 L480.7,269.3 L477.9,271.6 L474.1,274.1 L475.0,278.0 L476.6,280.4 L472.8,280.2 L470.4,281.7 L467.1,283.8 L464.1,285.4 L464.5,289.2 L464.1,292.9 L466.5,296.5 L470.4,299.2 L473.2,298.3 L478.0,297.4 L481.7,296.7 L480.4,299.2 L481.0,302.5 L480.6,305.8 L480.4,309.2 L481.8,313.0 L482.9,316.7 L480.4,319.8 L479.1,324.2 L483.0,325.7 L485.4,326.7 L485.7,330.5 L484.2,334.3 L486.7,336.2 L489.2,339.3 L492.9,336.8 L492.4,339.9 L491.1,344.1 L491.7,346.8 L493.2,348.6 L495.5,352.6 L497.9,354.3 L500.7,356.8 L502.9,359.3 L506.1,358.6 L510.6,357.8 L513.0,356.8 L516.2,356.3 L520.0,355.9 L523.0,354.3 L527.5,352.2 L530.5,350.5 L535.0,353.0"/>
<path d="M396.5,290.4 L400.3,290.5 L404.3,291.1 L405.9,292.3 L410.3,292.9 L413.4,290.6 L415.3,289.2 L417.0,286.1 L420.3,284.2 L422.6,281.9 L427.5,281.5 L429.0,279.7 L432.8,277.9 L435.5,280.8 L437.0,283.2 L440.3,285.4 L443.8,287.6 L445.3,291.7 L448.9,290.7 L452.9,289.2 L455.9,290.6 L457.9,292.9 L462.0,293.4 L464.1,292.9"/>
<path d="M481.7,296.7 L484.9,298.4 L487.3,298.3 L489.2,301.4 L492.9,301.7 L495.7,303.3 L498.5,306.3 L500.4,308.0 L503.5,305.6 L507.1,304.4 L509.6,302.7 L513.0,301.7 L515.9,298.8 L518.0,295.4 L522.2,295.8 L525.4,296.8 L528.0,296.7 L531.7,294.6 L535.0,291.7"/>
<path d="M523.0,225.3 L523.4,229.2 L525.0,231.8 L524.8,235.6 L525.5,239.1 L526.8,242.3 L528.1,245.7 L529.1,248.4 L530.5,251.6 L531.7,254.5 L532.6,259.0 L533.0,261.6 L534.2,264.7 L535.0,269.1"/>
<path d="M480.4,368.1 L481.7,366.8 L486.0,365.8 L489.2,366.8 L493.2,364.2 L495.4,362.1 L498.6,360.8 L502.9,359.3"/>
<path d="M519.5,356.3 L519.4,358.8 L517.2,362.0 L517.7,365.9 L516.0,368.1"/>
<path d="M370.2,366.8 L371.6,365.1 L374.6,361.9 L375.1,358.9 L377.7,356.8 L380.4,356.3 L384.8,355.9 L386.4,355.2 L390.2,354.3 L393.3,356.6 L397.8,358.0 L399.6,361.5 L401.5,364.3 L398.0,366.3 L396.5,369.3"/>
<path d="M560.0,194.0 L562.1,196.3 L565.7,198.1 L567.6,201.5 L570.4,203.4 L574.0,204.0 L576.3,205.3 L579.0,204.0 L581.8,200.9 L585.1,199.0 L587.6,196.6 L591.4,195.4 L595.1,194.0"/>
<path d="M535.0,210.3 L537.1,209.5 L540.3,209.5 L543.4,208.4 L546.5,207.1 L550.0,206.5 L554.0,204.8 L555.8,205.5 L558.8,202.8 L562.6,202.8 L567.6,201.5"/>
<path d="M585.1,199.0 L587.3,201.3 L589.4,201.8 L593.5,203.9 L595.1,206.5 L597.4,209.6 L599.0,212.5 L601.6,214.6 L602.7,216.3 L605.1,219.0 L601.1,220.0 L598.5,222.2 L595.1,224.1 L593.5,226.8 L589.3,227.5 L587.6,230.3 L584.1,233.0 L583.0,234.7 L580.1,235.3 L577.5,238.2 L575.1,239.1 L573.7,241.4 L570.6,243.5 L569.3,247.1 L567.0,249.8 L565.6,250.8 L562.6,254.1 L560.9,255.6 L556.7,258.4 L555.7,260.9 L552.2,261.5 L550.0,264.1 L546.7,265.4 L543.5,266.0 L540.2,266.4 L538.2,268.8 L535.0,269.1"/>
<path d="M605.1,219.0 L608.6,219.5 L612.1,218.2 L616.0,219.0 L619.2,219.9 L622.7,219.0 L625.9,221.3 L628.7,222.0 L631.2,223.7 L635.5,225.9 L637.7,226.6 L639.3,228.5 L642.8,231.2 L645.9,232.0 L647.5,233.8 L650.2,236.6 L653.4,236.6 L656.4,235.4 L660.2,235.3 L664.1,235.0 L666.1,235.0 L669.0,233.5 L672.8,232.8 L671.1,230.0 L670.8,227.5 L669.4,223.4 L667.7,221.6 L668.3,217.4 L669.9,214.3 L670.2,210.3 L675.5,210.1 L679.0,209.0 L679.4,205.3 L678.7,201.5 L677.8,199.0 L680.6,197.0 L682.8,194.0"/>
<path d="M672.8,232.8 L675.7,234.5 L679.7,235.8 L682.6,238.1 L685.3,239.1 L688.7,240.7 L691.4,242.9 L694.0,244.8 L695.9,246.1 L699.0,247.8 L700.8,245.1 L703.2,243.1 L706.2,240.4 L708.0,239.6 L710.3,236.6 L713.5,235.2 L717.1,233.9 L719.3,233.6 L723.1,231.6 L725.3,231.6 L728.9,231.8 L732.5,231.9 L735.8,230.8 L739.9,231.7 L742.9,231.6 L746.6,229.8 L748.6,227.6 L751.6,226.0 L755.4,224.1 L756.2,221.5 L756.4,218.1 L757.9,215.3 L760.7,218.5 L761.7,221.6 L766.9,222.9 L770.4,222.8 L773.7,225.3 L776.7,226.0 L779.1,227.0 L782.7,228.2 L785.5,230.3 L787.6,231.8 L790.7,233.2 L794.2,234.1 L797.0,233.0 L800.8,233.0 L804.2,231.6 L804.0,234.6 L805.1,237.4 L806.2,241.8 L806.7,244.1 L806.5,247.4 L805.0,249.2 L805.0,254.1 L805.4,256.0 L804.2,259.1 L805.4,261.8 L809.1,264.7 L810.0,266.6"/>
<path d="M699.0,247.8 L699.3,252.0 L701.2,254.9 L701.7,258.7 L702.8,261.6 L702.1,265.7 L699.5,267.8 L699.8,271.0 L697.8,274.1 L695.1,276.9 L694.1,279.4 L690.7,282.6 L689.0,284.2 L686.5,282.0 L685.3,279.2 L682.9,275.6 L680.3,272.9 L677.3,271.7 L674.2,269.6 L670.2,269.1 L668.1,269.4 L664.5,269.6 L661.1,271.1 L657.7,271.6 L653.8,272.9 L651.3,275.3 L648.8,278.3 L645.2,279.2 L642.4,281.4 L639.0,281.8 L636.9,283.2 L632.5,284.9 L630.2,285.4 L629.4,288.1 L630.4,292.3 L628.5,296.1 L628.9,299.2 L627.1,300.3 L623.4,301.7 L620.5,303.3 L617.7,304.2 L614.9,308.1 L612.6,310.5 L610.1,311.7"/>
<path d="M587.6,230.3 L589.9,232.9 L591.2,236.0 L593.7,238.1 L595.1,241.6 L594.0,245.9 L592.9,247.8 L593.6,252.9 L591.8,255.3 L591.4,259.1 L593.6,261.8 L594.9,265.1 L598.2,267.4 L600.1,269.1 L602.3,271.9 L603.6,274.7 L605.9,278.9 L607.6,281.7 L609.2,285.0 L608.2,287.9 L609.4,290.1 L610.1,294.2 L610.7,298.3 L610.3,301.3 L612.6,304.9 L612.2,307.8 L612.6,310.5"/>
<path d="M535.0,292.9 L537.6,292.8 L541.1,294.3 L544.0,294.5 L547.6,295.8 L550.0,296.7 L552.2,297.6 L556.0,300.5 L558.1,301.7 L561.2,302.0 L565.1,304.2 L567.3,305.2 L571.7,307.1 L574.6,308.0 L576.3,308.7 L579.9,308.9 L582.6,310.5 L579.9,313.2 L577.6,314.9 L575.9,316.1 L572.5,318.0 L570.7,320.9 L567.6,323.0 L570.3,322.5 L574.5,320.3 L575.6,319.7 L580.3,317.0 L582.6,316.7 L586.4,316.0 L588.7,314.8 L591.4,312.9 L594.7,312.5 L597.6,311.7 L600.0,311.3 L603.3,311.3 L607.5,310.7 L610.1,311.7"/>
<path d="M550.0,264.1 L547.4,266.1 L546.7,269.2 L544.9,272.0 L542.5,274.1 L542.7,277.3 L541.7,280.7 L541.0,283.6 L540.0,286.7 L538.2,290.7 L535.0,292.9"/>
<path d="M610.1,311.7 L610.7,314.4 L611.0,317.1 L611.3,321.7 L612.6,324.2 L613.9,327.8 L616.4,330.6 L618.4,334.6 L620.2,336.8 L622.4,340.0 L623.9,344.3 L624.0,347.3 L622.7,350.0 L622.0,353.9 L622.7,356.8 L623.5,360.7 L625.2,364.0 L626.4,368.1"/>
<path d="M689.0,284.2 L691.0,287.5 L694.1,289.8 L695.9,291.6 L697.8,294.2 L700.7,295.8 L702.7,298.1 L705.7,300.4 L707.8,301.7 L710.5,305.7 L711.7,307.5 L713.0,311.9 L715.3,314.2 L718.1,315.9 L722.2,317.1 L724.7,317.9 L727.9,318.0 L731.3,316.9 L734.8,318.1 L736.8,317.1 L740.4,316.7 L741.7,319.9 L741.8,321.9 L742.9,325.5 L745.8,325.9 L750.3,327.6 L752.9,329.2 L755.1,331.4 L757.5,332.2 L760.4,334.3 L764.6,334.2 L767.7,331.8 L771.0,331.4 L774.2,330.5 L777.5,332.4 L778.9,334.8 L781.7,336.8"/>
<path d="M727.9,318.0 L725.6,320.7 L723.8,323.5 L722.2,326.1 L720.3,329.2 L718.3,332.8 L718.3,336.0 L716.7,339.2 L715.3,341.8 L713.0,343.8 L711.0,344.9 L707.8,346.8 L706.3,349.2 L706.4,353.0 L705.2,356.4 L705.3,359.3 L708.2,362.2 L710.3,364.3 L713.5,366.6 L715.3,368.1"/>
<path d="M745.4,316.7 L748.1,313.9 L748.8,312.2 L751.7,309.1 L753.7,306.9 L755.4,304.2 L757.2,301.7 L758.6,298.7 L760.4,296.7 L763.1,296.0 L766.6,294.0 L770.4,292.9 L771.5,290.9 L774.0,287.4 L775.4,284.2 L774.8,281.6 L773.9,277.9 L771.7,274.1 L771.4,269.8 L770.4,265.4 L773.2,263.9 L776.0,260.9 L778.7,259.2 L780.4,256.6 L783.1,257.9 L787.0,259.3 L790.5,259.8 L793.0,260.4 L796.7,260.6 L801.3,260.3 L804.2,259.1"/>
<path d="M535.0,354.3 L538.2,354.0 L540.7,351.4 L543.2,350.7 L547.2,349.5 L550.0,349.3 L554.0,350.7 L557.5,350.5 L556.1,354.0 L555.1,355.7 L555.0,359.3 L557.0,361.6 L556.9,364.4 L558.8,368.1"/>
<path d="M590.1,368.1 L591.6,364.9 L594.2,364.4 L597.2,361.9 L600.1,359.3 L603.6,357.6 L605.9,357.3 L610.1,356.8 L614.1,355.8 L615.6,356.6 L619.9,356.2 L622.7,356.8"/>
<path d="M680.3,368.1 L684.6,366.5 L686.8,366.5 L689.6,365.8 L693.8,364.3 L695.9,363.5 L698.8,362.4 L702.0,359.7 L705.3,359.3"/>
<path d="M626.4,368.1 L631.8,368.4 L635.2,366.8 L638.8,365.8 L641.9,366.9 L645.1,367.2 L647.7,366.8 L650.7,368.1"/>
<path d="M855.1,194.0 L853.1,196.8 L852.4,199.5 L850.1,201.5 L848.2,203.5 L845.1,206.5 L841.4,208.8 L837.6,209.2 L835.0,211.5 L832.9,211.8 L828.4,213.5 L825.9,212.6 L822.5,214.0 L818.3,215.9 L815.0,217.8 L812.8,216.7 L810.0,214.0"/>
<path d="M870.1,194.0 L872.6,197.4 L873.9,201.5 L874.3,205.1 L875.1,209.0 L877.8,211.3 L881.4,215.3 L883.9,220.3"/>
<path d="M810.0,267.9 L814.2,268.5 L817.5,269.1 L822.5,271.6"/>
<path d="M395.2,368.0 L398.5,370.2 L400.3,373.0 L403.5,372.8 L406.2,373.1 L410.3,374.3 L414.1,374.2 L417.2,373.2 L420.1,372.5 L422.8,373.0 L423.1,377.6 L425.3,380.5 L427.7,382.5 L432.7,382.6 L435.3,384.3 L438.8,382.1 L442.8,380.5 L445.1,380.2 L450.1,379.8 L452.5,380.4 L455.4,379.3 L458.1,379.1 L462.2,381.0 L465.4,380.5 L466.2,377.4 L467.9,374.3 L472.1,374.3 L475.1,372.4 L477.9,373.0 L480.4,368.0"/>
<path d="M381.5,448.1 L384.9,449.1 L388.2,451.5 L390.2,453.2 L394.4,453.1 L397.7,454.7 L400.3,455.7 L403.2,457.5 L406.2,458.4 L407.8,460.7 L410.9,461.0 L415.3,459.4 L417.0,461.5 L419.5,462.3 L422.8,464.4 L426.1,466.5 L426.8,467.7 L430.3,470.7"/>
<path d="M430.3,470.7 L431.9,468.4 L432.8,464.4 L437.1,462.3 L440.9,461.1 L444.1,460.7 L445.0,457.9 L446.6,453.2 L449.5,451.6 L453.3,451.2 L455.4,450.7 L457.9,455.7 L462.6,455.8 L465.4,454.4 L466.6,450.9 L467.9,448.9 L467.9,445.6 L467.1,441.5 L465.4,438.8 L465.4,435.6 L467.1,432.5 L469.5,431.4 L471.8,427.2 L472.9,425.6 L475.4,422.8 L478.4,420.7 L480.6,420.3 L483.5,418.2 L485.4,415.6 L487.9,414.4 L491.3,413.5 L494.2,411.8 L496.9,412.1 L500.4,411.8"/>
<path d="M500.4,411.8 L501.6,407.9 L503.7,404.7 L503.7,402.2 L505.4,398.1 L504.7,393.7 L504.2,390.5 L506.4,386.9 L508.0,383.0 L512.2,381.3 L515.6,379.1 L518.0,378.0 L516.3,375.2 L517.0,370.4 L515.5,368.0"/>
<path d="M500.4,411.8 L502.8,413.5 L506.2,416.0 L507.4,419.2 L510.5,420.6 L513.4,421.9 L517.0,424.4 L520.7,426.2 L523.0,428.1 L526.9,429.7 L528.2,433.0 L532.7,433.7 L535.0,436.9"/>
<path d="M430.3,470.7 L430.0,475.3 L429.1,478.2 L426.2,478.3 L422.8,479.2 L418.4,482.0 L415.3,482.0 L411.5,483.1 L407.8,485.7 L410.3,487.9 L412.1,491.4 L412.8,493.2 L415.1,496.4 L416.5,500.7 L418.6,504.9 L419.0,508.3 L418.2,510.8 L416.6,514.8 L416.5,518.3 L416.4,520.8 L416.9,525.3 L417.3,526.7 L416.5,530.8 L415.7,533.8 L415.3,537.4 L414.0,542.1"/>
<path d="M465.4,454.4 L466.4,457.3 L468.7,460.5 L470.1,462.8 L471.8,465.8 L472.9,468.2 L474.7,471.8 L476.5,475.3 L479.1,478.2 L479.7,482.5 L480.4,485.7 L476.9,488.2 L474.1,490.7 L477.9,494.5 L480.9,493.1 L484.3,491.7 L487.6,490.7 L490.4,488.2 L493.9,487.1 L497.9,487.0 L499.6,489.2 L499.9,492.8 L501.7,495.7 L501.4,498.7 L502.6,502.7 L503.5,506.0 L504.2,508.3 L506.6,511.2 L508.1,513.2 L510.5,515.8 L514.4,517.0 L518.0,518.3 L515.9,521.4 L515.5,525.8 L512.3,527.6 L510.1,528.2 L507.0,528.2 L502.9,529.5 L499.7,533.0 L497.5,535.3 L495.4,538.3 L492.6,539.7 L489.8,540.2 L486.7,542.1"/>
<path d="M518.0,518.3 L519.5,519.3 L523.5,520.8 L525.5,523.3 L528.7,524.1 L530.9,523.2 L535.0,524.5"/>
<path d="M457.9,542.1 L461.9,540.7 L464.0,539.6 L467.9,537.1 L472.9,535.8"/>
<path d="M560.0,368.0 L563.0,369.1 L567.6,371.8 L570.1,371.7 L573.2,369.2 L576.1,368.2 L580.1,368.0 L585.1,370.0 L590.6,368.0"/>
<path d="M650.2,368.0 L653.5,369.3 L654.6,371.8 L657.7,373.0 L661.1,371.9 L664.3,371.3 L667.3,370.2 L670.2,369.3 L673.4,368.4 L676.3,369.0 L680.3,368.0"/>
<path d="M635.2,368.0 L632.3,371.1 L630.4,374.4 L628.9,378.0 L630.1,382.0 L629.7,385.1 L629.5,387.4 L630.2,390.5 L630.9,393.2 L632.2,398.1 L633.9,400.6 L635.5,404.5 L639.0,407.9 L640.2,410.6 L638.7,412.8 L637.7,416.2 L635.2,418.1 L634.1,421.4 L633.5,424.9 L632.7,428.1"/>
<path d="M535.0,436.9 L538.2,437.4 L542.5,438.3 L545.0,439.4 L547.6,438.4 L551.7,438.1 L555.3,437.5 L557.5,438.1 L561.1,437.7 L562.9,436.0 L567.3,436.7 L570.1,435.6 L573.7,434.9 L576.1,436.0 L579.0,434.1 L582.2,433.6 L585.1,434.4 L588.1,433.4 L591.7,434.2 L593.5,434.7 L597.6,434.4 L601.4,432.7 L603.2,432.2 L606.9,432.4 L610.1,431.9 L614.1,430.7 L617.3,430.4 L620.0,430.5 L622.7,430.6 L625.2,430.4 L628.8,428.0 L632.7,428.1 L636.5,428.0 L639.4,429.2 L643.9,430.6 L646.7,434.6 L649.0,436.3 L650.2,440.6 L650.1,444.3 L650.4,447.6 L651.5,450.7 L648.9,453.1 L648.2,457.7 L645.2,460.7 L649.1,461.1 L652.4,462.3 L655.6,463.7 L659.0,464.4"/>
<path d="M659.0,464.4 L660.0,461.0 L662.6,458.0 L663.5,456.8 L665.6,452.6 L667.7,450.7 L671.8,449.7 L674.2,446.2 L676.5,444.6 L680.3,443.1 L682.8,441.0 L686.9,440.6 L688.8,440.2 L692.8,438.1 L696.8,440.9 L700.3,441.9 L703.5,439.7 L703.9,437.0 L707.2,434.3 L709.1,433.1 L709.3,430.4 L710.2,426.2 L709.0,424.7 L710.6,421.8 L710.3,418.1 L713.5,417.0 L717.3,414.3 L720.3,411.8 L723.9,411.9 L726.1,410.9 L729.1,409.3 L732.2,411.2 L734.8,412.5 L737.9,414.3 L740.4,410.2 L741.6,408.1 L741.7,405.7 L741.5,402.2 L741.2,398.1 L740.4,395.6 L736.7,394.1 L734.0,392.9 L730.4,393.0 L727.2,392.3 L725.4,389.1 L722.8,388.0 L722.0,384.1 L722.7,381.4 L721.6,378.0 L723.5,373.8 L724.6,370.6 L725.3,368.0"/>
<path d="M741.6,408.1 L746.2,408.0 L748.8,408.9 L752.9,408.1 L756.3,408.6 L759.0,410.0 L762.9,410.6 L765.4,407.3 L769.2,405.6 L772.5,404.4 L776.3,401.1 L779.2,399.3 L781.8,397.9 L785.5,396.8 L788.9,397.5 L792.9,397.5 L795.5,398.1"/>
<path d="M737.9,414.3 L736.7,418.1 L736.1,421.2 L734.1,425.6 L734.2,430.2 L732.9,434.4 L735.5,437.2 L737.1,438.4 L737.9,441.9 L737.5,444.6 L737.9,448.7 L737.8,452.1 L736.6,454.4 L738.6,456.9 L739.7,461.4 L740.4,464.4 L743.7,467.4 L745.5,468.5 L747.9,471.9 L750.8,473.9 L754.1,476.9"/>
<path d="M659.0,464.4 L659.5,466.7 L661.6,469.4 L662.7,473.2 L666.4,474.4 L671.5,474.4 L675.2,474.9 L679.8,476.9 L680.4,481.6 L679.5,483.7 L679.0,488.2 L680.1,491.2 L681.7,494.0 L684.0,498.2 L686.5,500.7 L687.3,504.0 L690.3,505.8 L693.0,508.3 L696.3,509.1 L697.8,510.8 L702.8,510.8"/>
<path d="M662.7,473.2 L662.0,477.3 L661.7,478.8 L660.5,483.3 L660.2,485.7 L657.9,489.6 L656.5,493.2 L655.1,497.0 L655.2,500.7 L651.8,501.6 L650.6,504.3 L647.7,505.8 L644.9,507.4 L643.1,509.8 L640.2,510.8 L639.6,514.8 L640.2,516.8 L638.9,520.8 L635.6,521.8 L630.6,522.0 L627.7,522.0 L625.8,524.8 L625.4,527.8 L623.9,530.8 L620.7,532.8 L618.9,535.8 L619.2,539.1 L621.4,542.1"/>
<path d="M645.2,460.7 L643.3,463.1 L639.5,466.5 L637.7,468.2 L634.5,471.1 L631.8,473.4 L630.2,475.7 L628.9,479.5 L625.9,481.6 L625.2,485.7 L623.1,489.1 L622.1,490.4 L620.2,493.2 L617.0,494.7 L614.0,493.9 L610.1,495.7 L607.8,496.3 L604.8,497.2 L601.0,497.5 L597.6,498.2 L594.9,498.2 L590.6,496.5 L587.6,497.0 L584.8,499.5 L580.2,500.5 L577.6,502.0 L574.4,502.6 L570.2,505.3 L567.6,505.8 L564.0,507.5 L561.9,508.8 L558.8,510.8 L553.9,511.8 L550.0,512.0 L547.8,513.8 L544.8,515.6 L542.5,518.3 L541.2,521.9 L540.8,524.1 L538.8,528.3 L535.0,530.8"/>
<path d="M535.0,436.9 L538.2,437.8 L542.5,439.1 L545.0,440.6 L545.7,443.3 L547.9,446.7 L548.8,450.7 L548.7,452.9 L547.3,457.2 L545.0,459.2 L545.0,463.2 L544.5,467.0 L544.0,469.4 L542.5,473.2 L543.1,477.2 L543.7,478.7 L544.5,481.6 L545.0,485.7 L546.1,487.9 L547.9,491.8 L547.8,495.4 L550.0,498.2 L552.4,499.7 L552.8,502.3 L555.1,505.7 L557.8,507.4 L558.8,510.8"/>
<path d="M542.5,518.3 L543.2,521.1 L542.8,525.0 L544.8,527.5 L545.0,530.8 L544.5,534.8 L546.1,538.5 L546.3,542.1"/>
<path d="M414.0,542.0 L415.3,544.5 L418.5,544.6 L421.7,545.9 L425.3,545.8 L428.0,545.8 L431.4,546.1 L435.3,547.0 L439.6,546.4 L442.0,545.8 L445.3,545.8 L447.9,544.4 L450.9,544.5 L455.7,543.1 L457.9,542.0 L460.5,541.6 L464.3,540.4 L467.9,539.5 L469.1,535.8 L472.9,537.0 L471.6,540.8 L474.5,539.3 L479.1,537.0 L482.9,540.8 L487.6,541.5 L490.4,543.3"/>
<path d="M490.4,543.3 L488.9,545.8 L489.2,549.6 L486.9,550.7 L482.5,550.3 L480.4,552.1 L478.7,555.7 L476.6,559.6 L474.4,563.0 L470.4,564.6 L468.6,567.8 L468.0,568.9 L465.4,572.1 L460.4,574.6 L464.7,574.5 L467.9,575.8 L470.1,578.9 L472.9,580.9 L473.1,583.4 L475.5,586.9 L475.4,589.6 L478.0,590.4 L481.7,590.9"/>
<path d="M490.4,543.3 L492.9,540.6 L497.7,539.4 L500.4,537.0 L502.7,533.6 L506.7,532.0 L508.7,529.4 L510.5,527.0"/>
<path d="M535.0,527.0 L536.5,529.3 L538.5,531.4 L540.9,533.9 L542.5,537.0 L545.6,538.3 L548.2,539.9 L550.6,543.3 L552.5,544.5 L556.0,545.8 L559.6,548.1 L562.6,549.6 L567.1,552.1 L570.1,553.3 L571.6,557.0 L572.6,560.8"/>
<path d="M621.4,522.0 L623.1,525.3 L623.9,529.5 L622.8,532.8 L620.2,537.0 L619.1,541.1 L617.7,544.5 L615.1,547.0 L616.8,550.1 L618.9,552.1 L615.4,554.2 L612.6,557.1 L610.1,559.6"/>
</g>
<g clip-path="url(#land)"><g clip-path="url(#co0)" shape-rendering="crispEdges">
<path d="M690.0,200.0 L830.0,200.0 L830.0,310.0 L690.0,310.0Z" fill="#5a0000"/>
<path d="M783.2,200.0 L782.4,214.2 L789.5,217.4 L791.1,223.7 L788.0,228.4 L790.3,236.3 L784.8,244.2 L778.5,249.0 L765.8,252.1 L759.5,260.0 L753.2,266.4 L750.0,275.8 L742.1,288.5 L737.4,298.0 L731.1,310.0 L830.0,310.0 L830.0,200.0Z" fill="#6a0000"/>
<path d="M781.6,200.0 L783.2,209.5 L784.8,212.6 L791.1,215.8 L793.5,223.7 L791.1,231.6 L792.7,236.3 L788.0,245.8 L780.1,252.1 L769.0,256.9 L762.7,264.8 L757.9,271.1 L753.2,282.2 L745.3,294.8 L740.6,304.3 L737.4,310.0 L830.0,310.0 L830.0,200.0Z" fill="#800000"/>
<path d="M800.6,214.2 L799.0,217.4 L795.9,225.3 L793.5,233.2 L794.3,237.9 L791.1,245.8 L783.2,253.7 L772.2,261.6 L765.8,267.9 L761.1,275.8 L756.4,285.3 L750.0,294.8 L743.7,307.4 L742.1,310.0 L830.0,310.0 L830.0,200.0 L814.8,200.0 L810.1,207.9Z" fill="#d40000"/>
<path d="M808.5,209.5 L803.8,222.1 L799.0,231.6 L797.4,239.5 L792.7,247.4 L786.4,255.3 L778.5,261.6 L772.2,267.9 L767.4,275.8 L767.4,282.2 L764.3,288.5 L759.5,296.4 L756.4,304.3 L754.8,310.0 L830.0,310.0 L830.0,200.0 L816.4,200.0Z" fill="#ff3030"/>
<path d="M816.4,215.8 L811.7,226.9 L806.9,236.3 L806.1,245.8 L800.6,253.7 L792.7,260.0 L786.4,266.4 L783.2,274.3 L782.4,282.2 L784.8,288.5 L788.0,294.8 L791.1,301.1 L791.1,310.0 L830.0,310.0 L830.0,209.5Z" fill="#ff8080"/>
<path d="M830.0,223.7 L822.7,226.9 L816.4,231.6 L814.8,241.1 L816.4,247.4 L821.1,252.1 L816.4,258.5 L806.9,261.6 L799.0,264.8 L792.7,271.1 L791.1,279.0 L792.7,288.5 L795.9,296.4 L797.4,304.3 L799.0,310.0 L830.0,310.0Z" fill="#ffd0d0"/>
<path d="M830.0,230.0 L824.3,231.6 L819.6,236.3 L818.8,242.7 L821.1,247.4 L825.9,250.6 L822.7,258.5 L813.2,263.2 L805.3,266.4 L800.6,271.1 L799.0,279.0 L800.6,288.5 L803.0,298.0 L800.6,305.9 L799.0,310.0 L830.0,310.0Z" fill="#ffffff"/>
<circle cx="825.1" cy="239.2" r="4.0" fill="#9ebcda"/>
<path d="M830.0,255.3 L824.3,261.6 L819.6,266.4 L813.2,269.5 L807.7,274.3 L806.1,282.2 L808.5,288.5 L811.7,292.4 L830.0,292.4Z" fill="#9ebcda"/>
<path d="M830.0,257.7 L825.1,263.2 L820.4,267.9 L814.0,271.1 L809.3,275.5 L808.2,282.2 L810.1,287.7 L812.5,290.9 L830.0,290.9Z" fill="#8c96c6"/>
<path d="M814.8,275.8 L816.4,271.9 L821.9,271.9 L819.6,279.0 L815.6,283.0Z" fill="#88419d"/>
<circle cx="818.0" cy="277.4" r="1.9" fill="#4d004b"/>
<path d="M830.0,258.5 L827.5,260.8 L826.7,266.4 L830.0,267.9Z" fill="#88419d"/>
<circle cx="744.0" cy="239.5" r="4.0" fill="#800000"/>
<circle cx="782.4" cy="298.3" r="7.9" fill="#d40000"/>
<circle cx="782.4" cy="298.3" r="5.1" fill="#800000"/>
<circle cx="782.4" cy="298.6" r="2.4" fill="#5a0000"/>
<g fill="none" stroke="#000" stroke-width="1" stroke-linejoin="round">
<path d="M690.0,237.9 L692.1,239.3 L694.0,243.2 L696.4,243.6 L698.7,246.6 L701.3,243.7 L702.6,241.1 L704.8,239.3 L707.4,238.6 L711.8,237.2 L713.7,235.6 L717.1,233.6 L719.7,233.1 L723.7,230.7 L726.3,230.0 L730.7,232.0 L733.0,233.2 L737.4,234.0 L741.3,232.8 L745.3,230.0 L749.5,229.0 L753.2,226.9 L753.8,223.2 L755.9,219.8 L756.4,215.8 L761.1,215.0 L761.0,218.0 L759.5,222.1 L762.7,217.4 L765.9,218.7 L768.3,220.0 L772.2,222.1 L776.0,223.9 L778.8,225.1 L781.6,226.1 L783.8,227.4 L788.7,228.8 L791.1,231.6 L794.3,234.0 L798.3,233.8 L803.0,234.0 L805.0,229.6 L807.4,227.3 L808.5,223.7 L810.9,218.9 L811.7,215.8 L809.5,212.4 L808.5,209.5 L809.2,205.9 L812.2,202.3 L813.2,200.0"/>
<path d="M698.7,246.6 L698.8,249.9 L700.4,254.2 L701.6,256.8 L702.6,260.0 L702.7,263.3 L700.5,266.5 L699.7,269.4 L699.5,272.7 L696.6,274.8 L693.2,277.4 L691.7,280.0 L690.0,283.7"/>
<path d="M690.0,288.5 L693.2,291.3 L693.9,291.9 L697.0,293.5 L699.5,296.4 L702.6,297.8 L705.5,300.3 L709.0,302.7 L710.7,306.3 L711.3,310.0"/>
<path d="M780.1,200.0 L781.8,203.2 L784.8,206.3 L785.4,209.1 L788.0,212.6 L790.2,212.9 L793.5,211.8 L797.4,211.1 L800.4,210.1 L805.4,209.5 L808.5,209.5"/>
<path d="M811.7,215.8 L814.3,216.2 L817.9,214.3 L821.1,215.0 L825.3,215.1 L830.0,215.8"/>
<path d="M803.0,234.0 L804.9,236.6 L806.9,241.1 L806.3,244.3 L805.3,247.4 L806.6,250.1 L806.9,253.7 L804.3,257.4 L800.6,260.0 L798.2,261.1 L794.9,260.4 L791.1,260.8 L788.9,260.3 L784.2,257.8 L781.6,256.9 L778.5,261.6 L776.1,264.2 L773.2,264.5 L770.6,266.4 L770.9,270.0 L772.2,272.7 L775.3,277.4 L773.7,282.2 L776.9,286.1 L775.4,288.2 L772.7,290.2 L770.6,293.2 L765.8,294.8 L763.2,296.7 L759.5,298.0 L759.6,301.8 L757.9,304.3 L756.4,310.0"/>
<path d="M806.9,253.7 L806.5,256.4 L807.6,259.3 L808.5,263.2 L810.0,266.5 L813.2,267.9 L817.7,270.0 L821.1,270.3 L824.3,269.5"/>
</g></g></g>
<g clip-path="url(#land)"><g clip-path="url(#co1)" shape-rendering="crispEdges">
<path d="M760.0,140.0 L935.0,140.0 L935.0,250.0 L760.0,250.0Z" fill="#5a0000"/>
<path d="M820.6,140.0 L815.8,152.8 L804.6,160.7 L795.1,170.3 L787.1,183.0 L785.5,192.6 L787.1,203.8 L791.9,210.1 L783.9,214.9 L782.3,219.7 L790.3,222.9 L791.9,234.0 L785.5,250.0 L935.0,250.0 L935.0,140.0Z" fill="#800000"/>
<circle cx="769.6" cy="183.0" r="5.1" fill="#800000"/>
<path d="M882.7,140.0 L877.9,146.4 L871.6,152.8 L865.2,159.1 L859.6,168.7 L858.8,179.8 L863.6,189.4 L855.6,195.0 L846.1,199.0 L836.5,199.0 L828.5,198.2 L820.6,200.6 L811.0,205.3 L806.2,208.5 L799.8,210.1 L797.5,219.7 L793.5,234.0 L788.7,250.0 L935.0,250.0 L935.0,140.0Z" fill="#d40000"/>
<path d="M887.5,140.0 L885.9,148.0 L877.9,151.2 L871.6,157.5 L868.4,163.9 L867.6,175.1 L870.0,187.8 L868.4,194.2 L858.8,195.8 L852.4,202.2 L844.5,206.9 L834.9,210.9 L823.8,213.3 L814.2,216.5 L809.4,221.3 L806.2,229.3 L803.0,234.0 L799.8,242.0 L794.3,250.0 L935.0,250.0 L935.0,140.0Z" fill="#ff3030"/>
<path d="M799.8,210.1 L809.4,208.5 L811.0,214.9 L807.8,226.1 L802.2,234.0 L794.3,234.0Z" fill="#d40000"/>
<path d="M893.1,140.0 L892.3,149.6 L885.9,154.3 L883.5,163.9 L882.7,176.7 L883.5,187.8 L885.9,194.2 L881.1,203.8 L877.9,210.1 L871.6,211.7 L866.8,218.1 L858.8,219.7 L852.4,224.5 L846.1,227.7 L839.7,226.9 L830.1,226.1 L820.6,228.5 L814.2,234.0 L810.2,242.0 L807.8,250.0 L935.0,250.0 L935.0,140.0Z" fill="#ff8080"/>
<path d="M881.1,195.8 L887.5,194.2 L895.5,195.0 L900.3,200.6 L899.5,206.9 L893.9,211.7 L887.5,214.9 L881.9,212.5 L879.5,203.8Z" fill="#ff3030"/>
<path d="M935.0,167.1 L929.0,169.5 L919.4,176.7 L909.8,178.3 L903.4,181.4 L899.5,187.8 L900.3,195.8 L903.4,203.8 L904.2,210.1 L909.8,210.9 L935.0,210.9Z" fill="#ffd0d0"/>
<path d="M807.8,250.0 L812.6,238.8 L819.0,230.9 L826.9,227.7 L833.3,229.3 L838.1,235.6 L839.7,242.0 L836.5,250.0Z" fill="#ffd0d0"/>
<path d="M849.3,226.9 L855.6,222.1 L863.6,219.7 L871.6,218.1 L876.4,219.7 L871.6,224.5 L862.0,229.3 L855.6,232.4Z" fill="#ffd0d0"/>
<path d="M935.0,174.3 L925.8,178.3 L916.2,182.2 L908.2,187.8 L905.0,195.8 L904.2,203.8 L906.6,210.1 L935.0,210.1Z" fill="#ffffff"/>
<path d="M815.0,245.2 L816.6,237.2 L821.4,232.4 L826.9,230.9 L831.7,233.2 L834.1,239.6 L832.5,246.8 L830.1,250.0 L815.8,250.0Z" fill="#ffffff"/>
<path d="M909.8,200.6 L913.0,195.0 L917.8,192.9 L924.2,193.4 L921.0,198.2 L914.6,203.8 L910.6,207.7 L908.2,206.9Z" fill="#9ebcda"/>
<path d="M911.4,201.4 L914.3,196.1 L918.6,194.5 L921.8,195.0 L917.8,199.8 L913.0,205.3Z" fill="#8c96c6"/>
<circle cx="825.0" cy="239.1" r="4.0" fill="#9ebcda"/>
<circle cx="909.0" cy="210.1" r="0.8" fill="#ff3030"/>
<circle cx="915.4" cy="164.7" r="9.2" fill="#ff3030"/>
<circle cx="915.4" cy="164.7" r="6.1" fill="#d40000"/>
<circle cx="915.4" cy="164.7" r="3.5" fill="#800000"/>
<circle cx="915.4" cy="164.7" r="1.3" fill="#5a0000"/>
<circle cx="895.2" cy="202.5" r="4.8" fill="#d40000"/>
<circle cx="895.2" cy="202.5" r="3.2" fill="#800000"/>
<circle cx="895.2" cy="202.5" r="1.6" fill="#5a0000"/>
<circle cx="886.4" cy="209.8" r="4.5" fill="#d40000"/>
<circle cx="886.4" cy="209.8" r="2.9" fill="#800000"/>
<circle cx="886.4" cy="209.8" r="1.4" fill="#5a0000"/>
<circle cx="845.8" cy="222.9" r="1.9" fill="#d40000"/>
<circle cx="860.7" cy="216.2" r="1.9" fill="#d40000"/>
<circle cx="828.2" cy="207.7" r="1.0" fill="#800000"/>
<circle cx="847.3" cy="169.5" r="5.3" fill="#5a0000"/>
<circle cx="839.7" cy="191.5" r="2.6" fill="#5a0000"/>
<circle cx="850.1" cy="143.2" r="1.6" fill="#5a0000"/>
<g fill="none" stroke="#000" stroke-width="1" stroke-linejoin="round">
<path d="M830.1,140.0 L829.7,142.3 L829.0,146.1 L827.7,149.1 L826.9,152.8 L826.0,157.4 L824.1,160.5 L823.8,163.9 L822.5,167.7 L820.6,171.9 L817.7,175.1 L816.0,175.7 L814.7,178.1 L812.6,181.4 L810.7,184.8 L807.8,187.8 L809.4,189.6 L812.1,192.4 L814.2,195.8 L812.1,200.1 L811.0,203.8 L807.8,208.5"/>
<path d="M760.0,182.2 L762.7,183.9 L766.8,187.5 L769.6,189.4 L773.2,190.6 L775.0,193.7 L779.1,195.8 L780.0,198.6 L781.8,202.3 L781.8,204.0 L783.9,206.9 L786.0,209.3 L788.7,213.3 L792.5,213.2 L795.1,213.1 L798.3,211.7 L800.4,211.1 L803.7,209.9 L807.8,208.5"/>
<path d="M807.8,208.5 L808.5,211.4 L811.0,214.9 L809.1,219.4 L808.6,221.7 L807.8,226.1 L806.5,227.9 L803.9,231.6 L802.2,234.0"/>
<path d="M760.0,214.9 L763.0,217.3 L766.1,217.9 L769.6,219.7 L771.8,220.9 L776.0,224.2 L778.8,224.8 L780.7,226.9 L782.7,227.7 L785.5,230.2 L789.8,231.6 L791.9,234.0 L794.4,233.7 L799.0,234.2 L802.2,234.0 L804.8,237.2 L806.2,240.4 L807.2,242.9 L807.6,246.7 L807.0,250.0"/>
<path d="M811.0,214.9 L813.2,216.4 L817.8,215.3 L820.6,216.5 L823.4,216.5 L827.3,215.9 L830.1,214.9 L832.6,214.0 L835.5,212.3 L839.7,211.7 L843.1,208.4 L846.1,206.9 L849.3,202.2 L852.8,201.0 L855.6,199.0 L857.2,195.0 L861.8,195.1 L865.0,194.0 L868.4,194.2"/>
<path d="M882.7,140.0 L883.9,142.3 L885.1,146.0 L885.9,149.6 L884.3,154.2 L882.5,157.4 L881.9,160.7 L881.7,165.6 L882.7,168.7 L879.5,170.5 L877.9,173.5 L875.3,176.3 L871.6,177.5 L870.4,181.0 L870.0,184.6 L869.7,188.6 L867.9,191.8 L868.4,194.2 L870.5,197.4 L873.2,200.6 L874.0,203.7 L874.8,206.9 L878.1,209.7 L879.5,211.7 L881.4,216.0 L883.5,219.7"/>
<path d="M901.1,140.0 L900.1,143.9 L898.7,146.4 L900.8,148.1 L902.7,151.2 L906.2,151.3 L909.9,149.0 L913.0,148.8 L916.1,150.2 L921.0,150.4 L924.0,152.8 L927.4,154.3 L926.3,156.7 L926.8,161.7 L926.6,163.9 L924.6,167.3 L921.0,170.3 L924.0,171.8 L927.4,174.3 L930.5,176.3 L935.0,177.5"/>
</g></g></g>
<g clip-path="url(#land)"><g clip-path="url(#co2)" shape-rendering="crispEdges">
<path d="M700.0,300.0 L840.0,300.0 L840.0,420.0 L700.0,420.0Z" fill="#5a0000"/>
<path d="M737.1,300.0 L732.8,306.9 L727.6,315.5 L722.4,319.0 L719.0,329.3 L713.8,339.7 L708.6,346.6 L706.0,353.4 L707.8,360.3 L717.2,364.7 L724.1,369.0 L723.3,381.0 L721.6,389.7 L717.2,398.3 L710.3,406.9 L703.4,413.8 L700.0,417.2 L700.0,420.0 L840.0,420.0 L840.0,300.0Z" fill="#800000"/>
<path d="M741.4,300.0 L737.1,308.6 L734.5,319.0 L731.9,327.6 L730.2,337.9 L731.0,348.3 L734.5,355.2 L741.4,356.9 L746.6,354.3 L753.4,356.9 L756.9,363.8 L753.4,369.0 L751.7,375.9 L758.6,381.0 L765.5,379.3 L772.4,382.8 L781.0,386.2 L783.6,391.4 L786.2,394.8 L793.1,396.6 L840.0,396.6 L840.0,300.0Z" fill="#d40000"/>
<path d="M710.3,420.0 L713.8,415.5 L722.4,410.3 L734.5,412.1 L741.4,410.3 L750.0,412.1 L756.9,410.3 L765.5,413.8 L769.0,410.3 L775.9,403.4 L781.0,400.0 L786.2,394.8 L793.1,396.6 L840.0,396.6 L840.0,420.0Z" fill="#d40000"/>
<path d="M745.7,300.0 L742.2,306.9 L744.8,313.8 L743.1,319.0 L746.6,325.9 L747.4,332.8 L751.7,337.1 L759.5,337.1 L766.4,340.5 L766.4,347.4 L760.3,350.9 L755.2,351.7 L758.6,358.6 L759.5,367.2 L762.1,374.1 L769.0,378.4 L775.9,381.0 L781.0,384.5 L784.5,389.7 L789.7,394.0 L794.0,397.4 L840.0,397.4 L840.0,300.0Z" fill="#ff3030"/>
<path d="M789.7,403.4 L796.6,399.1 L807.8,403.4 L811.2,407.8 L806.9,412.1 L801.7,415.5 L796.6,420.0 L781.0,420.0 L782.8,412.1Z" fill="#ff3030"/>
<path d="M737.1,420.0 L740.5,412.1 L750.0,412.9 L758.6,412.1 L763.8,414.7 L765.5,420.0Z" fill="#ff3030"/>
<path d="M774.1,300.0 L772.4,308.6 L775.9,315.5 L776.7,324.1 L775.9,329.3 L770.7,331.9 L768.1,337.1 L763.8,346.6 L761.2,353.4 L762.9,360.3 L768.1,366.4 L770.7,372.4 L774.1,378.4 L781.0,380.2 L840.0,380.2 L840.0,300.0Z" fill="#ff8080"/>
<path d="M803.4,410.3 L807.8,405.2 L811.2,407.8 L806.9,412.1 L801.7,415.5 L798.3,417.2Z" fill="#ff8080"/>
<path d="M805.5,410.7 L808.3,407.2 L811.2,407.8 L807.8,411.7 L803.4,413.8Z" fill="#ffd0d0"/>
<path d="M786.2,300.0 L781.0,308.6 L778.4,315.5 L779.3,322.4 L781.9,327.6 L784.5,332.8 L789.7,325.9 L796.6,312.1 L805.2,300.0Z" fill="#ffd0d0"/>
<path d="M771.6,337.1 L774.1,332.8 L781.0,332.8 L782.8,337.9 L780.2,344.0 L775.9,346.6 L772.4,343.1Z" fill="#ffd0d0"/>
<circle cx="774.5" cy="374.1" r="4.8" fill="#ffd0d0"/>
<circle cx="773.8" cy="375.5" r="0.9" fill="#ffffff"/>
<path d="M796.6,300.0 L789.7,308.6 L784.5,315.5 L784.5,322.4 L786.2,328.4 L789.7,325.9 L796.6,312.1 L805.2,300.0Z" fill="#ffffff"/>
<circle cx="776.7" cy="339.3" r="3.8" fill="#ffffff"/>
<circle cx="777.9" cy="340.0" r="1.6" fill="#9ebcda"/>
<circle cx="764.7" cy="325.9" r="10.3" fill="#d40000"/>
<circle cx="764.7" cy="325.9" r="6.6" fill="#800000"/>
<circle cx="764.7" cy="326.2" r="3.3" fill="#5a0000"/>
<circle cx="781.9" cy="300.9" r="7.8" fill="#d40000"/>
<circle cx="781.9" cy="300.9" r="4.3" fill="#800000"/>
<circle cx="759.0" cy="344.0" r="2.4" fill="#800000"/>
<circle cx="748.6" cy="381.0" r="3.4" fill="#5a0000"/>
<circle cx="755.2" cy="393.1" r="3.4" fill="#5a0000"/>
<circle cx="764.7" cy="391.4" r="2.2" fill="#5a0000"/>
<circle cx="759.5" cy="403.4" r="3.8" fill="#5a0000"/>
<circle cx="770.7" cy="408.6" r="4.8" fill="#5a0000"/>
<circle cx="731.0" cy="400.9" r="6.6" fill="#5a0000"/>
<circle cx="753.1" cy="361.6" r="1.2" fill="#5a0000"/>
<circle cx="788.8" cy="402.6" r="3.8" fill="#800000"/>
<circle cx="788.8" cy="402.6" r="1.4" fill="#5a0000"/>
<circle cx="788.8" cy="419.3" r="4.3" fill="#ffffff"/>
<circle cx="788.8" cy="419.3" r="1.7" fill="#9ebcda"/>
<g fill="none" stroke="#000" stroke-width="1" stroke-linejoin="round">
<path d="M703.4,300.0 L705.3,302.9 L708.3,306.1 L710.3,308.6 L712.2,311.2 L713.8,313.8 L716.8,314.8 L720.5,315.8 L723.4,317.1 L725.9,317.2 L729.5,317.3 L733.7,317.9 L737.1,317.2 L738.7,319.5 L738.7,322.8 L740.5,325.9 L742.8,323.6 L746.6,322.4 L744.8,317.2 L748.4,314.3 L751.7,312.1 L754.7,309.0 L756.4,307.0 L758.6,305.2 L760.3,300.0"/>
<path d="M746.6,322.4 L748.5,326.4 L751.7,329.3 L754.7,329.9 L758.6,331.9 L761.5,332.4 L763.8,334.6 L767.2,336.2 L768.8,334.2 L772.4,331.0 L775.9,331.0 L779.7,333.5 L782.8,336.2"/>
<path d="M725.9,317.2 L725.1,320.2 L724.0,324.1 L724.1,325.8 L722.4,329.3 L721.2,331.3 L718.3,335.4 L717.0,337.3 L715.5,339.7 L713.6,342.8 L710.9,343.3 L708.6,346.6 L707.3,349.9 L706.0,353.4 L706.0,356.4 L706.9,360.3 L710.4,361.9 L713.8,363.8 L717.3,363.9 L719.4,365.1 L722.5,366.3 L725.9,368.1 L724.4,370.3 L722.6,374.4 L722.4,377.6 L721.0,381.3 L721.6,386.2 L724.5,389.0 L726.1,390.9 L727.6,394.0 L730.4,395.4 L733.7,394.4 L737.9,395.7 L739.4,397.9 L740.5,401.7 L741.0,405.2 L741.4,408.6 L739.7,412.3 L740.1,414.8 L737.3,416.9 L737.1,420.0"/>
<path d="M700.0,362.1 L703.2,361.7 L706.9,360.3"/>
<path d="M741.4,408.6 L745.7,408.5 L748.3,407.8 L750.2,408.2 L753.7,409.1 L756.9,410.3 L760.0,410.7 L763.8,412.1 L763.1,408.5 L762.1,405.2 L765.9,402.9 L769.0,402.6 L773.2,400.3 L775.9,400.0 L780.1,400.0 L784.5,398.3 L788.5,397.7 L793.1,399.1"/>
<path d="M737.1,412.1 L734.4,410.9 L730.8,411.3 L727.6,410.3 L723.5,411.6 L719.9,413.1 L717.2,413.8 L714.6,416.2 L713.1,418.7 L710.3,420.0"/>
</g></g></g>
<g clip-path="url(#land)"><g clip-path="url(#co3)" shape-rendering="crispEdges">
<path d="M480.0,490.0 L620.0,490.0 L620.0,580.0 L480.0,580.0Z" fill="#800000"/>
<path d="M500.7,490.0 L502.6,497.8 L504.6,504.2 L509.7,512.0 L517.5,515.9 L522.7,513.9 L529.1,512.2 L535.6,513.5 L540.8,519.1 L544.6,515.9 L550.4,512.0 L557.6,511.3 L562.7,512.2 L569.2,509.4 L573.1,504.2 L580.8,500.3 L587.3,497.8 L593.8,496.5 L602.8,493.9 L609.3,495.2 L620.0,493.9 L620.0,490.0Z" fill="#5a0000"/>
<path d="M564.0,521.0 L566.6,515.9 L570.5,509.4 L578.2,504.2 L586.0,502.3 L590.5,506.8 L589.9,515.9 L592.5,523.6 L592.5,530.1 L588.6,535.2 L582.1,538.5 L574.4,536.5 L569.2,531.4 L565.3,526.2Z" fill="#5a0000"/>
<path d="M543.3,523.6 L545.9,518.4 L551.1,515.9 L555.0,519.7 L555.0,526.2 L552.4,531.4 L547.2,533.3 L544.0,529.4Z" fill="#5a0000"/>
<path d="M503.9,521.0 L507.1,515.9 L513.6,514.6 L518.1,517.8 L518.8,524.9 L514.9,530.1 L509.7,532.0 L505.2,528.1Z" fill="#5a0000"/>
<circle cx="491.9" cy="522.6" r="2.6" fill="#5a0000"/>
<path d="M480.0,541.7 L485.2,539.1 L490.3,539.8 L495.5,536.5 L502.0,534.0 L509.7,533.3 L517.5,532.7 L525.2,531.4 L534.3,530.1 L538.2,532.7 L542.0,537.8 L548.5,537.2 L556.3,535.2 L562.7,535.9 L570.5,539.8 L578.2,541.7 L587.3,539.8 L593.8,536.5 L598.9,531.4 L604.1,526.2 L609.3,519.7 L614.4,512.0 L620.0,506.8 L620.0,580.0 L480.0,580.0Z" fill="#d40000"/>
<path d="M518.8,557.2 L522.7,548.2 L527.8,543.0 L534.3,539.8 L540.8,541.1 L547.2,541.7 L552.4,540.4 L560.1,541.7 L567.9,543.6 L575.7,545.8 L583.4,546.9 L589.9,544.3 L596.3,541.7 L602.8,541.7 L608.0,545.6 L613.1,549.5 L620.0,548.2 L620.0,580.0 L518.8,580.0 L516.2,567.6Z" fill="#ff3030"/>
<path d="M614.4,528.8 L615.7,515.9 L620.0,509.4 L620.0,531.4Z" fill="#ff3030"/>
<path d="M487.1,580.0 L489.0,567.6 L492.9,559.8 L498.1,557.2 L503.3,560.4 L506.5,567.6 L512.3,574.0 L518.8,567.6 L518.8,580.0Z" fill="#ff3030"/>
<path d="M496.8,580.0 L499.4,572.7 L505.9,570.8 L513.6,572.7 L517.5,567.6 L522.7,562.4 L526.5,555.9 L531.7,553.3 L536.9,554.6 L538.2,562.4 L533.0,562.4 L527.8,566.9 L522.7,569.5 L518.8,573.4 L514.9,576.0 L508.4,578.5 L502.0,577.3Z" fill="#ff8080"/>
<path d="M556.9,557.2 L559.5,554.0 L565.3,553.3 L570.5,555.9 L571.8,561.1 L557.6,561.1Z" fill="#ff8080"/>
<path d="M573.1,561.1 L575.7,555.9 L583.4,554.6 L587.3,550.8 L592.5,548.2 L600.2,548.2 L606.7,552.0 L614.4,553.3 L620.0,552.0 L620.0,565.0 L573.1,565.0Z" fill="#ff8080"/>
<path d="M583.4,561.1 L585.4,555.9 L589.9,552.0 L596.3,550.8 L602.8,553.3 L609.3,555.9 L620.0,555.9 L620.0,565.0 L583.4,565.0Z" fill="#ffd0d0"/>
<path d="M522.7,569.5 L525.2,563.7 L529.1,558.5 L534.3,557.2 L536.9,559.8 L533.0,562.4 L527.8,566.9Z" fill="#ffd0d0"/>
<path d="M586.0,561.7 L587.9,556.6 L591.8,554.0 L597.0,553.3 L601.5,555.9 L604.1,560.4 L596.3,563.0 L592.5,565.0 L587.3,563.7Z" fill="#ffffff"/>
<path d="M610.6,560.4 L613.1,557.2 L620.0,556.6 L620.0,561.7Z" fill="#ffffff"/>
<path d="M518.8,573.4 L522.7,568.2 L526.5,565.0 L530.4,562.4 L533.0,562.4 L527.8,566.9 L522.7,569.8Z" fill="#ffffff"/>
<path d="M588.6,560.8 L590.5,557.2 L593.8,555.3 L597.6,555.9 L599.6,558.5 L596.3,562.6 L592.5,564.7 L589.6,563.2Z" fill="#8c96c6"/>
<circle cx="593.8" cy="559.8" r="2.8" fill="#88419d"/>
<circle cx="514.6" cy="553.3" r="4.5" fill="#800000"/>
<circle cx="514.6" cy="553.6" r="1.6" fill="#5a0000"/>
<circle cx="511.3" cy="566.3" r="3.2" fill="#800000"/>
<circle cx="511.3" cy="566.5" r="1.0" fill="#5a0000"/>
<circle cx="613.8" cy="541.7" r="5.8" fill="#800000"/>
<circle cx="613.8" cy="541.7" r="2.8" fill="#5a0000"/>
<g fill="none" stroke="#000" stroke-width="1" stroke-linejoin="round">
<path d="M500.7,490.0 L501.0,493.2 L502.6,497.8 L503.1,501.2 L504.6,504.2 L506.4,507.4 L507.3,508.6 L509.7,512.0 L514.9,514.6 L518.1,517.8 L518.8,521.7 L524.0,523.6 L526.5,522.2 L530.4,520.4 L535.6,519.7 L536.1,523.3 L536.9,526.2 L538.2,529.5 L540.1,531.4"/>
<path d="M518.1,517.8 L516.2,522.3 L514.0,524.1 L511.6,524.9 L508.4,527.5 L504.9,526.9 L502.0,527.5 L503.9,530.1 L499.4,534.0 L496.0,536.9 L492.9,537.8 L487.8,540.4 L483.9,543.0 L480.0,541.7"/>
<path d="M487.8,540.4 L491.6,544.3 L490.3,549.5 L486.5,552.0 L482.6,550.4 L480.0,548.2"/>
<path d="M540.1,531.4 L540.9,534.6 L542.0,539.1 L545.4,540.7 L547.2,543.0 L550.6,545.2 L555.0,546.9 L558.5,548.1 L562.7,550.1 L565.7,551.2 L569.2,553.3 L571.8,557.2 L572.4,561.1"/>
<path d="M540.1,531.4 L540.3,527.5 L540.8,524.9 L543.3,519.7 L545.9,514.6 L549.3,512.5 L551.1,511.3 L553.8,510.9 L557.6,510.0 L554.6,506.1 L552.4,502.9 L550.4,499.8 L549.2,498.4 L547.2,495.2 L545.9,491.3 L548.5,490.0"/>
<path d="M557.6,510.0 L561.4,510.5 L564.0,511.3 L569.2,509.4 L570.8,506.0 L573.1,502.9 L576.4,500.2 L580.8,499.0 L584.7,497.1 L588.6,495.2 L591.8,496.3 L595.0,497.8 L599.8,495.2 L602.8,493.9 L606.6,493.8 L609.3,495.2 L613.1,495.9 L616.5,495.8 L620.0,495.2"/>
<path d="M620.0,532.7 L617.0,534.0 L619.0,539.1 L618.1,542.9 L615.7,546.9 L617.0,550.8 L613.7,552.5 L610.6,555.9 L609.9,559.8"/>
</g></g></g>
<g clip-path="url(#land)"><g clip-path="url(#co4)" shape-rendering="crispEdges">
<path d="M395.0,500.0 L535.0,500.0 L535.0,620.0 L395.0,620.0Z" fill="#d40000"/>
<path d="M395.0,500.0 L440.7,500.0 L444.1,507.8 L445.0,517.2 L440.2,525.9 L434.3,532.8 L433.8,539.7 L436.4,546.6 L445.0,550.0 L448.4,555.2 L446.7,563.8 L441.6,570.7 L434.7,575.9 L429.5,582.8 L422.6,581.0 L408.8,551.7 L395.0,531.0Z" fill="#ff3030"/>
<path d="M397.6,505.2 L403.6,503.4 L410.5,510.3 L412.2,519.0 L407.1,523.3 L401.9,520.7 L397.6,513.8Z" fill="#d40000"/>
<circle cx="401.0" cy="508.3" r="2.4" fill="#800000"/>
<circle cx="406.2" cy="517.8" r="3.1" fill="#800000"/>
<path d="M488.1,572.4 L489.8,563.8 L495.0,558.6 L501.9,557.8 L506.2,562.1 L507.9,569.0 L514.0,571.6 L519.1,575.9 L512.2,578.4 L501.9,576.7 L491.6,581.9Z" fill="#ff3030"/>
<path d="M519.1,569.0 L522.6,560.3 L527.8,553.4 L535.0,548.3 L535.0,565.5 L527.8,569.8 L521.7,575.0Z" fill="#ff3030"/>
<path d="M498.4,576.7 L505.3,572.4 L514.0,573.3 L519.1,575.9 L512.2,578.6 L501.9,576.9Z" fill="#ff8080"/>
<path d="M522.6,569.0 L529.5,562.1 L535.0,558.6 L535.0,566.4 L527.8,569.8 L522.6,574.1Z" fill="#ff8080"/>
<path d="M524.3,568.1 L530.3,562.9 L535.0,561.2 L535.0,565.5 L527.8,569.3Z" fill="#ffd0d0"/>
<path d="M526.9,568.1 L531.2,564.7 L535.0,562.9 L535.0,565.2 L528.6,569.0Z" fill="#ffffff"/>
<path d="M395.0,522.4 L401.9,524.1 L408.8,527.6 L413.1,534.5 L422.6,537.1 L429.5,541.4 L435.5,550.0 L437.2,558.6 L433.8,567.2 L427.8,574.1 L422.6,581.0 L419.1,574.1 L408.8,556.9 L395.0,531.0Z" fill="#ff8080"/>
<path d="M408.8,540.5 L415.7,543.1 L422.6,544.8 L428.6,550.0 L432.1,558.6 L428.6,566.4 L423.4,572.4 L420.9,576.7 L416.6,568.1 L410.5,564.7 L408.8,556.9 L410.5,551.7Z" fill="#ffd0d0"/>
<path d="M408.8,543.1 L415.7,544.8 L419.1,551.7 L420.9,558.6 L419.1,565.5 L420.9,572.4 L420.9,577.2 L416.6,568.6 L410.5,564.7 L408.8,556.9 L410.5,551.7Z" fill="#ffffff"/>
<path d="M408.4,556.9 L412.2,553.4 L417.4,556.6 L418.3,564.1 L414.8,567.2 L410.5,564.7Z" fill="#9ebcda"/>
<path d="M408.8,556.9 L412.2,554.8 L416.4,557.2 L417.1,563.4 L414.7,565.9 L410.9,563.8Z" fill="#8c96c6"/>
<path d="M451.9,500.0 L455.3,510.3 L457.1,520.7 L464.0,529.3 L472.6,534.5 L479.5,537.1 L484.7,541.4 L491.6,540.5 L498.4,534.5 L505.3,529.3 L515.7,525.9 L526.0,522.4 L535.0,519.0 L535.0,500.0Z" fill="#800000"/>
<path d="M501.9,500.0 L505.3,506.9 L510.5,513.8 L515.7,517.2 L519.1,522.4 L527.8,520.7 L535.0,517.2 L535.0,500.0Z" fill="#5a0000"/>
<path d="M503.6,522.4 L507.1,516.4 L514.0,514.7 L519.1,519.0 L518.3,525.9 L514.0,531.0 L507.1,531.9 L503.6,527.6Z" fill="#5a0000"/>
<circle cx="477.4" cy="505.7" r="3.4" fill="#5a0000"/>
<circle cx="492.1" cy="522.4" r="2.9" fill="#5a0000"/>
<path d="M431.2,594.0 L435.5,582.8 L438.1,575.9 L445.0,573.3 L451.9,575.9 L457.1,577.6 L464.0,572.4 L470.9,571.6 L477.8,575.9 L485.5,582.8 L480.3,591.4 L476.9,600.9 L470.9,604.3 L464.0,601.7 L457.1,598.3 L451.9,603.4 L445.0,602.6 L438.1,599.1Z" fill="#800000"/>
<path d="M463.6,584.5 L464.8,577.6 L469.1,575.9 L472.9,581.0 L473.4,589.7 L470.0,594.0 L465.7,592.2Z" fill="#5a0000"/>
<circle cx="437.2" cy="594.8" r="4.3" fill="#5a0000"/>
<circle cx="440.7" cy="579.3" r="3.8" fill="#5a0000"/>
<circle cx="441.2" cy="540.0" r="4.8" fill="#800000"/>
<circle cx="466.6" cy="557.8" r="6.6" fill="#800000"/>
<circle cx="448.8" cy="569.3" r="4.1" fill="#800000"/>
<circle cx="514.3" cy="553.1" r="4.3" fill="#800000"/>
<circle cx="514.3" cy="553.1" r="1.4" fill="#5a0000"/>
<circle cx="511.4" cy="565.9" r="3.4" fill="#800000"/>
<circle cx="511.4" cy="565.9" r="1.0" fill="#5a0000"/>
<g fill="none" stroke="#000" stroke-width="1" stroke-linejoin="round">
<path d="M417.4,500.0 L417.4,504.1 L419.1,506.9 L418.0,509.2 L417.6,511.7 L415.7,515.5 L415.7,518.2 L417.4,522.4 L415.3,525.1 L415.2,527.7 L414.0,531.0 L413.5,534.6 L414.1,537.0 L414.8,539.4 L414.8,543.1 L417.5,543.3 L420.9,544.8 L424.7,546.3 L427.7,547.4 L431.2,547.4 L434.5,547.8 L437.8,549.2 L441.6,549.1 L443.9,547.2 L446.7,545.7 L450.6,544.9 L453.6,544.0 L457.1,540.5 L459.3,540.5 L463.8,542.2 L465.7,543.1 L466.6,546.6 L468.9,542.4 L470.9,538.8 L467.4,536.2 L471.7,535.3 L472.6,538.8 L476.7,537.9 L479.5,537.1 L481.8,539.7 L484.7,541.4 L489.8,540.5 L493.3,537.6 L495.2,537.2 L498.4,534.5 L499.8,533.3 L503.4,530.8 L505.3,528.4 L501.9,526.7 L505.2,525.5 L508.8,524.1 L513.1,525.1 L515.7,525.9 L518.3,520.7 L519.1,515.5 L514.0,513.8 L512.4,512.0 L509.3,509.8 L507.1,506.9 L504.5,504.0 L502.8,500.0"/>
<path d="M519.1,520.7 L522.4,522.3 L526.0,522.4 L528.9,520.7 L531.5,519.4 L535.0,519.0"/>
<path d="M484.7,541.4 L487.5,543.5 L490.7,544.8 L490.5,548.0 L489.8,550.9 L484.7,551.7 L479.5,550.9 L478.9,554.0 L477.8,556.9 L477.5,559.7 L476.0,563.8 L473.0,564.9 L471.7,568.4 L469.1,569.8 L465.3,570.6 L462.2,572.4 L460.5,574.1 L465.7,575.9 L470.9,574.1 L471.5,577.4 L472.6,581.0 L475.3,583.7 L476.0,587.9 L479.5,591.4"/>
</g></g></g>
<g clip-path="url(#land)"><g clip-path="url(#co5)" shape-rendering="crispEdges">
<path d="M660.0,400.0 L815.0,400.0 L815.0,520.0 L660.0,520.0Z" fill="#800000"/>
<path d="M660.0,400.0 L711.7,400.0 L708.3,406.9 L699.7,412.1 L689.3,415.5 L682.4,420.7 L679.0,427.6 L677.2,436.2 L672.1,443.1 L666.9,450.0 L660.0,456.9Z" fill="#5a0000"/>
<path d="M723.8,400.0 L726.4,404.3 L732.4,406.6 L737.6,404.3 L741.0,400.0Z" fill="#5a0000"/>
<circle cx="685.9" cy="453.4" r="7.8" fill="#5a0000"/>
<circle cx="695.3" cy="449.1" r="4.8" fill="#5a0000"/>
<circle cx="696.2" cy="422.1" r="2.1" fill="#5a0000"/>
<circle cx="789.3" cy="402.6" r="3.8" fill="#5a0000"/>
<circle cx="770.3" cy="408.6" r="6.0" fill="#5a0000"/>
<circle cx="760.0" cy="404.3" r="5.2" fill="#5a0000"/>
<path d="M741.0,410.3 L749.7,408.6 L756.6,412.1 L763.4,414.7 L770.3,417.2 L777.2,416.4 L784.1,412.1 L791.0,408.6 L796.2,405.2 L797.9,400.0 L815.0,400.0 L815.0,434.5 L766.9,451.7 L754.0,482.8 L746.2,479.3 L737.6,475.9 L729.0,478.4 L722.1,480.2 L718.6,474.1 L716.0,467.2 L719.5,458.6 L717.8,450.0 L716.9,441.4 L717.8,432.8 L720.3,424.1 L723.8,419.0 L730.7,417.2 L735.9,419.0 L737.6,413.8Z" fill="#d40000"/>
<path d="M660.0,469.0 L666.9,472.4 L673.8,474.1 L680.7,475.9 L687.6,473.3 L697.9,471.6 L704.8,474.1 L710.0,481.0 L716.9,484.5 L718.6,491.4 L716.9,499.1 L713.4,503.4 L695.3,520.0 L660.0,520.0Z" fill="#d40000"/>
<circle cx="695.7" cy="429.7" r="4.3" fill="#d40000"/>
<circle cx="695.7" cy="429.7" r="2.4" fill="#ff3030"/>
<path d="M749.7,425.9 L756.6,420.7 L763.4,418.1 L772.1,417.2 L780.7,413.8 L789.3,409.5 L796.2,405.2 L799.7,400.0 L815.0,400.0 L815.0,417.2 L791.0,425.0 L779.0,429.3 L772.1,437.1 L766.9,444.8 L761.7,451.7 L759.1,467.2 L754.0,476.7 L746.2,472.4 L738.4,469.0 L732.4,463.8 L729.0,456.9 L728.1,448.3 L729.8,442.2 L734.1,439.7 L739.3,442.2 L741.0,437.9 L744.5,431.0Z" fill="#ff3030"/>
<circle cx="750.9" cy="437.1" r="7.8" fill="#d40000"/>
<circle cx="750.9" cy="437.1" r="4.1" fill="#800000"/>
<path d="M660.0,481.0 L665.2,479.3 L670.3,482.8 L679.0,482.8 L684.1,486.2 L687.6,493.1 L687.6,500.0 L692.8,503.4 L699.7,500.0 L706.6,496.6 L713.4,496.6 L716.9,499.1 L713.4,503.4 L695.3,520.0 L660.0,520.0Z" fill="#ff3030"/>
<path d="M688.4,489.7 L691.0,484.5 L697.1,482.8 L703.1,485.3 L705.2,491.4 L702.2,496.6 L696.2,497.9 L691.0,495.7Z" fill="#d40000"/>
<path d="M761.7,443.1 L763.4,436.2 L768.6,431.0 L775.5,425.9 L784.1,420.7 L792.8,415.5 L799.7,410.3 L804.8,403.4 L806.6,400.0 L815.0,400.0 L815.0,417.2 L791.0,425.0 L779.0,429.3 L772.1,437.1 L766.9,444.8 L763.4,450.0Z" fill="#ff8080"/>
<path d="M735.9,458.6 L737.6,453.4 L742.4,451.4 L747.1,453.4 L748.8,459.5 L746.2,465.2 L741.0,466.4 L737.2,463.8Z" fill="#ff8080"/>
<path d="M673.8,520.0 L674.7,510.3 L676.4,503.4 L680.7,501.7 L687.6,503.4 L694.5,506.0 L701.4,501.7 L708.3,499.1 L713.4,500.0 L710.0,506.9 L695.3,520.0Z" fill="#ff8080"/>
<path d="M767.8,438.8 L770.3,433.6 L777.2,427.6 L784.1,423.3 L791.0,419.0 L797.9,413.8 L803.1,409.5 L808.3,407.8 L810.9,409.5 L804.8,414.7 L792.8,422.4 L784.1,426.7 L779.0,430.2 L772.1,437.9Z" fill="#ffd0d0"/>
<circle cx="742.4" cy="459.0" r="4.1" fill="#ffd0d0"/>
<path d="M677.2,520.0 L678.1,512.1 L680.7,506.0 L685.9,505.2 L692.8,507.8 L699.7,505.2 L706.6,501.7 L711.7,501.7 L708.3,507.8 L695.3,520.0Z" fill="#ffd0d0"/>
<path d="M779.0,429.0 L782.4,424.1 L787.6,420.7 L793.6,417.2 L798.8,417.2 L792.8,422.4 L784.1,426.7Z" fill="#ffffff"/>
<circle cx="742.1" cy="459.5" r="2.1" fill="#ffffff"/>
<path d="M679.8,520.0 L679.8,512.9 L682.4,507.8 L687.6,507.8 L692.8,510.3 L697.9,508.6 L704.8,503.4 L710.0,503.4 L706.6,510.3 L695.3,520.0Z" fill="#ffffff"/>
<path d="M781.6,424.5 L785.0,419.8 L791.0,418.1 L795.3,419.0 L793.1,422.4 L787.6,425.9 L783.3,426.9Z" fill="#8c96c6"/>
<circle cx="788.4" cy="421.7" r="2.4" fill="#88419d"/>
<path d="M696.7,514.7 L698.8,507.8 L703.1,504.3 L707.4,504.3 L709.5,506.6 L705.7,511.7 L700.5,514.7Z" fill="#8c96c6"/>
<circle cx="703.1" cy="509.0" r="2.4" fill="#88419d"/>
<circle cx="682.1" cy="512.9" r="1.7" fill="#9ebcda"/>
<circle cx="696.6" cy="490.0" r="3.8" fill="#800000"/>
<circle cx="729.0" cy="487.1" r="3.8" fill="#5a0000"/>
<circle cx="669.5" cy="512.1" r="5.2" fill="#d40000"/>
<circle cx="669.5" cy="512.1" r="2.9" fill="#800000"/>
<circle cx="689.3" cy="499.7" r="0.9" fill="#800000"/>
<g fill="none" stroke="#000" stroke-width="1" stroke-linejoin="round">
<path d="M660.0,460.3 L662.0,458.1 L663.2,454.3 L665.2,451.7 L667.4,449.0 L670.7,447.4 L673.8,445.7 L677.2,444.5 L680.2,442.6 L682.4,441.4 L685.0,440.5 L688.3,439.7 L691.0,438.8 L694.9,439.8 L697.1,440.5 L700.6,442.4 L703.1,442.2 L705.1,439.7 L708.3,438.8 L709.3,435.0 L709.1,433.4 L710.0,429.3 L711.4,426.5 L710.9,423.0 L711.7,419.0 L714.9,416.3 L718.6,413.8 L721.1,412.6 L725.5,410.3 L730.7,409.5 L733.2,413.2 L735.9,415.5 L741.0,416.4 L742.2,412.5 L741.9,408.6 L740.2,403.4 L742.8,400.0"/>
<path d="M735.9,415.5 L736.5,419.4 L736.7,422.4 L735.8,425.6 L735.9,429.3 L734.5,432.6 L732.4,434.5 L734.1,439.7 L737.6,440.4 L739.3,443.1 L740.5,447.4 L740.2,450.0 L739.0,452.9 L736.7,455.2 L737.6,459.0 L737.6,461.2 L739.0,464.2 L741.0,466.4 L743.0,469.7 L746.2,472.4 L749.3,474.4 L753.1,476.7"/>
<path d="M741.9,408.6 L745.5,408.9 L747.9,409.5 L750.1,411.5 L753.0,412.2 L756.6,412.9 L759.1,411.8 L763.4,410.3 L761.7,406.9 L765.0,406.5 L766.6,404.4 L770.3,404.3 L772.8,403.7 L776.3,401.1 L779.0,400.0"/>
<path d="M660.0,466.4 L663.5,470.0 L665.2,472.4 L668.7,473.3 L672.1,474.1 L674.8,474.6 L679.0,475.9 L678.1,479.6 L678.1,482.8 L678.4,486.2 L679.8,491.4 L682.6,494.3 L684.1,499.1 L686.9,502.2 L688.9,503.4 L690.2,506.9 L694.6,508.7 L697.1,510.3 L700.5,512.1"/>
<path d="M660.0,482.8 L660.2,486.6 L661.7,489.7 L660.8,493.5 L660.0,496.6"/>
</g></g></g>
<g clip-path="url(#land)"><g clip-path="url(#co6)" shape-rendering="crispEdges">
<path d="M600.0,470.0 L720.0,470.0 L720.0,570.0 L600.0,570.0Z" fill="#ff3030"/>
<path d="M600.0,470.0 L664.0,470.0 L660.4,477.2 L654.6,481.5 L648.9,485.8 L643.1,493.0 L638.8,498.7 L633.1,503.1 L627.3,508.8 L623.0,516.0 L617.2,524.6 L611.5,530.4 L605.7,534.7 L600.0,539.0Z" fill="#d40000"/>
<path d="M600.0,470.0 L647.4,470.0 L643.1,477.2 L638.8,485.8 L634.5,493.0 L628.7,498.7 L623.0,504.5 L615.8,511.7 L610.1,518.9 L604.3,527.5 L600.0,531.8Z" fill="#800000"/>
<path d="M600.0,470.0 L635.9,470.0 L631.6,475.7 L627.3,484.4 L623.0,491.6 L617.2,494.4 L608.6,493.0 L600.0,497.3Z" fill="#5a0000"/>
<path d="M679.0,475.7 L686.2,478.6 L687.7,484.4 L688.4,491.6 L686.2,497.3 L692.0,500.9 L700.6,498.0 L709.2,494.4 L715.0,497.3 L720.0,500.9 L720.0,470.0 L679.0,470.0Z" fill="#d40000"/>
<path d="M700.6,470.0 L706.4,475.7 L712.1,481.5 L715.0,490.1 L720.0,495.9 L720.0,470.0Z" fill="#800000"/>
<circle cx="696.6" cy="489.8" r="3.6" fill="#800000"/>
<path d="M605.7,541.9 L607.9,536.1 L612.9,534.0 L618.7,535.4 L621.6,540.4 L619.4,546.2 L614.4,548.3 L608.6,546.9Z" fill="#d40000"/>
<circle cx="613.7" cy="541.1" r="4.0" fill="#800000"/>
<circle cx="613.7" cy="541.4" r="1.7" fill="#5a0000"/>
<path d="M641.7,527.5 L644.6,518.9 L650.3,515.3 L656.1,516.0 L658.9,519.6 L664.7,521.0 L671.9,519.6 L674.7,513.1 L674.7,504.5 L678.3,500.9 L684.8,500.9 L692.0,505.9 L697.7,510.2 L692.0,521.7 L687.0,539.0 L680.5,550.5 L674.7,559.8 L670.4,562.7 L663.2,555.5 L658.9,553.4 L653.9,555.5 L648.9,554.8 L644.6,558.4 L641.7,562.7 L639.5,556.2 L638.8,547.6 L638.8,537.5Z" fill="#ff8080"/>
<path d="M600.0,546.2 L604.3,547.6 L608.6,550.5 L614.4,551.9 L617.2,553.4 L614.4,556.2 L610.1,561.3 L600.0,561.3Z" fill="#ff8080"/>
<path d="M600.0,552.6 L605.7,553.4 L611.5,554.8 L614.4,556.2 L611.5,561.3 L600.0,561.3Z" fill="#ffd0d0"/>
<path d="M600.0,556.2 L608.6,556.2 L614.4,557.0 L621.6,560.3 L615.8,561.4 L600.0,561.4Z" fill="#ffffff"/>
<path d="M692.0,505.9 L696.3,502.3 L703.5,499.5 L710.7,498.0 L716.4,500.9 L720.0,500.9 L715.0,504.5 L706.4,511.0 L700.6,512.4 L697.7,510.2Z" fill="#ff8080"/>
<path d="M674.7,517.4 L676.2,508.8 L678.3,503.8 L684.8,503.8 L690.5,507.4 L696.3,511.7 L692.7,521.7 L688.4,533.2 L687.7,539.0 L685.5,544.7 L681.9,541.9 L677.6,534.7 L671.9,530.4 L670.4,526.1 L673.3,521.7Z" fill="#ffd0d0"/>
<path d="M697.7,505.2 L703.5,501.6 L710.7,500.2 L715.0,502.3 L711.4,506.2 L707.1,510.8 L701.3,512.3 L697.7,509.5Z" fill="#ffd0d0"/>
<path d="M677.6,517.4 L678.3,509.5 L681.9,505.9 L687.7,508.1 L693.4,511.7 L692.7,521.7 L688.4,533.2 L687.7,539.0 L685.5,543.3 L681.9,537.5 L678.3,530.4 L676.9,524.6Z" fill="#ffffff"/>
<path d="M699.2,505.9 L703.5,503.3 L709.2,502.3 L713.5,503.3 L711.4,506.2 L707.1,510.8 L701.3,511.7Z" fill="#ffffff"/>
<circle cx="682.2" cy="512.4" r="1.9" fill="#9ebcda"/>
<path d="M679.8,527.5 L681.2,522.5 L686.2,519.6 L692.0,518.9 L695.6,516.7 L692.7,522.0 L690.5,527.8 L688.4,533.5 L684.8,534.7 L681.2,532.5Z" fill="#8c96c6"/>
<path d="M683.4,527.5 L685.5,523.2 L689.8,521.7 L692.7,522.0 L690.5,527.8 L688.4,532.8 L685.5,532.5Z" fill="#88419d"/>
<circle cx="688.2" cy="527.5" r="2.4" fill="#4d004b"/>
<path d="M697.7,512.0 L700.6,508.1 L706.4,505.9 L709.9,506.6 L707.1,510.7 L701.3,512.5Z" fill="#8c96c6"/>
<circle cx="704.2" cy="508.5" r="2.6" fill="#88419d"/>
<circle cx="669.3" cy="512.7" r="6.5" fill="#ff3030"/>
<circle cx="669.3" cy="512.7" r="4.3" fill="#d40000"/>
<circle cx="669.4" cy="512.8" r="2.6" fill="#800000"/>
<circle cx="666.4" cy="544.0" r="10.3" fill="#ff3030"/>
<circle cx="666.4" cy="544.0" r="6.9" fill="#d40000"/>
<circle cx="666.4" cy="544.0" r="4.3" fill="#800000"/>
<circle cx="666.5" cy="544.3" r="1.7" fill="#5a0000"/>
<circle cx="630.2" cy="558.4" r="5.0" fill="#d40000"/>
<circle cx="630.2" cy="558.4" r="2.9" fill="#800000"/>
<g fill="none" stroke="#000" stroke-width="1" stroke-linejoin="round">
<path d="M663.2,470.0 L663.5,473.8 L662.5,477.0 L661.8,481.5 L661.6,484.3 L661.2,489.8 L659.6,493.0 L656.8,493.7 L657.3,497.9 L656.1,500.9 L653.8,502.6 L649.8,503.6 L647.4,505.9 L645.3,507.4 L641.7,510.2 L641.8,513.0 L640.3,517.0 L639.5,520.3 L639.5,525.3 L636.5,523.6 L633.1,523.2 L629.2,521.5 L627.3,521.0 L626.6,523.3 L625.2,527.5 L622.2,528.7 L619.8,531.2 L618.0,533.2 L619.2,535.6 L618.2,540.7 L619.4,543.3 L616.3,545.8 L614.4,548.3 L617.2,552.6 L615.2,555.0 L611.5,556.2 L610.1,560.5"/>
<path d="M663.2,470.0 L667.5,473.6 L671.8,474.3 L674.7,475.0 L679.8,475.7 L679.3,478.7 L678.3,482.9 L678.8,485.5 L678.3,490.1 L680.9,494.0 L681.9,496.6 L684.9,500.4 L686.2,503.1 L689.7,505.3 L692.0,507.4 L697.7,508.8"/>
<path d="M600.0,496.6 L602.9,495.8 L605.7,493.7 L609.1,495.7 L612.9,495.9 L616.5,495.1 L620.1,495.2 L623.0,493.2 L624.4,490.1 L624.8,487.5 L625.6,484.8 L627.3,481.5 L628.6,477.0 L630.9,474.3 L633.1,471.7 L635.9,470.0"/>
</g></g></g>
<g fill="none" stroke="#000" stroke-width="1" stroke-linejoin="round" shape-rendering="crispEdges">
<path d="M287.0,166.5 L287.6,163.0 L287.8,159.1 L287.1,155.7 L286.7,153.1 L286.5,149.0 L290.1,145.2 L293.0,141.7 L295.1,139.7 L290.1,138.2 L292.1,134.0 L294.8,131.8 L297.4,130.5 L301.3,130.2 L297.6,127.2 L292.1,128.2 L289.1,124.0 L288.1,120.7 L291.5,118.5 L293.9,117.1 L296.3,116.4 L297.6,110.7 L294.3,113.0 L292.3,112.9 L287.2,115.6 L285.0,117.2 L282.7,113.8 L280.8,112.7 L281.3,109.2 L283.8,106.4 L285.8,104.6 L288.0,102.7 L291.3,99.6 L290.6,95.1 L287.4,96.9 L285.6,99.1 L283.0,100.1 L281.4,96.9 L278.8,94.6 L276.7,91.6 L275.0,87.6 L270.5,86.4 L270.9,82.4 L272.0,78.1 L273.9,75.2 L277.0,73.8 L276.9,69.9 L276.3,67.6 L280.1,66.7 L284.7,64.6 L287.6,64.6 L290.2,63.0 L292.1,59.6 L297.6,57.6 L301.0,60.1 L304.6,60.6 L307.6,59.4 L311.8,58.4 L313.8,58.8 L317.7,57.8 L321.2,55.6 L324.6,55.1 L327.2,57.6 L330.1,58.1 L332.1,55.4 L333.1,51.3 L328.8,50.1 L325.6,50.1 L325.3,47.4 L326.4,43.0 L329.5,41.8 L333.1,40.0 L336.0,38.1 L337.8,35.3 L340.6,33.0 L344.8,30.4 L348.9,29.5 L351.8,31.8 L353.2,33.8 L356.8,31.2 L359.5,30.5 L361.4,27.5 L364.1,29.5 L365.7,32.5 L371.5,33.8 L375.9,35.1 L379.0,38.0 L381.2,39.4 L382.6,43.3 L384.7,45.0 L388.3,44.7 L392.7,46.4 L396.5,46.5 L400.8,47.0 L403.9,46.0 L407.8,45.9 L410.3,46.0 L413.3,45.9 L416.2,46.8 L419.2,46.1 L422.8,47.6 L426.7,48.3 L429.2,46.5 L432.7,46.5 L437.2,46.9 L440.3,46.0 L443.6,47.5 L447.8,47.0 L450.8,47.6 L453.4,45.5 L457.5,45.9 L459.4,43.1 L462.9,42.5 L465.8,45.8 L468.7,46.4 L472.9,49.1 L475.7,49.3 L479.9,49.5 L481.8,50.3 L485.3,50.5 L487.9,51.3 L491.9,53.4 L495.5,54.2 L497.9,56.6 L501.5,56.2 L504.6,58.0 L508.4,56.6 L510.5,57.6 L514.3,58.5 L517.0,60.3 L520.4,60.0 L523.0,61.3 L526.7,61.0 L528.9,63.0 L532.2,64.2 L535.0,64.6 L539.2,62.8 L542.6,63.4 L545.0,62.6 L548.2,61.9 L552.7,62.6 L555.0,61.3 L558.1,61.1 L561.9,59.2 L565.1,57.6 L569.2,58.2 L570.9,56.9 L575.1,56.3 L577.4,56.1 L582.0,56.4 L583.6,55.6 L587.6,55.1 L591.6,56.3 L593.5,58.2 L596.4,59.6 L598.7,60.4 L601.0,61.7 L604.6,63.0 L607.6,65.1 L610.8,65.0 L614.9,67.0 L617.7,66.3 L620.5,63.1 L621.4,61.3 L625.3,59.7 L628.4,60.5 L632.7,59.6 L635.5,62.2 L637.9,63.3 L640.2,64.6 L642.2,65.9 L645.3,67.6 L649.0,68.8 L654.1,69.2 L657.7,70.6 L660.7,71.0 L663.3,69.5 L666.9,70.5 L670.2,69.6 L673.6,68.4 L675.7,67.6 L679.0,66.3 L681.4,65.1 L685.3,63.8 L687.4,67.9 L690.3,70.1 L693.5,70.6 L697.8,72.1 L700.9,71.6 L704.0,71.9 L707.8,72.6 L708.7,75.5 L709.1,80.1 L708.3,83.5 L706.6,86.4 L710.2,85.5 L712.8,83.9 L716.1,85.2 L720.3,88.1 L723.0,88.7 L727.5,91.9 L730.4,92.6 L732.8,93.9 L737.9,94.2 L739.8,94.7 L744.1,95.1 L747.0,98.1 L747.9,100.1 L750.6,103.1 L751.9,104.1 L755.4,106.4 L758.8,105.7 L761.5,105.3 L765.0,104.9 L767.9,103.2 L770.6,103.6 L773.8,104.8 L776.7,106.4 L778.6,108.3 L781.6,110.7 L785.5,113.9 L788.5,112.5 L794.0,111.6 L796.7,110.7 L800.5,112.1 L804.2,113.2 L806.9,111.7 L810.0,110.7 L814.6,110.3 L817.6,110.6 L821.3,110.7 L822.6,106.2 L823.0,104.5 L823.0,100.1 L828.8,99.6 L832.8,101.5 L835.0,103.2 L837.2,103.9 L840.4,103.9 L845.1,104.6 L847.6,105.2 L851.3,108.9 L855.1,109.1 L859.6,109.6 L862.6,108.9 L865.1,112.8 L866.4,116.4 L868.6,118.7 L868.9,124.0 L870.1,126.4 L873.2,126.7 L876.4,126.4 L879.0,124.2 L882.6,123.2 L886.1,123.1 L888.9,123.8 L894.0,124.7 L896.4,126.4 L897.7,131.5 L899.8,132.6 L903.9,132.7 L907.6,130.1 L910.2,127.7 L913.5,127.9 L917.8,127.0 L920.2,127.2 L922.0,128.1 L925.1,131.4 L927.7,132.7 L932.0,131.8 L935.2,132.7 L938.1,129.2 L940.2,126.4 L943.7,124.4 L946.5,121.4 L950.9,120.6 L952.7,119.8 L956.5,120.2 L959.5,121.8 L963.2,122.1 L965.3,123.9 L965.3,127.9 L966.5,130.2 L969.3,129.4 L974.0,130.2 L972.8,135.2 L967.8,137.7 L965.7,140.3 L965.3,144.0 L967.9,147.6 L969.0,150.2 L970.3,153.4 L970.9,156.5 L971.5,159.0 L969.9,161.6 L969.1,164.5 L967.8,167.8 L965.9,169.0 L963.4,171.7 L960.3,172.8 L956.5,176.5 L953.6,178.2 L949.0,180.3 L945.9,183.4 L942.3,184.5 L940.2,187.8 L936.2,190.3 L932.7,192.0 L930.2,194.1 L927.7,194.0 L926.1,196.4 L922.6,198.8 L920.2,201.5 L918.6,203.4 L914.1,206.3 L913.0,209.6 L910.2,211.5 L907.0,212.5 L902.8,213.5 L899.7,215.0 L897.7,216.5 L894.0,218.0 L891.9,218.8 L888.3,219.9 L885.1,220.3 L882.8,222.0 L879.2,221.3 L876.4,222.8 L872.3,224.4 L868.9,226.6 L866.3,228.1 L862.4,229.8 L860.1,230.3 L856.3,234.1 L853.3,233.1 L848.8,234.1 L846.7,236.6 L842.6,240.3 L839.7,242.3 L838.7,245.7 L836.3,247.8 L835.3,250.3 L832.5,254.1 L837.0,255.6 L840.1,256.6 L842.6,260.4 L838.8,262.2 L836.3,265.4 L831.8,267.8 L828.8,269.1 L825.3,270.5 L824.2,272.2 L821.3,274.1 L819.8,277.4 L818.8,280.4 L817.7,284.4 L816.5,286.3 L813.8,289.2 L810.8,290.6 L810.0,294.2 L810.0,295.4 L808.4,297.9 L805.4,301.3 L804.2,304.2 L802.9,305.7 L800.9,310.3 L798.0,311.7 L796.2,316.0 L794.2,319.2 L791.7,320.9 L790.0,325.2 L789.5,327.4 L786.7,329.2 L784.0,331.1 L783.2,334.5 L781.7,336.8 L780.1,340.3 L779.2,344.3 L777.5,347.6 L777.5,350.1 L775.9,354.3 L777.4,356.7 L777.1,360.1 L778.7,364.3 L779.2,368.1 L779.7,370.9 L781.2,373.9 L783.0,378.0 L784.4,379.9 L785.8,384.3 L786.9,386.4 L788.0,389.3 L791.2,392.9 L793.7,395.4 L795.5,397.6 L800.3,398.6 L803.0,400.1 L805.6,401.4 L807.7,405.4 L809.2,406.8 L810.0,409.6 L808.0,412.0 L804.7,413.8 L800.4,414.9 L798.0,417.3 L795.0,419.0 L792.7,421.6 L791.0,425.1 L787.0,425.2 L784.2,425.9 L781.9,426.8 L778.9,429.4 L776.3,430.8 L773.7,433.6 L772.2,437.1 L767.7,439.6 L766.9,444.9 L765.9,449.9 L761.7,451.7 L761.7,455.7 L759.9,458.7 L759.6,462.3 L759.2,467.2 L754.9,470.7 L754.8,473.1 L753.9,476.7 L753.2,480.4 L753.9,482.7 L755.4,486.9 L755.7,489.7 L757.4,494.0 L753.1,495.7 L749.7,497.3 L746.1,497.5 L742.1,497.5 L739.4,496.5 L734.1,499.2 L728.9,498.2 L723.8,499.2 L718.6,500.7 L713.3,503.5 L710.1,507.0 L706.6,510.3 L701.3,513.0 L698.0,515.5 L695.3,520.0 L694.3,521.8 L691.5,525.8 L690.0,530.2 L688.3,533.3 L688.1,536.4 L685.5,538.4 L685.3,542.1 L686.5,540.8 L685.4,543.6 L682.8,548.3 L679.2,550.4 L677.8,553.3 L674.9,556.2 L674.0,559.6 L670.2,562.1 L668.5,559.1 L665.2,558.3 L661.9,556.2 L659.0,552.6 L654.0,554.6 L649.0,553.3 L647.1,556.0 L643.9,557.1 L641.4,562.1 L637.7,565.1 L633.7,563.8 L631.4,564.6 L627.7,562.1 L622.7,559.6 L618.3,558.7 L615.1,557.1 L610.1,559.6 L607.2,558.4 L603.9,559.1 L600.8,561.0 L597.6,560.8 L595.1,563.0 L591.4,564.1 L587.6,562.7 L585.1,562.1 L580.1,559.6 L576.1,559.8 L572.6,560.8 L570.1,557.1 L567.7,557.8 L562.9,559.3 L560.0,559.1 L555.9,559.1 L552.5,559.6 L549.1,559.7 L545.0,560.8 L541.1,560.5 L539.2,561.2 L535.0,561.6 L533.5,564.6 L530.5,565.8 L527.4,568.5 L525.5,569.6 L522.7,572.0 L520.5,573.3 L517.2,576.8 L515.5,578.4 L511.7,578.6 L509.6,576.2 L506.7,575.8 L503.9,577.8 L500.4,578.4 L495.9,579.5 L492.9,580.9 L488.1,582.6 L485.4,584.6 L483.0,587.0 L481.7,590.9 L478.5,593.0 L476.6,597.1 L475.1,600.0 L475.4,603.4 L473.1,605.8 L470.4,607.2 L468.3,608.6 L465.4,610.9 L463.0,612.5 L459.1,612.7 L455.4,609.7 L451.5,609.5 L447.8,608.4 L445.2,606.0 L442.8,602.1 L438.0,601.6 L435.3,599.6 L432.8,595.9 L431.2,592.7 L430.5,591.0 L427.8,588.4 L425.4,584.6 L424.0,582.1 L422.5,579.2 L420.3,577.1 L422.8,573.3 L420.8,570.1 L418.3,566.8 L414.8,566.1 L413.0,563.3 L411.0,560.8 L409.8,557.1 L411.3,555.3 L414.8,554.1 L415.3,552.3 L413.0,552.1 L411.3,548.8 L409.8,545.3 L408.0,541.8 L404.5,538.3 L401.4,537.6 L399.3,535.1 L396.1,532.8 L394.0,530.8 L391.9,529.9 L389.0,527.3 L383.7,525.0 L378.7,522.8 L375.2,520.8 L369.9,520.3 L365.5,521.4 L361.6,521.6 L358.9,521.3 L353.9,522.0 L352.6,518.2 L352.5,515.9 L351.4,513.3 L350.7,510.8 L350.0,507.3 L350.2,503.2 L349.8,499.7 L348.6,495.9 L347.7,492.0 L350.5,488.5 L351.4,485.7 L353.6,483.0 L353.9,478.2 L355.5,476.5 L359.8,473.1 L361.4,470.7 L362.4,467.2 L364.7,463.8 L365.2,461.2 L369.2,459.8 L371.2,459.2 L374.9,460.9 L377.7,459.4 L380.2,457.2 L381.5,454.4 L381.5,452.1 L380.2,448.1 L376.3,447.8 L374.0,446.9 L372.7,444.4 L372.4,440.5 L370.2,438.1 L369.3,436.1 L366.7,432.1 L365.2,430.6 L362.7,425.6 L363.0,422.8 L365.7,418.0 L366.4,414.3 L367.1,410.1 L367.2,406.8 L371.5,405.6 L374.9,403.2 L377.7,399.3 L379.4,395.7 L381.5,394.3 L382.9,391.1 L385.2,386.8 L384.9,382.9 L384.0,380.5 L381.0,379.5 L377.7,379.3 L375.2,375.5 L373.5,373.4 L371.6,370.1 L370.2,368.0 L368.6,365.4 L366.3,361.2 L365.2,359.3 L366.9,355.5 L366.3,353.8 L367.7,350.5 L364.5,349.3 L363.0,346.1 L360.2,344.3 L358.1,342.0 L356.3,339.2 L353.9,335.5 L357.5,334.8 L360.8,335.8 L362.9,335.5 L367.2,335.9 L370.2,337.3 L373.1,336.7 L377.8,336.9 L380.5,335.9 L384.0,336.8 L385.7,332.5 L386.7,329.2 L387.7,326.7 L388.9,322.5 L391.5,319.2 L393.1,316.2 L394.6,311.6 L396.5,309.2 L394.4,306.9 L391.2,306.2 L387.7,304.2 L385.2,299.2 L387.7,294.2 L391.6,292.8 L393.3,291.7 L395.4,290.2 L399.0,289.2 L398.9,285.0 L396.2,282.8 L396.5,279.2 L396.7,275.1 L397.6,271.8 L397.8,269.1 L397.7,266.0 L398.4,264.2 L398.7,261.1 L398.8,256.7 L399.8,254.1 L398.5,251.8 L398.7,248.1 L397.8,244.1 L395.8,240.2 L394.0,236.1 L399.0,235.3 L400.4,234.0 L404.0,231.6 L406.2,229.1 L407.4,226.3 L408.0,223.4 L410.3,221.0 L414.6,219.7 L416.7,218.0 L420.3,217.8 L422.5,215.4 L422.8,212.5 L425.3,210.3 L428.3,208.0 L431.6,204.0 L432.5,199.9 L433.9,197.9 L436.6,194.0 L436.9,196.2 L435.0,192.5 L431.6,190.8 L428.8,189.4 L426.1,188.9 L422.5,190.0 L418.1,188.1 L416.2,183.1 L416.6,179.3 L418.8,176.2 L418.0,172.9 L418.1,170.0 L416.2,167.8 L411.2,169.0 L406.2,168.1 L403.8,165.0 L400.0,167.5 L395.0,166.2 L391.2,166.9 L387.5,164.4 L384.4,165.0 L382.5,170.6 L378.9,171.3 L377.2,173.7 L373.8,173.8 L368.8,176.2 L363.8,173.1 L358.8,172.5 L356.2,168.0 L353.2,168.1 L348.4,169.3 L346.3,169.3 L342.5,170.0 L340.1,170.9 L336.7,170.9 L333.2,171.5 L329.6,172.1 L327.0,173.8 L326.5,169.4 L325.5,165.0 L327.0,163.1 L329.3,158.1 L332.5,156.2 L328.0,153.8 L327.5,150.8 L327.0,147.5 L323.4,149.6 L318.8,150.5 L314.6,152.6 L311.8,153.5 L309.1,154.9 L306.5,156.7 L302.5,157.5 L298.8,160.2 L295.6,160.5 L293.9,163.0 L289.7,164.6 L287.0,166.2Z"/>
<path d="M931.5,338.8 L933.2,337.6 L935.4,335.7 L936.5,334.2 L938.6,332.7 L940.2,330.5 L941.3,328.4 L943.2,327.1 L945.5,325.9 L946.5,324.2 L948.2,322.2 L949.8,321.5 L952.3,319.2 L953.6,317.9 L955.3,316.7 L957.2,316.4 L959.8,315.0 L962.2,314.0 L963.8,313.7 L966.4,312.5 L968.0,310.9 L970.3,310.5 L972.5,310.1 L975.5,309.4 L978.3,308.2 L980.3,308.0 L981.6,310.5 L979.1,311.6 L977.0,311.7 L975.3,313.0 L978.4,313.1 L980.3,314.2 L978.5,317.2 L977.8,319.2 L979.8,320.8 L982.8,323.0 L984.8,322.6 L987.1,321.7 L989.1,320.5 L990.6,320.9 L993.4,322.0 L995.3,323.0 L997.3,326.7 L996.1,329.0 L995.2,331.5 L994.1,334.3 L992.8,336.7 L991.6,338.8 L990.1,340.3 L989.1,343.0 L987.5,344.2 L986.3,345.9 L984.7,347.8 L982.8,349.3 L981.4,351.8 L980.3,354.8 L979.1,356.8 L977.0,358.6 L974.0,360.6 L971.4,358.5 L970.1,357.1 L967.8,355.5 L964.7,354.8 L963.2,354.9 L960.5,353.9 L957.8,353.0 L956.7,351.1 L956.3,348.3 L955.8,346.0 L955.3,344.6 L954.0,341.8 L951.3,342.1 L949.6,343.2 L946.5,343.0 L944.6,344.6 L943.7,346.6 L941.5,348.0 L940.1,345.9 L937.7,343.0 L935.7,342.4 L932.7,343.0 L931.9,341.1Z"/>
<path d="M1014.3,299.6 L1015.9,298.7 L1018.2,297.1 L1021.7,296.2 L1024.6,296.5 L1027.1,296.4 L1029.6,295.8 L1031.6,294.2 L1034.1,295.8 L1037.3,298.4 L1039.0,300.2 L1041.1,302.2 L1043.1,304.9 L1044.3,306.7 L1046.2,309.2 L1045.6,312.4 L1043.0,314.9 L1041.1,313.9 L1038.6,313.0 L1034.8,311.1 L1033.1,309.6 L1030.9,308.6 L1027.1,306.9 L1024.0,307.5 L1022.0,307.7 L1020.0,308.3 L1016.9,308.6 L1015.4,305.4 L1015.4,302.4Z"/>
<path d="M867.2,389.3 L868.5,388.0 L871.6,387.6 L872.4,385.0 L873.3,382.9 L875.9,380.7 L879.3,379.0 L882.8,377.2 L886.2,376.0 L888.8,377.2 L890.5,378.5 L891.8,382.4 L890.5,385.0 L887.9,387.6 L886.2,390.6 L882.8,392.8 L880.6,394.1 L879.8,398.0 L877.6,398.0 L875.9,395.8 L872.4,396.7 L869.8,397.1 L868.1,393.6 L867.7,391.5Z"/>
<path d="M878.9,406.8 L880.9,405.6 L881.4,402.6 L882.1,406.1 L884.4,408.1 L886.9,407.8 L888.9,407.6 L891.4,409.6 L888.1,411.8 L885.6,410.3 L883.9,409.6 L881.6,411.1 L880.1,413.6 L878.1,411.8 L878.6,409.1Z"/>
<path d="M345.2,575.1 L345.9,573.4 L348.0,571.3 L348.9,569.6 L350.4,567.2 L351.4,564.6 L354.1,562.5 L356.4,560.8 L358.0,559.5 L360.9,559.3 L362.7,558.3 L365.2,557.6 L367.7,557.1 L370.2,557.5 L372.2,558.3 L373.6,556.1 L374.0,553.3 L373.5,550.9 L372.7,548.3 L373.4,545.3 L374.0,543.3 L377.7,544.5 L377.8,546.5 L377.2,549.0 L380.2,550.1 L381.5,554.1 L380.1,555.8 L377.7,558.3 L377.4,562.0 L377.2,564.6 L375.2,568.3 L372.6,569.3 L370.2,570.8 L367.4,571.8 L364.6,571.2 L362.7,572.1 L359.9,572.3 L356.4,573.3 L355.4,575.7 L353.9,577.6 L351.3,577.7 L348.9,576.6Z"/>
<path d="M295.1,634.7 L297.2,634.2 L299.1,633.1 L302.1,633.4 L303.8,632.2 L306.4,631.0 L308.4,630.5 L311.3,629.7 L313.5,628.5 L315.2,626.5 L316.4,624.7 L317.3,622.2 L317.9,619.7 L318.7,617.7 L320.1,615.9 L320.8,613.2 L322.3,610.5 L323.9,608.4 L326.2,606.8 L327.4,605.6 L329.3,604.0 L331.4,602.1 L332.6,599.5 L333.3,597.4 L333.9,594.6 L334.9,592.1 L335.0,589.0 L336.4,586.6 L338.9,585.6 L340.5,586.2 L343.5,585.1 L345.2,584.6 L346.6,586.4 L347.7,588.4 L348.3,591.4 L347.8,594.2 L348.2,597.1 L347.2,599.7 L346.7,602.0 L346.2,604.1 L345.5,605.8 L345.2,608.4 L344.5,611.2 L343.4,613.2 L343.0,614.5 L342.7,617.2 L342.1,619.3 L340.7,622.0 L339.6,624.7 L337.8,625.8 L334.6,626.7 L332.6,628.4 L330.6,629.3 L327.6,629.0 L325.6,630.2 L322.6,630.2 L319.7,630.8 L316.4,632.2 L313.9,634.4 L311.3,636.0 L309.3,638.3 L306.3,639.7 L303.8,639.4 L302.5,637.8 L300.1,637.2 L297.6,636.1Z"/>
<path d="M374.7,534.5 L376.2,533.0 L377.2,535.0 L375.7,536.0Z"/>
<path d="M47.6,552.1 L48.5,550.5 L49.5,547.4 L51.3,545.8 L55.1,544.0 L57.7,545.4 L59.1,545.7 L61.4,546.5 L65.6,547.0 L66.0,549.9 L66.9,552.0 L66.6,554.2 L67.1,557.1 L66.9,560.1 L65.6,563.3 L65.2,565.0 L63.8,568.1 L63.1,569.6 L61.7,571.9 L60.1,574.6 L59.0,576.6 L57.1,578.4 L55.7,576.0 L54.6,573.3 L53.8,570.7 L53.2,568.4 L52.9,566.5 L52.1,564.6 L50.7,562.6 L50.9,560.0 L49.6,558.3 L49.0,555.8Z"/>
<path d="M26.3,634.7 L28.7,633.7 L30.1,631.7 L32.6,632.2 L35.1,633.5 L36.6,631.7 L37.9,630.2 L40.1,628.4 L42.0,627.7 L45.1,626.7 L48.1,629.7 L46.9,631.4 L46.3,634.2 L43.6,635.6 L41.3,637.2 L41.3,639.1 L40.1,642.2 L37.1,643.5 L35.7,641.4 L33.8,639.7 L31.1,638.7 L28.8,637.7Z"/>
<path d="M88.9,609.7 L90.7,606.6 L91.4,604.1 L94.4,603.2 L96.4,602.6 L99.7,603.8 L102.7,604.7 L104.3,606.7 L105.4,607.7 L107.2,609.7 L106.9,611.9 L106.4,615.2 L103.4,616.7 L101.4,618.4 L98.8,618.9 L95.2,618.9 L92.8,617.6 L90.7,615.2 L89.4,612.8Z"/>
<path d="M122.0,595.1 L124.7,593.1 L127.7,592.1 L129.5,592.1 L131.7,593.2 L134.8,593.7 L136.5,593.4 L138.3,592.8 L140.8,592.8 L143.2,592.1 L145.3,592.1 L148.2,592.2 L149.9,591.1 L152.8,590.9 L154.4,589.5 L156.2,587.3 L157.8,585.9 L159.7,584.9 L162.1,583.9 L164.1,582.7 L166.6,582.1 L169.8,582.4 L172.2,582.6 L175.3,582.1 L178.3,581.9 L181.6,582.6 L180.8,586.6 L177.8,586.9 L175.3,588.4 L173.0,590.5 L171.6,592.1 L169.5,594.5 L166.6,595.9 L165.2,597.9 L164.5,600.0 L162.8,602.1 L161.8,604.2 L159.8,606.8 L159.0,608.4 L156.9,610.6 L155.3,613.4 L153.3,615.5 L151.5,618.4 L149.8,619.1 L147.3,621.0 L145.3,622.2 L142.6,622.6 L141.0,623.6 L139.2,624.4 L136.5,625.2 L135.0,622.9 L134.1,620.9 L132.7,618.4 L132.4,616.4 L131.0,614.5 L129.6,611.6 L129.0,609.7 L127.8,606.9 L126.9,604.7 L125.2,602.1 L123.7,600.3 L123.5,596.9Z"/>
<path d="M196.6,638.5 L197.5,636.2 L199.5,633.4 L200.4,631.7 L202.1,629.8 L204.3,629.3 L206.6,627.2 L206.5,625.4 L208.0,622.3 L207.9,620.2 L210.8,621.6 L214.1,622.2 L216.9,623.4 L220.4,623.4 L223.1,622.3 L226.7,622.2 L229.2,622.2 L229.0,625.0 L229.3,626.7 L229.7,630.1 L229.2,632.2 L229.5,634.7 L230.9,635.8 L231.7,638.5 L231.5,640.6 L230.1,643.7 L229.9,646.0 L228.9,648.0 L227.3,650.4 L225.4,652.2 L223.4,654.0 L220.4,654.2 L217.9,656.0 L215.7,656.1 L212.4,656.7 L210.0,655.6 L207.2,654.1 L205.4,652.2 L202.9,651.1 L201.7,649.4 L199.9,647.2 L199.5,644.9 L198.3,643.3 L197.8,640.7Z"/>
<path d="M753.1,479.2 L748.4,484.7 L753.9,490.5Z" fill="#fff"/>
</g>
<g shape-rendering="crispEdges">
<rect x="110.0" y="675.5" width="74.3" height="14" fill="#4d004b" stroke="#000" stroke-width="1"/>
<rect x="184.3" y="675.5" width="74.3" height="14" fill="#810f7c" stroke="#000" stroke-width="1"/>
<rect x="258.7" y="675.5" width="74.3" height="14" fill="#88419d" stroke="#000" stroke-width="1"/>
<rect x="333.0" y="675.5" width="74.3" height="14" fill="#8c6bb1" stroke="#000" stroke-width="1"/>
<rect x="407.4" y="675.5" width="74.3" height="14" fill="#8c96c6" stroke="#000" stroke-width="1"/>
<rect x="481.8" y="675.5" width="74.3" height="14" fill="#9ebcda" stroke="#000" stroke-width="1"/>
<rect x="556.1" y="675.5" width="74.3" height="14" fill="#fbfbfb" stroke="#000" stroke-width="1"/>
<rect x="630.4" y="675.5" width="74.3" height="14" fill="#ffd0d0" stroke="#000" stroke-width="1"/>
<rect x="704.8" y="675.5" width="74.3" height="14" fill="#ff8080" stroke="#000" stroke-width="1"/>
<rect x="779.1" y="675.5" width="74.3" height="14" fill="#ff3030" stroke="#000" stroke-width="1"/>
<rect x="853.5" y="675.5" width="74.3" height="14" fill="#d40000" stroke="#000" stroke-width="1"/>
<rect x="927.8" y="675.5" width="74.3" height="14" fill="#800000" stroke="#000" stroke-width="1"/>
<rect x="1002.2" y="675.5" width="74.3" height="14" fill="#5a0000" stroke="#000" stroke-width="1"/>
</g>
<g font-family="Liberation Sans, sans-serif" font-weight="bold" font-size="12px" letter-spacing="0.4" text-anchor="middle" fill="#000">
<text x="184.8" y="673">5</text>
<text x="259.2" y="673">10</text>
<text x="333.5" y="673">15</text>
<text x="407.9" y="673">25</text>
<text x="482.2" y="673">35</text>
<text x="556.6" y="673">45</text>
<text x="630.9" y="673">55</text>
<text x="705.3" y="673">65</text>
<text x="779.6" y="673">75</text>
<text x="854.0" y="673">85</text>
<text x="928.3" y="673">90</text>
<text x="1002.7" y="673">95</text>
</g><rect x="621" y="667" width="3" height="4" fill="#ff2020" shape-rendering="crispEdges"/><g shape-rendering="crispEdges" fill="#5c5c5c"><rect x="0" y="528" width="385" height="2"/><rect x="383" y="528" width="2" height="133"/></g>
</svg>
<div class="title"><span style="left:144.5px">Percentil </span><span style="left:220.0px">de </span><span style="left:243.7px">la </span><span style="left:263.2px">temperatura </span><span style="left:365.4px">máxima </span><span style="left:431.3px">(ºC) </span><span style="left:467.0px">prevista </span><span style="left:535.7px">para </span><span style="left:575.9px">el </span><span style="left:595.4px">miércoles </span><span style="left:677.0px">9 </span><span style="left:692.5px">de </span><span style="left:717.1px">agosto </span><span style="left:777.6px">de </span><span style="left:801.6px">2023 </span><span style="left:847.0px">respecto </span><span style="left:921.3px">al </span><span style="left:940.4px">periodo </span><span style="left:1006.7px">1991-2020</span></div>
<div class="src">Fuente de datos: AEMET OpenData</div>
<div class="cred" style="top:632.3px">http://climaenmapas.blogspot.com</div>
<div class="cred" style="top:645.3px">César Rodríguez Ballesteros, twitter: @crballesteros</div>
</body></html>
